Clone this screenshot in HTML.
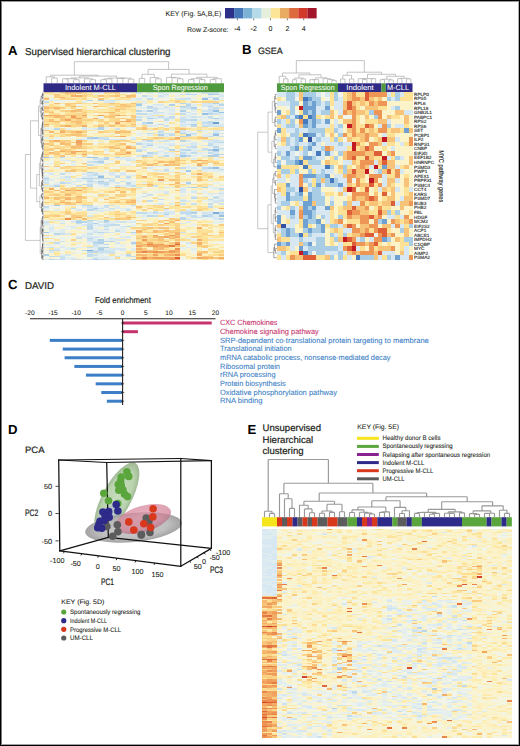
<!DOCTYPE html>
<html><head><meta charset="utf-8"><style>
html,body{margin:0;padding:0;background:#fff}
svg{display:block}
text{font-family:"Liberation Sans",sans-serif}
</style></head><body>
<svg width="520" height="746" viewBox="0 0 520 746" shape-rendering="crispEdges">
<rect x="0" y="0" width="520" height="746" fill="#fff"/>
<g shape-rendering="auto" text-rendering="geometricPrecision">
<text x="165.50" y="15.50" font-size="7.00" fill="#231f20" stroke="#231f20" stroke-width="0.08" textLength="55.70" lengthAdjust="spacingAndGlyphs">KEY (Fig. 5A,B,E)</text>
<rect x="225.00" y="8" width="9.21" height="10.4" fill="#2d3088"/>
<rect x="234.16" y="8" width="9.21" height="10.4" fill="#4577b8"/>
<rect x="243.32" y="8" width="9.21" height="10.4" fill="#7cb2d6"/>
<rect x="252.48" y="8" width="9.21" height="10.4" fill="#b6dbe8"/>
<rect x="261.64" y="8" width="9.21" height="10.4" fill="#e6efdc"/>
<rect x="270.80" y="8" width="9.21" height="10.4" fill="#fde597"/>
<rect x="279.96" y="8" width="9.21" height="10.4" fill="#e9aa62"/>
<rect x="289.12" y="8" width="9.21" height="10.4" fill="#dd6b3e"/>
<rect x="298.28" y="8" width="9.21" height="10.4" fill="#d13a2b"/>
<rect x="307.44" y="8" width="9.21" height="10.4" fill="#a3172c"/>
<line x1="237.40" y1="18.4" x2="237.40" y2="20.3" stroke="#231f20" stroke-width="0.6"/>
<line x1="253.70" y1="18.4" x2="253.70" y2="20.3" stroke="#231f20" stroke-width="0.6"/>
<line x1="270.50" y1="18.4" x2="270.50" y2="20.3" stroke="#231f20" stroke-width="0.6"/>
<line x1="287.40" y1="18.4" x2="287.40" y2="20.3" stroke="#231f20" stroke-width="0.6"/>
<line x1="303.70" y1="18.4" x2="303.70" y2="20.3" stroke="#231f20" stroke-width="0.6"/>
<text x="187.00" y="31.60" font-size="7.00" fill="#231f20" stroke="#231f20" stroke-width="0.08" textLength="41.50" lengthAdjust="spacingAndGlyphs">Row Z-score:</text>
<text x="237.40" y="31.40" font-size="7.00" fill="#231f20" stroke="#231f20" stroke-width="0.08" text-anchor="middle">-4</text>
<text x="253.70" y="31.40" font-size="7.00" fill="#231f20" stroke="#231f20" stroke-width="0.08" text-anchor="middle">-2</text>
<text x="270.50" y="31.40" font-size="7.00" fill="#231f20" stroke="#231f20" stroke-width="0.08" text-anchor="middle">0</text>
<text x="287.40" y="31.40" font-size="7.00" fill="#231f20" stroke="#231f20" stroke-width="0.08" text-anchor="middle">2</text>
<text x="303.70" y="31.40" font-size="7.00" fill="#231f20" stroke="#231f20" stroke-width="0.08" text-anchor="middle">4</text>
<text x="8.00" y="55.00" font-size="13.20" fill="#000" font-weight="bold">A</text>
<text x="25.00" y="54.50" font-size="10.00" fill="#231f20" stroke="#231f20" stroke-width="0.22" textLength="145.50" lengthAdjust="spacingAndGlyphs">Supervised hierarchical clustering</text>
<g shape-rendering="crispEdges" transform="translate(43.500 92.200) scale(5.46970 1.50000)">
<path fill="#6b9dd1" d="M31 20h1v1h-1z"/>
<path fill="#81aed8" d="M31 80h1v1h-1zM8 105h1v1h-1z"/>
<path fill="#8db7dc" d="M31 38h1v1h-1z"/>
<path fill="#98c0e0" d="M29 4h1v1h-1zM31 12h1v1h-1zM32 13h1v1h-1zM29 14h1v1h-1zM26 28h1v1h-1zM31 28h1v1h-1zM31 50h1v1h-1zM10 56h1v1h-1zM32 82h1v1h-1z"/>
<path fill="#a4c9e4" d="M30 1h1v1h-1zM17 8h1v1h-1zM19 20h1v1h-1zM9 30h1v1h-1zM25 42h1v1h-1zM0 43h1v1h-1zM8 43h2v1h-2zM26 52h1v1h-1zM2 75h1v1h-1zM11 85h1v1h-1zM0 93h1v1h-1z"/>
<path fill="#afd0e7" d="M31 1h1v1h-1zM31 4h1v1h-1zM10 5h1v1h-1zM31 7h1v1h-1zM23 8h1v1h-1zM19 9h1v1h-1zM25 9h1v1h-1zM27 10h1v1h-1zM19 12h1v1h-1zM25 12h1v1h-1zM19 17h1v1h-1zM31 17h1v1h-1zM27 21h1v1h-1zM10 23h1v1h-1zM10 24h1v1h-1zM25 27h1v1h-1zM21 28h1v1h-1zM25 29h1v1h-1zM8 30h1v1h-1zM19 35h1v1h-1zM30 38h1v1h-1zM31 41h1v1h-1zM18 42h1v1h-1zM30 42h2v1h-2zM10 46h1v1h-1zM30 50h1v1h-1zM8 53h1v1h-1zM0 57h1v1h-1zM7 57h1v1h-1zM10 59h1v1h-1zM26 60h1v1h-1zM27 63h1v1h-1zM29 63h1v1h-1zM9 77h1v1h-1zM27 80h1v1h-1zM22 81h1v1h-1zM29 82h1v1h-1zM6 86h1v1h-1zM9 87h1v1h-1zM10 98h1v1h-1zM10 100h1v1h-1zM16 100h1v1h-1zM11 103h1v1h-1zM10 104h1v1h-1zM0 108h1v1h-1zM9 111h1v1h-1zM16 111h1v1h-1z"/>
<path fill="#b9d6ea" d="M26 1h1v1h-1zM8 5h1v1h-1zM25 7h1v1h-1zM26 8h1v1h-1zM32 8h1v1h-1zM30 9h1v1h-1zM17 12h1v1h-1zM30 14h1v1h-1zM17 18h1v1h-1zM27 18h1v1h-1zM30 19h1v1h-1zM21 21h1v1h-1zM27 22h1v1h-1zM2 24h1v1h-1zM31 27h1v1h-1zM11 31h1v1h-1zM19 32h1v1h-1zM25 32h1v1h-1zM32 33h1v1h-1zM17 34h1v1h-1zM30 35h1v1h-1zM31 36h1v1h-1zM23 38h1v1h-1zM26 38h1v1h-1zM17 39h1v1h-1zM31 39h1v1h-1zM19 40h1v1h-1zM32 41h1v1h-1zM22 42h1v1h-1zM26 42h1v1h-1zM11 43h1v1h-1zM13 43h1v1h-1zM11 44h1v1h-1zM8 57h2v1h-2zM11 57h1v1h-1zM8 59h1v1h-1zM3 60h1v1h-1zM15 60h1v1h-1zM11 61h1v1h-1zM2 62h1v1h-1zM7 75h2v1h-2zM8 78h1v1h-1zM32 80h1v1h-1zM19 82h1v1h-1zM25 83h1v1h-1zM25 84h1v1h-1zM32 84h1v1h-1zM6 85h1v1h-1zM8 85h1v1h-1zM7 86h1v1h-1zM11 86h1v1h-1zM8 89h1v1h-1zM11 89h1v1h-1zM15 89h1v1h-1zM8 90h1v1h-1zM10 93h1v1h-1zM16 93h1v1h-1zM2 94h1v1h-1zM8 97h1v1h-1zM10 99h3v1h-3zM9 100h1v1h-1zM11 101h1v1h-1zM10 103h1v1h-1zM10 105h1v1h-1zM8 106h2v1h-2zM15 108h1v1h-1zM1 111h1v1h-1z"/>
<path fill="#c3dced" d="M22 1h1v1h-1zM27 1h1v1h-1zM18 2h1v1h-1zM19 4h1v1h-1zM0 6h1v1h-1zM17 7h1v1h-1zM26 9h1v1h-1zM19 10h1v1h-1zM31 10h1v1h-1zM20 11h1v1h-1zM30 11h1v1h-1zM17 14h2v1h-2zM25 14h1v1h-1zM21 16h1v1h-1zM23 16h1v1h-1zM30 16h1v1h-1zM22 17h1v1h-1zM25 17h1v1h-1zM22 18h1v1h-1zM26 18h1v1h-1zM25 19h1v1h-1zM18 20h1v1h-1zM29 20h2v1h-2zM29 22h1v1h-1zM28 25h1v1h-1zM21 26h1v1h-1zM19 27h1v1h-1zM27 27h1v1h-1zM23 28h1v1h-1zM26 29h1v1h-1zM30 29h1v1h-1zM10 30h1v1h-1zM30 34h1v1h-1zM27 36h1v1h-1zM29 37h1v1h-1zM32 37h1v1h-1zM17 38h1v1h-1zM25 38h1v1h-1zM25 40h1v1h-1zM27 40h1v1h-1zM30 40h1v1h-1zM1 43h1v1h-1zM3 43h1v1h-1zM9 46h1v1h-1zM8 48h1v1h-1zM28 49h1v1h-1zM25 50h1v1h-1zM29 50h1v1h-1zM22 51h1v1h-1zM32 51h1v1h-1zM3 54h1v1h-1zM9 54h1v1h-1zM9 55h2v1h-2zM13 56h1v1h-1zM15 56h1v1h-1zM10 57h1v1h-1zM10 60h2v1h-2zM7 61h2v1h-2zM15 61h1v1h-1zM8 62h1v1h-1zM16 62h1v1h-1zM32 64h1v1h-1zM18 69h1v1h-1zM27 70h1v1h-1zM31 70h1v1h-1zM21 71h1v1h-1zM30 71h1v1h-1zM19 72h1v1h-1zM30 74h1v1h-1zM11 75h1v1h-1zM16 75h1v1h-1zM0 76h1v1h-1zM30 76h1v1h-1zM5 77h1v1h-1zM26 79h1v1h-1zM17 80h2v1h-2zM20 80h1v1h-1zM25 80h2v1h-2zM26 81h1v1h-1zM30 81h1v1h-1zM32 81h1v1h-1zM20 82h1v1h-1zM27 82h1v1h-1zM30 82h1v1h-1zM28 83h1v1h-1zM6 87h1v1h-1zM8 88h1v1h-1zM12 88h2v1h-2zM8 91h1v1h-1zM11 91h1v1h-1zM13 92h1v1h-1zM6 97h1v1h-1zM9 99h1v1h-1zM2 100h1v1h-1zM8 103h1v1h-1zM1 105h2v1h-2zM7 105h1v1h-1zM8 108h1v1h-1zM1 109h2v1h-2zM8 109h1v1h-1zM16 109h1v1h-1zM3 111h1v1h-1zM10 111h1v1h-1z"/>
<path fill="#cde2ef" d="M29 0h3v1h-3zM25 1h1v1h-1zM21 2h1v1h-1zM30 3h2v1h-2zM25 4h2v1h-2zM12 5h1v1h-1zM26 7h1v1h-1zM30 7h1v1h-1zM22 9h1v1h-1zM20 10h1v1h-1zM25 10h2v1h-2zM27 11h1v1h-1zM31 11h1v1h-1zM29 12h2v1h-2zM20 13h2v1h-2zM26 13h1v1h-1zM30 13h1v1h-1zM31 14h1v1h-1zM17 16h1v1h-1zM27 16h1v1h-1zM20 17h1v1h-1zM23 17h1v1h-1zM30 17h1v1h-1zM25 18h1v1h-1zM18 21h1v1h-1zM26 21h1v1h-1zM30 21h1v1h-1zM22 22h1v1h-1zM30 22h2v1h-2zM13 24h1v1h-1zM25 25h1v1h-1zM32 25h1v1h-1zM22 27h2v1h-2zM32 29h1v1h-1zM11 30h1v1h-1zM6 31h1v1h-1zM14 31h1v1h-1zM16 31h1v1h-1zM22 32h1v1h-1zM31 32h1v1h-1zM31 33h1v1h-1zM19 34h1v1h-1zM23 35h1v1h-1zM25 35h1v1h-1zM18 36h1v1h-1zM26 36h1v1h-1zM22 37h1v1h-1zM31 37h1v1h-1zM29 38h1v1h-1zM20 40h1v1h-1zM25 41h1v1h-1zM19 42h1v1h-1zM9 44h2v1h-2zM10 45h1v1h-1zM15 45h1v1h-1zM8 46h1v1h-1zM10 47h1v1h-1zM22 52h1v1h-1zM8 55h1v1h-1zM13 55h1v1h-1zM4 56h1v1h-1zM0 58h1v1h-1zM8 58h1v1h-1zM12 58h1v1h-1zM9 59h1v1h-1zM12 59h1v1h-1zM14 59h1v1h-1zM0 60h1v1h-1zM4 60h1v1h-1zM6 62h1v1h-1zM13 62h1v1h-1zM20 62h1v1h-1zM17 63h1v1h-1zM26 63h1v1h-1zM18 67h1v1h-1zM22 67h1v1h-1zM32 67h1v1h-1zM19 68h1v1h-1zM31 69h1v1h-1zM25 72h1v1h-1zM32 72h1v1h-1zM31 73h1v1h-1zM25 74h1v1h-1zM27 74h1v1h-1zM32 74h1v1h-1zM12 75h1v1h-1zM8 76h1v1h-1zM11 76h1v1h-1zM10 77h1v1h-1zM12 77h1v1h-1zM9 78h1v1h-1zM15 78h1v1h-1zM20 79h1v1h-1zM25 79h1v1h-1zM27 79h1v1h-1zM22 80h1v1h-1zM29 80h1v1h-1zM27 83h1v1h-1zM9 85h1v1h-1zM0 86h1v1h-1zM8 86h1v1h-1zM14 86h1v1h-1zM3 87h1v1h-1zM8 87h1v1h-1zM11 88h1v1h-1zM9 93h1v1h-1zM11 93h1v1h-1zM25 93h1v1h-1zM3 94h1v1h-1zM8 94h1v1h-1zM12 97h1v1h-1zM8 98h1v1h-1zM3 99h1v1h-1zM9 101h1v1h-1zM9 102h1v1h-1zM1 103h1v1h-1zM5 104h1v1h-1zM9 105h1v1h-1zM11 105h1v1h-1zM10 106h3v1h-3zM12 107h1v1h-1zM9 108h1v1h-1zM3 109h1v1h-1zM13 109h1v1h-1zM15 109h1v1h-1zM3 110h1v1h-1zM9 110h1v1h-1zM2 111h1v1h-1zM5 111h2v1h-2zM8 111h1v1h-1zM11 111h1v1h-1z"/>
<path fill="#d7e8f2" d="M17 0h1v1h-1zM21 0h1v1h-1zM32 2h1v1h-1zM29 3h1v1h-1zM17 4h1v1h-1zM24 4h1v1h-1zM11 6h2v1h-2zM29 7h1v1h-1zM32 7h1v1h-1zM20 8h2v1h-2zM29 8h2v1h-2zM29 9h1v1h-1zM22 10h1v1h-1zM30 10h1v1h-1zM32 10h1v1h-1zM23 11h1v1h-1zM18 12h1v1h-1zM20 12h1v1h-1zM31 13h1v1h-1zM19 14h2v1h-2zM23 14h1v1h-1zM27 14h1v1h-1zM26 15h1v1h-1zM19 16h1v1h-1zM25 16h1v1h-1zM28 16h1v1h-1zM32 17h1v1h-1zM29 19h1v1h-1zM25 20h1v1h-1zM25 21h1v1h-1zM31 21h2v1h-2zM19 22h1v1h-1zM25 22h1v1h-1zM32 22h1v1h-1zM7 23h1v1h-1zM16 23h1v1h-1zM7 24h1v1h-1zM9 24h1v1h-1zM19 25h1v1h-1zM21 25h1v1h-1zM31 25h1v1h-1zM25 26h1v1h-1zM31 26h1v1h-1zM20 27h2v1h-2zM30 27h1v1h-1zM32 27h1v1h-1zM22 29h1v1h-1zM29 29h1v1h-1zM7 31h2v1h-2zM10 31h1v1h-1zM12 31h2v1h-2zM18 32h1v1h-1zM21 32h1v1h-1zM26 32h1v1h-1zM30 32h1v1h-1zM32 32h1v1h-1zM17 33h1v1h-1zM27 33h1v1h-1zM30 33h1v1h-1zM18 34h1v1h-1zM23 34h1v1h-1zM27 34h1v1h-1zM27 35h1v1h-1zM29 35h1v1h-1zM21 36h1v1h-1zM18 38h1v1h-1zM21 39h1v1h-1zM22 40h1v1h-1zM31 40h1v1h-1zM19 41h2v1h-2zM17 42h1v1h-1zM29 42h1v1h-1zM7 43h1v1h-1zM14 43h1v1h-1zM25 43h1v1h-1zM15 44h1v1h-1zM4 45h1v1h-1zM16 45h1v1h-1zM5 46h1v1h-1zM26 49h1v1h-1zM19 50h1v1h-1zM27 50h1v1h-1zM29 51h1v1h-1zM0 53h1v1h-1zM4 53h1v1h-1zM9 53h1v1h-1zM12 53h1v1h-1zM1 54h1v1h-1zM7 54h2v1h-2zM12 54h1v1h-1zM14 54h1v1h-1zM16 55h1v1h-1zM8 56h1v1h-1zM6 57h1v1h-1zM12 57h1v1h-1zM15 57h1v1h-1zM4 58h1v1h-1zM5 59h2v1h-2zM11 59h1v1h-1zM8 60h1v1h-1zM13 60h1v1h-1zM2 61h1v1h-1zM10 61h1v1h-1zM26 61h1v1h-1zM0 62h2v1h-2zM11 62h1v1h-1zM15 62h1v1h-1zM22 63h1v1h-1zM25 64h1v1h-1zM25 65h1v1h-1zM22 66h1v1h-1zM25 66h1v1h-1zM27 66h1v1h-1zM30 67h2v1h-2zM27 69h1v1h-1zM32 71h1v1h-1zM31 72h1v1h-1zM21 74h1v1h-1zM30 75h1v1h-1zM9 76h1v1h-1zM8 77h1v1h-1zM6 78h1v1h-1zM22 78h1v1h-1zM10 79h1v1h-1zM23 79h1v1h-1zM19 80h1v1h-1zM21 80h1v1h-1zM23 80h1v1h-1zM30 80h1v1h-1zM29 81h1v1h-1zM31 81h1v1h-1zM8 82h1v1h-1zM26 82h1v1h-1zM30 83h2v1h-2zM26 84h1v1h-1zM31 84h1v1h-1zM2 85h1v1h-1zM5 86h1v1h-1zM10 86h1v1h-1zM13 86h1v1h-1zM16 86h1v1h-1zM0 87h1v1h-1zM12 87h1v1h-1zM25 87h1v1h-1zM7 88h1v1h-1zM10 88h1v1h-1zM5 89h1v1h-1zM14 89h1v1h-1zM1 90h1v1h-1zM1 91h1v1h-1zM9 92h1v1h-1zM3 93h1v1h-1zM12 93h1v1h-1zM4 94h1v1h-1zM6 96h1v1h-1zM8 96h2v1h-2zM15 96h1v1h-1zM13 98h2v1h-2zM0 99h1v1h-1zM8 99h1v1h-1zM13 100h1v1h-1zM26 100h1v1h-1zM0 101h1v1h-1zM10 101h1v1h-1zM16 101h1v1h-1zM0 103h1v1h-1zM3 103h1v1h-1zM2 104h1v1h-1zM12 104h3v1h-3zM12 105h1v1h-1zM14 105h1v1h-1zM1 106h1v1h-1zM8 107h1v1h-1zM10 107h1v1h-1zM4 108h1v1h-1z"/>
<path fill="#dfecf0" d="M19 0h1v1h-1zM26 0h1v1h-1zM9 1h1v1h-1zM32 1h1v1h-1zM19 2h1v1h-1zM21 3h1v1h-1zM26 3h1v1h-1zM16 4h1v1h-1zM1 5h2v1h-2zM11 5h1v1h-1zM13 5h1v1h-1zM15 5h1v1h-1zM17 5h1v1h-1zM31 5h1v1h-1zM7 6h1v1h-1zM18 7h1v1h-1zM27 8h1v1h-1zM31 8h1v1h-1zM17 9h1v1h-1zM27 9h1v1h-1zM18 10h1v1h-1zM21 10h1v1h-1zM23 10h1v1h-1zM21 11h1v1h-1zM25 11h2v1h-2zM23 12h1v1h-1zM27 12h1v1h-1zM25 13h1v1h-1zM21 14h1v1h-1zM32 14h1v1h-1zM19 15h1v1h-1zM18 16h1v1h-1zM20 16h1v1h-1zM22 16h1v1h-1zM26 16h1v1h-1zM29 16h1v1h-1zM32 16h1v1h-1zM17 17h1v1h-1zM19 18h1v1h-1zM28 18h1v1h-1zM31 18h2v1h-2zM27 19h1v1h-1zM27 20h1v1h-1zM29 21h1v1h-1zM20 22h1v1h-1zM11 23h1v1h-1zM0 24h1v1h-1zM23 25h1v1h-1zM29 25h1v1h-1zM26 26h1v1h-1zM18 27h1v1h-1zM19 28h1v1h-1zM22 28h1v1h-1zM27 28h1v1h-1zM29 28h1v1h-1zM21 29h1v1h-1zM31 29h1v1h-1zM0 30h1v1h-1zM16 30h1v1h-1zM31 31h1v1h-1zM23 32h1v1h-1zM29 32h1v1h-1zM10 33h1v1h-1zM22 34h1v1h-1zM26 34h1v1h-1zM31 34h1v1h-1zM16 35h1v1h-1zM22 36h1v1h-1zM27 37h1v1h-1zM11 38h1v1h-1zM22 38h1v1h-1zM27 38h2v1h-2zM32 38h1v1h-1zM25 39h1v1h-1zM27 39h1v1h-1zM30 39h1v1h-1zM23 40h1v1h-1zM26 40h1v1h-1zM28 40h1v1h-1zM26 41h1v1h-1zM28 41h1v1h-1zM21 42h1v1h-1zM24 42h1v1h-1zM27 42h1v1h-1zM6 43h1v1h-1zM15 43h1v1h-1zM14 44h1v1h-1zM16 44h1v1h-1zM27 44h1v1h-1zM3 45h1v1h-1zM9 47h1v1h-1zM11 47h1v1h-1zM5 48h1v1h-1zM9 48h1v1h-1zM20 49h2v1h-2zM31 49h1v1h-1zM26 50h1v1h-1zM28 51h1v1h-1zM30 51h2v1h-2zM20 52h2v1h-2zM29 52h1v1h-1zM31 52h2v1h-2zM11 53h1v1h-1zM13 53h2v1h-2zM2 55h1v1h-1zM12 55h1v1h-1zM14 55h2v1h-2zM0 56h1v1h-1zM3 56h1v1h-1zM7 56h1v1h-1zM2 57h3v1h-3zM14 57h1v1h-1zM1 58h1v1h-1zM6 58h2v1h-2zM10 58h1v1h-1zM0 59h1v1h-1zM3 59h1v1h-1zM16 59h1v1h-1zM21 59h1v1h-1zM26 59h1v1h-1zM9 60h1v1h-1zM5 61h1v1h-1zM16 61h1v1h-1zM14 62h1v1h-1zM30 62h1v1h-1zM23 63h1v1h-1zM28 63h1v1h-1zM30 63h2v1h-2zM31 64h1v1h-1zM27 65h1v1h-1zM32 66h1v1h-1zM32 68h1v1h-1zM11 69h1v1h-1zM29 69h1v1h-1zM25 71h1v1h-1zM26 72h1v1h-1zM30 72h1v1h-1zM23 74h1v1h-1zM1 75h1v1h-1zM7 76h1v1h-1zM13 76h1v1h-1zM0 77h1v1h-1zM13 77h3v1h-3zM2 78h1v1h-1zM10 78h3v1h-3zM26 78h1v1h-1zM22 79h1v1h-1zM28 79h1v1h-1zM30 79h1v1h-1zM32 79h1v1h-1zM18 81h1v1h-1zM25 81h1v1h-1zM18 82h1v1h-1zM22 82h1v1h-1zM31 82h1v1h-1zM12 83h1v1h-1zM3 85h1v1h-1zM13 85h1v1h-1zM12 86h1v1h-1zM15 86h1v1h-1zM26 86h1v1h-1zM32 86h1v1h-1zM11 87h1v1h-1zM0 88h1v1h-1zM9 88h1v1h-1zM4 89h1v1h-1zM10 89h1v1h-1zM5 90h1v1h-1zM11 90h1v1h-1zM14 90h1v1h-1zM3 91h1v1h-1zM10 91h1v1h-1zM13 91h1v1h-1zM1 92h1v1h-1zM3 92h1v1h-1zM14 92h1v1h-1zM8 93h1v1h-1zM14 93h1v1h-1zM10 94h1v1h-1zM16 94h1v1h-1zM7 95h1v1h-1zM0 96h1v1h-1zM7 96h1v1h-1zM10 96h1v1h-1zM14 96h1v1h-1zM3 97h1v1h-1zM9 97h1v1h-1zM26 97h1v1h-1zM9 98h1v1h-1zM12 98h1v1h-1zM1 99h1v1h-1zM5 99h2v1h-2zM6 103h1v1h-1zM9 103h1v1h-1zM26 103h1v1h-1zM4 104h1v1h-1zM9 104h1v1h-1zM11 104h1v1h-1zM16 104h1v1h-1zM27 104h1v1h-1zM16 105h1v1h-1zM5 107h1v1h-1zM11 107h1v1h-1zM3 108h1v1h-1zM11 109h1v1h-1zM4 110h2v1h-2zM10 110h2v1h-2zM0 111h1v1h-1zM12 111h3v1h-3z"/>
<path fill="#e8f0ed" d="M10 0h1v1h-1zM22 0h1v1h-1zM28 0h1v1h-1zM32 0h1v1h-1zM28 1h1v1h-1zM22 2h1v1h-1zM24 2h1v1h-1zM27 2h1v1h-1zM30 2h1v1h-1zM17 3h3v1h-3zM22 3h1v1h-1zM25 3h1v1h-1zM32 3h1v1h-1zM1 4h1v1h-1zM20 4h1v1h-1zM27 4h1v1h-1zM30 4h1v1h-1zM32 4h1v1h-1zM4 5h2v1h-2zM16 5h1v1h-1zM18 5h1v1h-1zM22 5h1v1h-1zM26 5h1v1h-1zM3 6h1v1h-1zM18 6h1v1h-1zM24 7h1v1h-1zM0 8h1v1h-1zM12 9h1v1h-1zM17 10h1v1h-1zM8 11h1v1h-1zM22 11h1v1h-1zM22 12h1v1h-1zM32 12h1v1h-1zM17 13h1v1h-1zM22 13h2v1h-2zM29 13h1v1h-1zM22 14h1v1h-1zM26 14h1v1h-1zM29 15h1v1h-1zM32 15h1v1h-1zM10 16h1v1h-1zM10 17h1v1h-1zM21 17h1v1h-1zM26 17h2v1h-2zM29 17h1v1h-1zM23 18h1v1h-1zM29 18h1v1h-1zM18 19h1v1h-1zM22 19h1v1h-1zM26 19h1v1h-1zM31 19h1v1h-1zM22 20h1v1h-1zM26 20h1v1h-1zM32 20h1v1h-1zM17 21h1v1h-1zM20 21h1v1h-1zM23 21h1v1h-1zM26 22h1v1h-1zM0 23h1v1h-1zM15 23h1v1h-1zM1 24h1v1h-1zM4 24h1v1h-1zM8 24h1v1h-1zM11 24h1v1h-1zM30 25h1v1h-1zM29 26h1v1h-1zM12 27h1v1h-1zM17 27h1v1h-1zM26 27h1v1h-1zM17 28h1v1h-1zM30 28h1v1h-1zM2 30h1v1h-1zM7 30h1v1h-1zM1 31h1v1h-1zM9 31h1v1h-1zM20 32h1v1h-1zM18 33h1v1h-1zM20 34h2v1h-2zM25 34h1v1h-1zM28 34h1v1h-1zM32 34h1v1h-1zM18 35h1v1h-1zM20 35h1v1h-1zM31 35h2v1h-2zM19 36h1v1h-1zM30 36h1v1h-1zM20 37h2v1h-2zM25 37h2v1h-2zM24 38h1v1h-1zM26 39h1v1h-1zM21 40h1v1h-1zM29 40h1v1h-1zM18 41h1v1h-1zM22 41h2v1h-2zM23 42h1v1h-1zM4 43h1v1h-1zM12 43h1v1h-1zM3 44h1v1h-1zM13 44h1v1h-1zM31 44h1v1h-1zM8 45h2v1h-2zM12 45h1v1h-1zM1 47h1v1h-1zM3 48h1v1h-1zM14 48h2v1h-2zM22 49h1v1h-1zM29 49h2v1h-2zM2 50h1v1h-1zM22 50h1v1h-1zM32 50h1v1h-1zM0 51h1v1h-1zM23 52h1v1h-1zM25 52h1v1h-1zM30 52h1v1h-1zM1 53h2v1h-2zM10 53h1v1h-1zM25 53h1v1h-1zM4 54h1v1h-1zM10 54h1v1h-1zM0 55h1v1h-1zM27 55h1v1h-1zM9 56h1v1h-1zM1 57h1v1h-1zM5 57h1v1h-1zM9 58h1v1h-1zM15 58h1v1h-1zM30 58h1v1h-1zM2 60h1v1h-1zM5 60h1v1h-1zM12 60h1v1h-1zM16 60h1v1h-1zM18 60h1v1h-1zM31 60h1v1h-1zM1 61h1v1h-1zM4 62h1v1h-1zM10 62h1v1h-1zM32 62h1v1h-1zM15 63h1v1h-1zM25 63h1v1h-1zM21 65h1v1h-1zM20 66h2v1h-2zM29 66h1v1h-1zM10 67h1v1h-1zM19 67h1v1h-1zM29 67h1v1h-1zM25 68h1v1h-1zM30 68h1v1h-1zM9 69h1v1h-1zM21 69h1v1h-1zM25 69h1v1h-1zM32 69h1v1h-1zM17 70h1v1h-1zM32 70h1v1h-1zM17 72h1v1h-1zM29 72h1v1h-1zM20 74h1v1h-1zM3 75h4v1h-4zM10 76h1v1h-1zM31 77h1v1h-1zM0 78h1v1h-1zM14 78h1v1h-1zM8 80h2v1h-2zM19 81h1v1h-1zM21 81h1v1h-1zM23 81h1v1h-1zM17 82h1v1h-1zM28 82h1v1h-1zM18 83h1v1h-1zM22 83h2v1h-2zM29 83h1v1h-1zM18 84h1v1h-1zM27 84h1v1h-1zM29 84h1v1h-1zM1 85h1v1h-1zM5 85h1v1h-1zM10 85h1v1h-1zM15 85h1v1h-1zM3 86h1v1h-1zM31 86h1v1h-1zM30 87h2v1h-2zM1 88h1v1h-1zM6 88h1v1h-1zM16 88h1v1h-1zM27 88h1v1h-1zM1 89h1v1h-1zM12 89h1v1h-1zM16 89h1v1h-1zM19 89h1v1h-1zM26 89h1v1h-1zM9 90h1v1h-1zM13 90h1v1h-1zM0 91h1v1h-1zM4 91h1v1h-1zM6 91h1v1h-1zM9 91h1v1h-1zM12 91h1v1h-1zM14 91h2v1h-2zM21 91h1v1h-1zM2 92h1v1h-1zM8 92h1v1h-1zM10 92h2v1h-2zM1 93h2v1h-2zM27 93h1v1h-1zM7 94h1v1h-1zM9 94h1v1h-1zM2 95h1v1h-1zM8 95h1v1h-1zM13 95h1v1h-1zM25 95h1v1h-1zM15 97h1v1h-1zM30 97h1v1h-1zM11 98h1v1h-1zM27 98h1v1h-1zM16 99h1v1h-1zM25 99h1v1h-1zM8 100h1v1h-1zM2 101h1v1h-1zM6 101h1v1h-1zM13 101h2v1h-2zM26 101h1v1h-1zM1 102h1v1h-1zM3 102h1v1h-1zM10 102h1v1h-1zM14 102h1v1h-1zM27 102h1v1h-1zM4 103h2v1h-2zM7 103h1v1h-1zM13 103h1v1h-1zM25 103h1v1h-1zM8 104h1v1h-1zM25 104h1v1h-1zM0 105h1v1h-1zM3 105h1v1h-1zM27 105h1v1h-1zM10 108h1v1h-1zM14 108h1v1h-1zM9 109h2v1h-2zM12 109h1v1h-1zM12 110h1v1h-1zM4 111h1v1h-1zM7 111h1v1h-1z"/>
<path fill="#f0f4eb" d="M18 0h1v1h-1zM20 0h1v1h-1zM23 0h2v1h-2zM27 0h1v1h-1zM17 1h1v1h-1zM20 1h2v1h-2zM24 1h1v1h-1zM26 2h1v1h-1zM20 3h1v1h-1zM23 3h1v1h-1zM22 4h1v1h-1zM3 5h1v1h-1zM14 5h1v1h-1zM20 5h2v1h-2zM2 6h1v1h-1zM8 6h1v1h-1zM15 6h1v1h-1zM20 6h1v1h-1zM21 7h1v1h-1zM23 7h1v1h-1zM27 7h2v1h-2zM6 8h1v1h-1zM18 8h2v1h-2zM18 9h1v1h-1zM21 9h1v1h-1zM32 9h1v1h-1zM24 10h1v1h-1zM28 10h2v1h-2zM4 11h1v1h-1zM18 11h2v1h-2zM29 11h1v1h-1zM21 12h1v1h-1zM24 12h1v1h-1zM18 13h2v1h-2zM27 13h1v1h-1zM22 15h1v1h-1zM24 16h1v1h-1zM31 16h1v1h-1zM20 18h2v1h-2zM19 19h1v1h-1zM32 19h1v1h-1zM17 20h1v1h-1zM20 20h2v1h-2zM3 23h1v1h-1zM12 23h1v1h-1zM22 23h1v1h-1zM15 24h1v1h-1zM26 25h1v1h-1zM9 26h1v1h-1zM17 26h1v1h-1zM27 26h1v1h-1zM32 26h1v1h-1zM32 28h1v1h-1zM16 29h1v1h-1zM24 29h1v1h-1zM12 30h1v1h-1zM15 30h1v1h-1zM2 31h1v1h-1zM9 33h1v1h-1zM11 33h1v1h-1zM19 33h1v1h-1zM23 33h1v1h-1zM29 33h1v1h-1zM9 34h1v1h-1zM24 34h1v1h-1zM21 35h1v1h-1zM20 36h1v1h-1zM32 36h1v1h-1zM30 37h1v1h-1zM20 38h2v1h-2zM19 39h1v1h-1zM32 39h1v1h-1zM11 40h1v1h-1zM18 40h1v1h-1zM21 41h1v1h-1zM8 42h1v1h-1zM28 42h1v1h-1zM32 42h1v1h-1zM5 43h1v1h-1zM10 43h1v1h-1zM16 43h1v1h-1zM1 45h1v1h-1zM1 46h1v1h-1zM7 46h1v1h-1zM11 46h2v1h-2zM15 46h1v1h-1zM0 47h1v1h-1zM15 47h2v1h-2zM30 47h1v1h-1zM0 48h1v1h-1zM16 48h1v1h-1zM26 48h1v1h-1zM23 49h2v1h-2zM32 49h1v1h-1zM0 50h1v1h-1zM12 50h2v1h-2zM17 50h1v1h-1zM20 50h2v1h-2zM9 51h1v1h-1zM19 51h1v1h-1zM27 51h1v1h-1zM11 52h1v1h-1zM19 52h1v1h-1zM3 53h1v1h-1zM5 53h3v1h-3zM15 53h1v1h-1zM26 53h1v1h-1zM32 53h1v1h-1zM0 54h1v1h-1zM5 54h1v1h-1zM13 54h1v1h-1zM23 54h1v1h-1zM26 54h1v1h-1zM32 54h1v1h-1zM3 55h1v1h-1zM5 55h1v1h-1zM7 55h1v1h-1zM11 55h1v1h-1zM11 58h1v1h-1zM16 58h1v1h-1zM13 59h1v1h-1zM15 59h1v1h-1zM1 60h1v1h-1zM6 60h2v1h-2zM22 60h1v1h-1zM25 60h1v1h-1zM27 60h1v1h-1zM32 60h1v1h-1zM9 61h1v1h-1zM12 61h1v1h-1zM14 61h1v1h-1zM31 61h1v1h-1zM5 62h1v1h-1zM9 62h1v1h-1zM12 62h1v1h-1zM9 63h1v1h-1zM11 63h1v1h-1zM19 63h1v1h-1zM18 64h1v1h-1zM30 64h1v1h-1zM17 65h1v1h-1zM29 65h2v1h-2zM26 66h1v1h-1zM8 67h1v1h-1zM27 67h1v1h-1zM17 68h2v1h-2zM23 68h1v1h-1zM31 68h1v1h-1zM17 69h1v1h-1zM30 69h1v1h-1zM23 70h1v1h-1zM10 71h1v1h-1zM17 71h1v1h-1zM20 71h1v1h-1zM27 71h1v1h-1zM31 71h1v1h-1zM21 72h1v1h-1zM23 72h1v1h-1zM19 73h1v1h-1zM21 73h1v1h-1zM27 73h1v1h-1zM17 74h2v1h-2zM0 75h1v1h-1zM9 75h2v1h-2zM13 75h1v1h-1zM15 75h1v1h-1zM1 76h3v1h-3zM6 76h1v1h-1zM15 76h2v1h-2zM1 77h1v1h-1zM3 77h1v1h-1zM6 77h1v1h-1zM18 77h1v1h-1zM7 78h1v1h-1zM17 79h1v1h-1zM31 79h1v1h-1zM28 80h1v1h-1zM20 81h1v1h-1zM27 81h2v1h-2zM25 82h1v1h-1zM21 83h1v1h-1zM24 83h1v1h-1zM21 84h1v1h-1zM28 84h1v1h-1zM30 84h1v1h-1zM0 85h1v1h-1zM4 85h1v1h-1zM16 85h1v1h-1zM32 85h1v1h-1zM9 86h1v1h-1zM7 87h1v1h-1zM10 87h1v1h-1zM16 87h1v1h-1zM21 87h1v1h-1zM2 88h1v1h-1zM14 88h1v1h-1zM2 89h2v1h-2zM6 89h1v1h-1zM9 89h1v1h-1zM22 89h1v1h-1zM25 89h1v1h-1zM0 90h1v1h-1zM4 90h1v1h-1zM12 90h1v1h-1zM2 91h1v1h-1zM23 91h1v1h-1zM7 92h1v1h-1zM16 92h1v1h-1zM13 93h1v1h-1zM0 94h2v1h-2zM6 94h1v1h-1zM14 94h2v1h-2zM27 95h1v1h-1zM1 96h1v1h-1zM3 96h2v1h-2zM12 96h1v1h-1zM2 97h1v1h-1zM7 97h1v1h-1zM11 97h1v1h-1zM22 97h1v1h-1zM27 97h1v1h-1zM1 98h1v1h-1zM3 98h1v1h-1zM2 99h1v1h-1zM32 99h1v1h-1zM4 100h1v1h-1zM25 100h1v1h-1zM31 100h2v1h-2zM1 101h1v1h-1zM3 101h1v1h-1zM8 101h1v1h-1zM15 101h1v1h-1zM2 102h1v1h-1zM6 102h1v1h-1zM11 102h1v1h-1zM13 102h1v1h-1zM26 102h1v1h-1zM16 103h1v1h-1zM3 104h1v1h-1zM29 104h1v1h-1zM5 105h2v1h-2zM13 105h1v1h-1zM6 106h1v1h-1zM13 106h1v1h-1zM27 106h1v1h-1zM6 107h1v1h-1zM27 107h1v1h-1zM11 108h1v1h-1zM0 109h1v1h-1zM4 109h2v1h-2zM14 109h1v1h-1zM27 109h1v1h-1zM0 110h1v1h-1zM7 110h1v1h-1zM15 111h1v1h-1zM25 111h1v1h-1zM27 111h1v1h-1z"/>
<path fill="#f5f4dc" d="M14 0h2v1h-2zM25 0h1v1h-1zM23 1h1v1h-1zM1 2h1v1h-1zM17 2h1v1h-1zM29 2h1v1h-1zM31 2h1v1h-1zM10 3h1v1h-1zM12 3h1v1h-1zM24 3h1v1h-1zM28 3h1v1h-1zM9 4h1v1h-1zM18 4h1v1h-1zM21 4h1v1h-1zM0 5h1v1h-1zM7 5h1v1h-1zM27 5h2v1h-2zM9 6h1v1h-1zM14 6h1v1h-1zM22 7h1v1h-1zM3 8h1v1h-1zM9 8h1v1h-1zM24 8h1v1h-1zM8 9h1v1h-1zM20 9h1v1h-1zM28 9h1v1h-1zM6 10h1v1h-1zM10 10h1v1h-1zM9 11h1v1h-1zM26 12h1v1h-1zM24 13h1v1h-1zM9 14h1v1h-1zM27 15h2v1h-2zM30 15h1v1h-1zM8 16h1v1h-1zM15 16h1v1h-1zM18 17h1v1h-1zM28 17h1v1h-1zM18 18h1v1h-1zM30 18h1v1h-1zM23 19h1v1h-1zM9 20h1v1h-1zM24 20h1v1h-1zM19 21h1v1h-1zM21 22h1v1h-1zM23 22h1v1h-1zM6 23h1v1h-1zM5 24h1v1h-1zM16 24h1v1h-1zM10 25h1v1h-1zM17 25h1v1h-1zM20 25h1v1h-1zM8 26h1v1h-1zM16 26h1v1h-1zM22 26h1v1h-1zM1 27h1v1h-1zM28 27h1v1h-1zM13 28h1v1h-1zM18 28h1v1h-1zM5 29h1v1h-1zM9 29h1v1h-1zM17 29h1v1h-1zM19 29h1v1h-1zM3 30h3v1h-3zM13 30h1v1h-1zM18 30h1v1h-1zM4 31h1v1h-1zM9 32h1v1h-1zM11 32h1v1h-1zM27 32h1v1h-1zM0 33h1v1h-1zM8 33h1v1h-1zM22 33h1v1h-1zM26 33h1v1h-1zM15 34h1v1h-1zM17 35h1v1h-1zM22 35h1v1h-1zM17 37h2v1h-2zM23 37h1v1h-1zM28 37h1v1h-1zM8 38h1v1h-1zM19 38h1v1h-1zM1 39h1v1h-1zM11 39h1v1h-1zM17 40h1v1h-1zM32 40h1v1h-1zM8 41h1v1h-1zM27 41h1v1h-1zM29 41h2v1h-2zM1 42h1v1h-1zM6 42h1v1h-1zM16 42h1v1h-1zM27 43h1v1h-1zM1 44h1v1h-1zM7 44h2v1h-2zM17 44h1v1h-1zM32 44h1v1h-1zM11 45h1v1h-1zM14 45h1v1h-1zM0 46h1v1h-1zM4 46h1v1h-1zM14 46h1v1h-1zM5 47h1v1h-1zM1 48h1v1h-1zM4 48h1v1h-1zM10 48h1v1h-1zM13 48h1v1h-1zM30 48h1v1h-1zM19 49h1v1h-1zM27 49h1v1h-1zM18 51h1v1h-1zM23 51h1v1h-1zM26 51h1v1h-1zM24 52h1v1h-1zM11 54h1v1h-1zM15 54h2v1h-2zM31 54h1v1h-1zM1 55h1v1h-1zM4 55h1v1h-1zM18 55h1v1h-1zM21 55h1v1h-1zM25 55h1v1h-1zM32 55h1v1h-1zM2 56h1v1h-1zM6 56h1v1h-1zM11 56h2v1h-2zM26 56h1v1h-1zM13 57h1v1h-1zM16 57h1v1h-1zM2 58h1v1h-1zM5 58h1v1h-1zM1 59h2v1h-2zM7 59h1v1h-1zM27 59h1v1h-1zM32 59h1v1h-1zM14 60h1v1h-1zM30 60h1v1h-1zM10 63h1v1h-1zM16 63h1v1h-1zM18 63h1v1h-1zM20 63h1v1h-1zM32 63h1v1h-1zM2 64h1v1h-1zM22 64h1v1h-1zM26 64h1v1h-1zM18 65h1v1h-1zM20 65h1v1h-1zM22 65h2v1h-2zM15 66h1v1h-1zM19 66h1v1h-1zM28 66h1v1h-1zM13 67h1v1h-1zM17 67h1v1h-1zM20 67h1v1h-1zM25 67h2v1h-2zM7 68h3v1h-3zM20 68h1v1h-1zM27 68h3v1h-3zM19 69h2v1h-2zM22 69h1v1h-1zM15 70h1v1h-1zM18 70h1v1h-1zM30 70h1v1h-1zM18 71h2v1h-2zM26 71h1v1h-1zM10 72h1v1h-1zM22 72h1v1h-1zM29 73h2v1h-2zM9 74h1v1h-1zM11 74h1v1h-1zM19 74h1v1h-1zM31 74h1v1h-1zM14 75h1v1h-1zM25 75h1v1h-1zM29 75h1v1h-1zM22 76h1v1h-1zM7 77h1v1h-1zM11 77h1v1h-1zM16 77h1v1h-1zM27 77h1v1h-1zM1 78h1v1h-1zM3 78h1v1h-1zM5 78h1v1h-1zM16 78h1v1h-1zM23 78h1v1h-1zM31 78h1v1h-1zM8 79h1v1h-1zM14 79h1v1h-1zM19 79h1v1h-1zM21 79h1v1h-1zM29 79h1v1h-1zM24 80h1v1h-1zM17 81h1v1h-1zM4 82h1v1h-1zM11 82h1v1h-1zM23 82h1v1h-1zM3 83h1v1h-1zM19 83h1v1h-1zM17 84h1v1h-1zM31 85h1v1h-1zM4 86h1v1h-1zM17 86h1v1h-1zM19 86h1v1h-1zM27 86h1v1h-1zM4 87h1v1h-1zM13 87h3v1h-3zM32 87h1v1h-1zM4 88h2v1h-2zM15 88h1v1h-1zM13 89h1v1h-1zM17 89h1v1h-1zM28 89h1v1h-1zM7 90h1v1h-1zM5 91h1v1h-1zM31 91h1v1h-1zM0 92h1v1h-1zM4 92h1v1h-1zM12 92h1v1h-1zM26 92h1v1h-1zM5 93h1v1h-1zM12 94h1v1h-1zM18 94h1v1h-1zM31 94h1v1h-1zM6 95h1v1h-1zM9 95h3v1h-3zM14 95h1v1h-1zM21 95h1v1h-1zM2 96h1v1h-1zM5 96h1v1h-1zM13 96h1v1h-1zM16 96h1v1h-1zM4 97h1v1h-1zM10 97h1v1h-1zM16 97h1v1h-1zM32 97h1v1h-1zM4 98h1v1h-1zM16 98h1v1h-1zM7 99h1v1h-1zM14 99h1v1h-1zM30 99h1v1h-1zM3 100h1v1h-1zM11 100h1v1h-1zM15 100h1v1h-1zM25 101h1v1h-1zM0 102h1v1h-1zM4 102h1v1h-1zM12 102h1v1h-1zM16 102h1v1h-1zM14 103h1v1h-1zM30 103h2v1h-2zM15 104h1v1h-1zM4 105h1v1h-1zM0 106h1v1h-1zM3 106h1v1h-1zM7 106h1v1h-1zM14 106h1v1h-1zM0 107h1v1h-1zM16 107h1v1h-1zM30 107h1v1h-1zM7 108h1v1h-1zM13 108h1v1h-1zM6 109h2v1h-2zM25 109h1v1h-1zM2 110h1v1h-1zM8 110h1v1h-1zM14 110h1v1h-1zM25 110h1v1h-1zM26 111h1v1h-1z"/>
<path fill="#faf3ce" d="M15 1h1v1h-1zM18 1h2v1h-2zM29 1h1v1h-1zM0 2h1v1h-1zM8 3h1v1h-1zM27 3h1v1h-1zM9 5h1v1h-1zM4 6h2v1h-2zM10 6h1v1h-1zM32 6h1v1h-1zM1 7h1v1h-1zM19 7h2v1h-2zM22 8h1v1h-1zM25 8h1v1h-1zM23 9h1v1h-1zM31 9h1v1h-1zM8 10h1v1h-1zM17 11h1v1h-1zM28 13h1v1h-1zM0 14h1v1h-1zM15 14h1v1h-1zM28 14h1v1h-1zM17 15h1v1h-1zM23 15h2v1h-2zM31 15h1v1h-1zM14 16h1v1h-1zM14 18h1v1h-1zM17 19h1v1h-1zM3 20h1v1h-1zM22 21h1v1h-1zM28 21h1v1h-1zM1 22h1v1h-1zM17 22h1v1h-1zM1 23h1v1h-1zM4 23h1v1h-1zM14 23h1v1h-1zM19 23h1v1h-1zM26 23h2v1h-2zM30 23h1v1h-1zM6 24h1v1h-1zM19 26h1v1h-1zM23 26h1v1h-1zM30 26h1v1h-1zM8 27h1v1h-1zM11 27h1v1h-1zM29 27h1v1h-1zM8 28h1v1h-1zM16 28h1v1h-1zM28 28h1v1h-1zM20 29h1v1h-1zM23 29h1v1h-1zM6 30h1v1h-1zM14 30h1v1h-1zM32 30h1v1h-1zM3 31h1v1h-1zM15 31h1v1h-1zM32 31h1v1h-1zM17 32h1v1h-1zM24 32h1v1h-1zM28 32h1v1h-1zM14 33h1v1h-1zM24 33h2v1h-2zM28 33h1v1h-1zM2 34h1v1h-1zM5 34h1v1h-1zM16 34h1v1h-1zM29 34h1v1h-1zM3 35h1v1h-1zM28 35h1v1h-1zM17 36h1v1h-1zM23 36h1v1h-1zM25 36h1v1h-1zM29 36h1v1h-1zM2 38h1v1h-1zM6 38h1v1h-1zM10 38h1v1h-1zM13 38h1v1h-1zM15 38h1v1h-1zM22 39h1v1h-1zM29 39h1v1h-1zM12 40h1v1h-1zM24 40h1v1h-1zM4 42h1v1h-1zM9 42h1v1h-1zM17 43h1v1h-1zM22 43h1v1h-1zM31 43h1v1h-1zM5 44h1v1h-1zM29 44h1v1h-1zM7 45h1v1h-1zM6 46h1v1h-1zM26 46h1v1h-1zM32 46h1v1h-1zM4 47h1v1h-1zM6 47h1v1h-1zM8 47h1v1h-1zM14 47h1v1h-1zM17 47h1v1h-1zM27 47h1v1h-1zM6 48h1v1h-1zM8 49h1v1h-1zM18 49h1v1h-1zM25 49h1v1h-1zM15 50h1v1h-1zM23 50h1v1h-1zM28 50h1v1h-1zM3 51h1v1h-1zM16 51h1v1h-1zM3 52h1v1h-1zM14 52h1v1h-1zM16 53h1v1h-1zM21 53h2v1h-2zM31 53h1v1h-1zM2 54h1v1h-1zM6 54h1v1h-1zM18 54h1v1h-1zM31 55h1v1h-1zM1 56h1v1h-1zM14 56h1v1h-1zM16 56h1v1h-1zM31 56h1v1h-1zM27 57h1v1h-1zM13 58h2v1h-2zM18 58h1v1h-1zM27 58h1v1h-1zM20 59h1v1h-1zM29 59h1v1h-1zM31 59h1v1h-1zM23 60h1v1h-1zM28 60h1v1h-1zM3 61h2v1h-2zM13 61h1v1h-1zM7 62h1v1h-1zM22 62h1v1h-1zM27 62h1v1h-1zM31 62h1v1h-1zM2 63h1v1h-1zM9 64h2v1h-2zM19 64h2v1h-2zM23 64h2v1h-2zM29 64h1v1h-1zM3 65h1v1h-1zM9 65h1v1h-1zM19 65h1v1h-1zM26 65h1v1h-1zM28 65h1v1h-1zM31 65h1v1h-1zM17 66h1v1h-1zM24 66h1v1h-1zM31 66h1v1h-1zM11 67h2v1h-2zM21 67h1v1h-1zM23 67h1v1h-1zM12 68h1v1h-1zM24 68h1v1h-1zM26 68h1v1h-1zM1 69h1v1h-1zM15 69h2v1h-2zM23 69h1v1h-1zM26 69h1v1h-1zM28 69h1v1h-1zM8 70h1v1h-1zM14 70h1v1h-1zM19 70h1v1h-1zM21 70h2v1h-2zM8 71h1v1h-1zM12 71h1v1h-1zM23 71h1v1h-1zM8 72h1v1h-1zM11 72h1v1h-1zM24 72h1v1h-1zM9 73h1v1h-1zM17 73h1v1h-1zM20 73h1v1h-1zM22 73h1v1h-1zM10 74h1v1h-1zM22 74h1v1h-1zM31 75h2v1h-2zM12 76h1v1h-1zM14 76h1v1h-1zM25 77h2v1h-2zM13 78h1v1h-1zM19 78h1v1h-1zM32 78h1v1h-1zM5 79h1v1h-1zM9 79h1v1h-1zM11 79h1v1h-1zM18 79h1v1h-1zM10 80h1v1h-1zM3 81h1v1h-1zM8 81h1v1h-1zM10 81h1v1h-1zM24 81h1v1h-1zM10 83h1v1h-1zM20 83h1v1h-1zM26 83h1v1h-1zM32 83h1v1h-1zM22 84h1v1h-1zM14 85h1v1h-1zM19 85h1v1h-1zM28 85h1v1h-1zM30 85h1v1h-1zM18 86h1v1h-1zM24 86h2v1h-2zM1 87h1v1h-1zM26 87h2v1h-2zM29 87h1v1h-1zM26 88h1v1h-1zM31 88h1v1h-1zM0 89h1v1h-1zM21 89h1v1h-1zM27 89h1v1h-1zM3 90h1v1h-1zM10 90h1v1h-1zM15 90h1v1h-1zM25 90h1v1h-1zM29 90h1v1h-1zM31 90h1v1h-1zM20 91h1v1h-1zM27 91h1v1h-1zM30 91h1v1h-1zM32 91h1v1h-1zM6 92h1v1h-1zM15 92h1v1h-1zM27 92h1v1h-1zM31 92h1v1h-1zM4 93h1v1h-1zM7 93h1v1h-1zM26 93h1v1h-1zM11 94h1v1h-1zM30 94h1v1h-1zM15 95h1v1h-1zM11 96h1v1h-1zM5 97h1v1h-1zM0 98h1v1h-1zM6 98h2v1h-2zM13 99h1v1h-1zM23 99h1v1h-1zM31 99h1v1h-1zM0 100h1v1h-1zM7 100h1v1h-1zM12 100h1v1h-1zM30 100h1v1h-1zM4 101h1v1h-1zM7 101h1v1h-1zM12 101h1v1h-1zM27 101h1v1h-1zM29 101h1v1h-1zM5 102h1v1h-1zM15 102h1v1h-1zM31 102h2v1h-2zM15 103h1v1h-1zM27 103h1v1h-1zM0 104h1v1h-1zM6 104h2v1h-2zM19 104h1v1h-1zM26 104h1v1h-1zM32 104h1v1h-1zM15 105h1v1h-1zM25 105h2v1h-2zM29 105h1v1h-1zM5 106h1v1h-1zM26 106h1v1h-1zM1 107h1v1h-1zM3 107h1v1h-1zM14 107h1v1h-1zM18 107h1v1h-1zM1 108h1v1h-1zM5 108h2v1h-2zM16 108h1v1h-1zM26 108h1v1h-1zM31 109h1v1h-1zM1 110h1v1h-1zM6 110h1v1h-1zM16 110h1v1h-1zM31 111h1v1h-1z"/>
<path fill="#fcf0be" d="M2 0h1v1h-1zM9 0h1v1h-1zM16 0h1v1h-1zM0 1h1v1h-1zM6 1h1v1h-1zM10 1h1v1h-1zM12 1h1v1h-1zM14 2h1v1h-1zM20 2h1v1h-1zM23 2h1v1h-1zM25 2h1v1h-1zM28 2h1v1h-1zM1 3h1v1h-1zM5 3h1v1h-1zM2 4h1v1h-1zM8 4h1v1h-1zM12 4h1v1h-1zM23 4h1v1h-1zM28 4h1v1h-1zM6 5h1v1h-1zM13 6h1v1h-1zM16 6h1v1h-1zM26 6h1v1h-1zM7 8h2v1h-2zM11 10h1v1h-1zM1 11h1v1h-1zM3 11h1v1h-1zM24 11h1v1h-1zM32 11h1v1h-1zM2 12h1v1h-1zM28 12h1v1h-1zM2 13h2v1h-2zM3 14h1v1h-1zM8 14h1v1h-1zM10 14h2v1h-2zM8 15h1v1h-1zM18 15h1v1h-1zM25 15h1v1h-1zM9 16h1v1h-1zM13 16h1v1h-1zM11 17h1v1h-1zM24 17h1v1h-1zM11 18h1v1h-1zM20 19h1v1h-1zM28 19h1v1h-1zM12 20h1v1h-1zM8 21h2v1h-2zM15 21h1v1h-1zM24 21h1v1h-1zM8 22h1v1h-1zM24 22h1v1h-1zM28 22h1v1h-1zM9 23h1v1h-1zM13 23h1v1h-1zM20 23h1v1h-1zM12 24h1v1h-1zM14 24h1v1h-1zM18 25h1v1h-1zM0 26h1v1h-1zM2 26h1v1h-1zM18 26h1v1h-1zM20 26h1v1h-1zM0 27h1v1h-1zM7 27h1v1h-1zM24 27h1v1h-1zM9 28h3v1h-3zM15 29h1v1h-1zM18 29h1v1h-1zM30 30h2v1h-2zM0 31h1v1h-1zM5 31h1v1h-1zM21 31h1v1h-1zM26 31h1v1h-1zM5 32h1v1h-1zM8 32h1v1h-1zM16 32h1v1h-1zM15 33h1v1h-1zM20 33h1v1h-1zM0 35h1v1h-1zM8 35h1v1h-1zM10 35h1v1h-1zM26 35h1v1h-1zM1 36h1v1h-1zM28 36h1v1h-1zM4 37h1v1h-1zM9 37h1v1h-1zM19 37h1v1h-1zM9 38h1v1h-1zM16 38h1v1h-1zM8 39h1v1h-1zM18 39h1v1h-1zM16 40h1v1h-1zM3 41h1v1h-1zM12 41h1v1h-1zM10 42h1v1h-1zM20 42h1v1h-1zM20 43h1v1h-1zM23 43h1v1h-1zM26 43h1v1h-1zM28 43h1v1h-1zM2 44h1v1h-1zM4 44h1v1h-1zM6 44h1v1h-1zM12 44h1v1h-1zM19 44h1v1h-1zM21 44h1v1h-1zM0 45h1v1h-1zM2 45h1v1h-1zM6 45h1v1h-1zM3 46h1v1h-1zM21 47h2v1h-2zM7 48h1v1h-1zM12 48h1v1h-1zM25 48h1v1h-1zM27 48h1v1h-1zM1 49h1v1h-1zM3 49h1v1h-1zM11 49h3v1h-3zM1 50h1v1h-1zM10 50h1v1h-1zM16 50h1v1h-1zM2 51h1v1h-1zM4 51h1v1h-1zM8 51h1v1h-1zM10 51h2v1h-2zM21 51h1v1h-1zM25 51h1v1h-1zM2 52h1v1h-1zM8 52h3v1h-3zM17 52h1v1h-1zM27 52h1v1h-1zM17 53h2v1h-2zM28 53h1v1h-1zM30 53h1v1h-1zM26 55h1v1h-1zM28 55h1v1h-1zM19 56h1v1h-1zM22 56h1v1h-1zM25 56h1v1h-1zM20 57h1v1h-1zM23 57h1v1h-1zM25 57h2v1h-2zM29 57h1v1h-1zM17 58h1v1h-1zM22 58h1v1h-1zM4 59h1v1h-1zM23 59h1v1h-1zM17 60h1v1h-1zM29 60h1v1h-1zM6 61h1v1h-1zM32 61h1v1h-1zM21 62h1v1h-1zM26 62h1v1h-1zM4 63h1v1h-1zM11 64h2v1h-2zM21 64h1v1h-1zM27 64h1v1h-1zM2 66h1v1h-1zM10 66h1v1h-1zM13 66h1v1h-1zM23 66h1v1h-1zM30 66h1v1h-1zM9 67h1v1h-1zM24 67h1v1h-1zM12 69h1v1h-1zM24 69h1v1h-1zM10 70h1v1h-1zM25 70h2v1h-2zM7 71h1v1h-1zM22 71h1v1h-1zM28 71h1v1h-1zM0 72h1v1h-1zM5 72h1v1h-1zM27 72h1v1h-1zM23 73h1v1h-1zM25 73h2v1h-2zM32 73h1v1h-1zM1 74h1v1h-1zM26 74h1v1h-1zM28 74h2v1h-2zM17 75h1v1h-1zM23 75h1v1h-1zM26 75h1v1h-1zM28 75h1v1h-1zM4 76h1v1h-1zM27 76h1v1h-1zM2 77h1v1h-1zM17 78h1v1h-1zM6 79h1v1h-1zM0 80h1v1h-1zM11 80h1v1h-1zM15 80h1v1h-1zM9 81h1v1h-1zM15 81h1v1h-1zM24 82h1v1h-1zM1 83h1v1h-1zM7 83h1v1h-1zM0 84h1v1h-1zM16 84h1v1h-1zM19 84h2v1h-2zM7 85h1v1h-1zM12 85h1v1h-1zM20 85h1v1h-1zM25 85h1v1h-1zM2 86h1v1h-1zM22 86h1v1h-1zM2 87h1v1h-1zM5 87h1v1h-1zM28 87h1v1h-1zM3 88h1v1h-1zM17 88h1v1h-1zM25 88h1v1h-1zM7 89h1v1h-1zM30 89h1v1h-1zM2 90h1v1h-1zM27 90h1v1h-1zM7 91h1v1h-1zM17 91h1v1h-1zM26 91h1v1h-1zM5 92h1v1h-1zM6 93h1v1h-1zM31 93h1v1h-1zM20 94h1v1h-1zM3 95h3v1h-3zM12 95h1v1h-1zM16 95h1v1h-1zM25 96h2v1h-2zM14 97h1v1h-1zM15 98h1v1h-1zM4 99h1v1h-1zM15 99h1v1h-1zM26 99h1v1h-1zM5 100h2v1h-2zM14 100h1v1h-1zM30 101h1v1h-1zM32 101h1v1h-1zM7 102h1v1h-1zM2 103h1v1h-1zM12 103h1v1h-1zM19 103h1v1h-1zM28 104h1v1h-1zM21 105h1v1h-1zM31 105h1v1h-1zM25 106h1v1h-1zM13 107h1v1h-1zM27 108h1v1h-1zM29 108h1v1h-1zM32 109h1v1h-1zM15 110h1v1h-1zM28 111h1v1h-1zM30 111h1v1h-1z"/>
<path fill="#fdeaad" d="M8 0h1v1h-1zM3 1h1v1h-1zM11 1h1v1h-1zM13 3h1v1h-1zM11 4h1v1h-1zM19 5h1v1h-1zM29 5h1v1h-1zM1 6h1v1h-1zM17 6h1v1h-1zM19 6h1v1h-1zM23 6h1v1h-1zM0 7h1v1h-1zM14 7h1v1h-1zM2 8h1v1h-1zM28 8h1v1h-1zM3 9h1v1h-1zM7 9h1v1h-1zM4 10h1v1h-1zM7 10h1v1h-1zM9 10h1v1h-1zM16 10h1v1h-1zM5 11h1v1h-1zM10 12h2v1h-2zM14 12h2v1h-2zM6 13h1v1h-1zM13 13h1v1h-1zM15 13h2v1h-2zM14 14h1v1h-1zM16 14h1v1h-1zM0 17h2v1h-2zM8 17h1v1h-1zM2 18h1v1h-1zM9 19h1v1h-1zM24 19h1v1h-1zM8 20h1v1h-1zM10 20h1v1h-1zM14 20h1v1h-1zM28 20h1v1h-1zM2 23h1v1h-1zM5 23h1v1h-1zM8 23h1v1h-1zM31 23h1v1h-1zM23 24h1v1h-1zM27 24h1v1h-1zM29 24h1v1h-1zM2 25h1v1h-1zM9 25h1v1h-1zM13 25h1v1h-1zM16 25h1v1h-1zM27 25h1v1h-1zM4 27h1v1h-1zM9 27h2v1h-2zM16 27h1v1h-1zM0 28h1v1h-1zM2 28h1v1h-1zM12 28h1v1h-1zM24 28h2v1h-2zM0 29h1v1h-1zM2 29h1v1h-1zM10 29h1v1h-1zM27 29h1v1h-1zM1 30h1v1h-1zM17 30h1v1h-1zM17 31h1v1h-1zM27 31h1v1h-1zM10 32h1v1h-1zM2 33h1v1h-1zM7 33h1v1h-1zM21 33h1v1h-1zM11 34h1v1h-1zM7 35h1v1h-1zM9 35h1v1h-1zM11 35h2v1h-2zM9 36h1v1h-1zM14 36h1v1h-1zM10 37h2v1h-2zM7 38h1v1h-1zM13 39h1v1h-1zM16 39h1v1h-1zM20 39h1v1h-1zM28 39h1v1h-1zM17 41h1v1h-1zM11 42h2v1h-2zM14 42h1v1h-1zM2 43h1v1h-1zM29 43h1v1h-1zM0 44h1v1h-1zM18 44h1v1h-1zM20 44h1v1h-1zM22 44h2v1h-2zM25 44h2v1h-2zM13 45h1v1h-1zM19 45h1v1h-1zM22 45h1v1h-1zM26 45h1v1h-1zM31 45h2v1h-2zM16 46h1v1h-1zM19 46h2v1h-2zM25 46h1v1h-1zM28 46h1v1h-1zM19 47h1v1h-1zM11 48h1v1h-1zM21 48h1v1h-1zM29 48h1v1h-1zM14 49h3v1h-3zM6 50h2v1h-2zM14 50h1v1h-1zM1 51h1v1h-1zM15 51h1v1h-1zM24 51h1v1h-1zM0 52h1v1h-1zM18 52h1v1h-1zM23 53h1v1h-1zM27 53h1v1h-1zM29 53h1v1h-1zM17 54h1v1h-1zM6 55h1v1h-1zM22 55h2v1h-2zM23 56h1v1h-1zM21 57h1v1h-1zM30 57h3v1h-3zM3 58h1v1h-1zM19 58h2v1h-2zM25 58h1v1h-1zM31 58h1v1h-1zM17 59h1v1h-1zM22 59h1v1h-1zM25 59h1v1h-1zM30 59h1v1h-1zM20 60h2v1h-2zM21 61h1v1h-1zM17 62h2v1h-2zM23 62h1v1h-1zM25 62h1v1h-1zM0 64h1v1h-1zM17 64h1v1h-1zM28 64h1v1h-1zM1 65h1v1h-1zM8 65h1v1h-1zM11 65h2v1h-2zM32 65h1v1h-1zM18 66h1v1h-1zM0 67h1v1h-1zM3 67h1v1h-1zM7 67h1v1h-1zM15 67h2v1h-2zM21 68h2v1h-2zM2 69h1v1h-1zM4 69h2v1h-2zM8 69h1v1h-1zM9 70h1v1h-1zM11 70h1v1h-1zM13 70h1v1h-1zM16 70h1v1h-1zM0 71h2v1h-2zM3 71h1v1h-1zM13 71h1v1h-1zM24 71h1v1h-1zM29 71h1v1h-1zM2 72h1v1h-1zM4 72h1v1h-1zM14 72h1v1h-1zM20 72h1v1h-1zM10 73h1v1h-1zM18 73h1v1h-1zM28 73h1v1h-1zM0 74h1v1h-1zM6 74h1v1h-1zM12 74h2v1h-2zM18 75h1v1h-1zM27 75h1v1h-1zM18 76h2v1h-2zM31 76h2v1h-2zM4 77h1v1h-1zM20 77h2v1h-2zM30 77h1v1h-1zM24 78h1v1h-1zM30 78h1v1h-1zM2 79h1v1h-1zM12 79h1v1h-1zM15 79h1v1h-1zM1 80h2v1h-2zM5 80h1v1h-1zM0 81h1v1h-1zM6 81h1v1h-1zM16 81h1v1h-1zM12 82h1v1h-1zM14 82h1v1h-1zM16 82h1v1h-1zM2 83h1v1h-1zM4 83h1v1h-1zM9 83h1v1h-1zM17 83h1v1h-1zM2 84h1v1h-1zM6 84h1v1h-1zM8 84h2v1h-2zM26 85h1v1h-1zM29 85h1v1h-1zM20 86h1v1h-1zM29 86h2v1h-2zM18 87h1v1h-1zM20 89h1v1h-1zM23 89h1v1h-1zM32 89h1v1h-1zM6 90h1v1h-1zM26 90h1v1h-1zM32 90h1v1h-1zM16 91h1v1h-1zM19 92h1v1h-1zM22 93h1v1h-1zM13 94h1v1h-1zM19 94h1v1h-1zM21 94h1v1h-1zM25 94h2v1h-2zM1 95h1v1h-1zM26 95h1v1h-1zM30 96h1v1h-1zM13 97h1v1h-1zM31 97h1v1h-1zM31 98h1v1h-1zM27 99h2v1h-2zM22 100h1v1h-1zM8 102h1v1h-1zM25 102h1v1h-1zM18 103h1v1h-1zM23 103h1v1h-1zM28 103h1v1h-1zM23 104h1v1h-1zM28 105h1v1h-1zM2 106h1v1h-1zM4 106h1v1h-1zM16 106h1v1h-1zM30 106h1v1h-1zM4 107h1v1h-1zM9 107h1v1h-1zM26 107h1v1h-1zM31 107h1v1h-1zM2 108h1v1h-1zM28 109h1v1h-1zM26 110h1v1h-1z"/>
<path fill="#fde49d" d="M0 0h2v1h-2zM1 1h1v1h-1zM4 2h1v1h-1zM8 2h2v1h-2zM0 3h1v1h-1zM4 3h1v1h-1zM7 3h1v1h-1zM6 4h1v1h-1zM13 4h3v1h-3zM25 5h1v1h-1zM30 5h1v1h-1zM32 5h1v1h-1zM6 6h1v1h-1zM22 6h1v1h-1zM25 6h1v1h-1zM3 7h1v1h-1zM8 7h1v1h-1zM10 7h1v1h-1zM15 7h1v1h-1zM10 8h2v1h-2zM15 10h1v1h-1zM7 11h1v1h-1zM10 11h3v1h-3zM15 11h1v1h-1zM8 12h2v1h-2zM12 12h1v1h-1zM16 12h1v1h-1zM4 13h1v1h-1zM8 13h1v1h-1zM20 15h2v1h-2zM4 16h1v1h-1zM2 17h1v1h-1zM7 17h1v1h-1zM15 17h1v1h-1zM9 18h1v1h-1zM24 18h1v1h-1zM7 19h2v1h-2zM21 19h1v1h-1zM0 20h2v1h-2zM4 20h1v1h-1zM23 20h1v1h-1zM2 21h3v1h-3zM11 21h2v1h-2zM11 22h1v1h-1zM13 22h1v1h-1zM23 23h1v1h-1zM25 23h1v1h-1zM29 23h1v1h-1zM19 24h1v1h-1zM21 24h1v1h-1zM28 24h1v1h-1zM30 24h1v1h-1zM32 24h1v1h-1zM1 25h1v1h-1zM6 25h1v1h-1zM8 25h1v1h-1zM11 25h1v1h-1zM15 25h1v1h-1zM22 25h1v1h-1zM24 25h1v1h-1zM12 26h1v1h-1zM28 26h1v1h-1zM15 27h1v1h-1zM14 28h2v1h-2zM20 28h1v1h-1zM4 29h1v1h-1zM8 29h1v1h-1zM11 29h1v1h-1zM19 30h1v1h-1zM22 30h1v1h-1zM25 30h1v1h-1zM20 31h1v1h-1zM22 31h1v1h-1zM28 31h2v1h-2zM0 32h1v1h-1zM13 33h1v1h-1zM10 34h1v1h-1zM12 34h1v1h-1zM5 35h1v1h-1zM24 35h1v1h-1zM8 36h1v1h-1zM24 36h1v1h-1zM0 37h1v1h-1zM24 37h1v1h-1zM5 38h1v1h-1zM12 38h1v1h-1zM0 39h1v1h-1zM23 39h1v1h-1zM3 40h1v1h-1zM6 40h1v1h-1zM10 40h1v1h-1zM1 41h1v1h-1zM6 41h1v1h-1zM15 41h2v1h-2zM5 42h1v1h-1zM13 42h1v1h-1zM15 42h1v1h-1zM30 43h1v1h-1zM28 44h1v1h-1zM30 44h1v1h-1zM5 45h1v1h-1zM18 45h1v1h-1zM21 45h1v1h-1zM2 46h1v1h-1zM2 47h1v1h-1zM12 47h1v1h-1zM26 47h1v1h-1zM2 48h1v1h-1zM31 48h1v1h-1zM9 49h2v1h-2zM5 50h1v1h-1zM7 51h1v1h-1zM12 51h3v1h-3zM17 51h1v1h-1zM20 51h1v1h-1zM1 52h1v1h-1zM6 52h1v1h-1zM12 52h1v1h-1zM19 53h2v1h-2zM19 54h1v1h-1zM24 54h1v1h-1zM30 54h1v1h-1zM19 55h2v1h-2zM30 55h1v1h-1zM5 56h1v1h-1zM20 56h1v1h-1zM27 56h1v1h-1zM29 56h1v1h-1zM26 58h1v1h-1zM32 58h1v1h-1zM18 59h2v1h-2zM28 59h1v1h-1zM0 61h1v1h-1zM20 61h1v1h-1zM22 61h1v1h-1zM24 61h1v1h-1zM28 61h1v1h-1zM30 61h1v1h-1zM29 62h1v1h-1zM0 63h2v1h-2zM3 63h1v1h-1zM8 63h1v1h-1zM12 63h1v1h-1zM21 63h1v1h-1zM6 64h1v1h-1zM8 64h1v1h-1zM13 64h2v1h-2zM0 65h1v1h-1zM7 65h1v1h-1zM10 65h1v1h-1zM14 65h2v1h-2zM6 66h1v1h-1zM8 66h2v1h-2zM1 67h1v1h-1zM0 68h1v1h-1zM3 68h1v1h-1zM5 68h1v1h-1zM11 68h1v1h-1zM15 68h2v1h-2zM24 70h1v1h-1zM28 70h2v1h-2zM9 71h1v1h-1zM1 72h1v1h-1zM7 72h1v1h-1zM9 72h1v1h-1zM12 72h1v1h-1zM28 72h1v1h-1zM2 73h1v1h-1zM7 73h1v1h-1zM3 74h1v1h-1zM8 74h1v1h-1zM14 74h1v1h-1zM24 74h1v1h-1zM21 75h1v1h-1zM5 76h1v1h-1zM23 76h3v1h-3zM29 76h1v1h-1zM23 77h2v1h-2zM4 78h1v1h-1zM21 78h1v1h-1zM27 78h1v1h-1zM29 78h1v1h-1zM1 79h1v1h-1zM3 79h1v1h-1zM7 79h1v1h-1zM24 79h1v1h-1zM3 80h1v1h-1zM7 80h1v1h-1zM12 80h1v1h-1zM14 80h1v1h-1zM16 80h1v1h-1zM11 81h2v1h-2zM9 82h2v1h-2zM13 83h1v1h-1zM1 84h1v1h-1zM10 84h2v1h-2zM27 85h1v1h-1zM1 86h1v1h-1zM28 86h1v1h-1zM19 87h1v1h-1zM20 88h1v1h-1zM23 88h1v1h-1zM28 88h1v1h-1zM30 88h1v1h-1zM18 89h1v1h-1zM29 89h1v1h-1zM23 90h1v1h-1zM30 90h1v1h-1zM19 91h1v1h-1zM25 91h1v1h-1zM29 91h1v1h-1zM25 92h1v1h-1zM29 92h1v1h-1zM32 92h1v1h-1zM30 93h1v1h-1zM17 94h1v1h-1zM27 94h2v1h-2zM31 95h1v1h-1zM29 96h1v1h-1zM31 96h2v1h-2zM1 97h1v1h-1zM18 97h1v1h-1zM20 97h1v1h-1zM25 97h1v1h-1zM28 97h1v1h-1zM2 98h1v1h-1zM17 98h1v1h-1zM22 98h2v1h-2zM26 98h1v1h-1zM30 98h1v1h-1zM32 98h1v1h-1zM20 99h1v1h-1zM24 99h1v1h-1zM29 99h1v1h-1zM1 100h1v1h-1zM31 101h1v1h-1zM30 102h1v1h-1zM24 103h1v1h-1zM32 103h1v1h-1zM1 104h1v1h-1zM30 104h2v1h-2zM22 105h1v1h-1zM30 105h1v1h-1zM15 106h1v1h-1zM2 107h1v1h-1zM7 107h1v1h-1zM17 107h1v1h-1zM19 107h1v1h-1zM25 107h1v1h-1zM32 107h1v1h-1zM12 108h1v1h-1zM30 108h1v1h-1zM21 109h1v1h-1zM26 109h1v1h-1z"/>
<path fill="#fcdd91" d="M3 0h1v1h-1zM7 0h1v1h-1zM11 0h2v1h-2zM7 1h1v1h-1zM14 1h1v1h-1zM3 2h1v1h-1zM11 2h1v1h-1zM6 3h1v1h-1zM9 3h1v1h-1zM11 3h1v1h-1zM23 5h1v1h-1zM28 6h1v1h-1zM7 7h1v1h-1zM11 7h1v1h-1zM1 8h1v1h-1zM5 8h1v1h-1zM12 8h2v1h-2zM16 8h1v1h-1zM1 9h2v1h-2zM4 9h1v1h-1zM11 9h1v1h-1zM24 9h1v1h-1zM12 10h2v1h-2zM0 11h1v1h-1zM16 11h1v1h-1zM28 11h1v1h-1zM1 12h1v1h-1zM7 12h1v1h-1zM9 13h1v1h-1zM14 13h1v1h-1zM1 14h2v1h-2zM4 14h2v1h-2zM13 14h1v1h-1zM24 14h1v1h-1zM9 15h1v1h-1zM11 15h1v1h-1zM15 15h1v1h-1zM0 16h1v1h-1zM12 17h1v1h-1zM0 18h1v1h-1zM5 18h1v1h-1zM12 18h1v1h-1zM3 19h2v1h-2zM11 19h1v1h-1zM7 20h1v1h-1zM15 20h2v1h-2zM1 21h1v1h-1zM5 21h1v1h-1zM7 21h1v1h-1zM10 21h1v1h-1zM14 21h1v1h-1zM2 22h1v1h-1zM9 22h1v1h-1zM15 22h1v1h-1zM18 22h1v1h-1zM17 23h1v1h-1zM21 23h1v1h-1zM28 23h1v1h-1zM32 23h1v1h-1zM3 24h1v1h-1zM26 24h1v1h-1zM31 24h1v1h-1zM5 25h1v1h-1zM7 25h1v1h-1zM12 25h1v1h-1zM3 27h1v1h-1zM14 27h1v1h-1zM1 28h1v1h-1zM3 28h1v1h-1zM12 29h1v1h-1zM28 29h1v1h-1zM23 30h1v1h-1zM26 30h2v1h-2zM25 31h1v1h-1zM30 31h1v1h-1zM12 32h1v1h-1zM4 33h1v1h-1zM13 34h1v1h-1zM2 35h1v1h-1zM14 35h2v1h-2zM0 36h1v1h-1zM2 36h3v1h-3zM10 36h1v1h-1zM13 36h1v1h-1zM3 37h1v1h-1zM8 37h1v1h-1zM14 37h1v1h-1zM12 39h1v1h-1zM0 40h1v1h-1zM8 40h2v1h-2zM5 41h1v1h-1zM10 41h1v1h-1zM24 41h1v1h-1zM0 42h1v1h-1zM2 42h1v1h-1zM19 43h1v1h-1zM20 45h1v1h-1zM23 45h1v1h-1zM30 45h1v1h-1zM17 46h2v1h-2zM32 47h1v1h-1zM17 48h1v1h-1zM32 48h1v1h-1zM4 50h1v1h-1zM9 50h1v1h-1zM11 50h1v1h-1zM28 52h1v1h-1zM22 54h1v1h-1zM25 54h1v1h-1zM27 54h1v1h-1zM29 54h1v1h-1zM29 55h1v1h-1zM17 56h1v1h-1zM17 57h3v1h-3zM22 57h1v1h-1zM24 57h1v1h-1zM29 58h1v1h-1zM24 59h1v1h-1zM19 60h1v1h-1zM17 61h1v1h-1zM27 61h1v1h-1zM29 61h1v1h-1zM3 62h1v1h-1zM15 64h1v1h-1zM4 66h1v1h-1zM11 66h1v1h-1zM16 66h1v1h-1zM2 67h1v1h-1zM6 67h1v1h-1zM14 67h1v1h-1zM6 68h1v1h-1zM0 69h1v1h-1zM10 69h1v1h-1zM1 70h1v1h-1zM20 70h1v1h-1zM18 72h1v1h-1zM1 73h1v1h-1zM5 73h1v1h-1zM8 73h1v1h-1zM11 73h1v1h-1zM14 73h1v1h-1zM7 74h1v1h-1zM15 74h1v1h-1zM19 75h1v1h-1zM22 75h1v1h-1zM20 76h1v1h-1zM26 76h1v1h-1zM28 76h1v1h-1zM17 77h1v1h-1zM28 77h1v1h-1zM20 78h1v1h-1zM25 78h1v1h-1zM16 79h1v1h-1zM6 80h1v1h-1zM13 80h1v1h-1zM1 81h2v1h-2zM3 82h1v1h-1zM7 82h1v1h-1zM13 82h1v1h-1zM21 82h1v1h-1zM8 83h1v1h-1zM14 83h1v1h-1zM3 84h1v1h-1zM12 84h1v1h-1zM23 85h1v1h-1zM23 87h1v1h-1zM22 88h1v1h-1zM31 89h1v1h-1zM22 91h1v1h-1zM28 91h1v1h-1zM18 92h1v1h-1zM28 92h1v1h-1zM30 92h1v1h-1zM15 93h1v1h-1zM28 93h2v1h-2zM5 94h1v1h-1zM23 94h1v1h-1zM32 94h1v1h-1zM0 95h1v1h-1zM17 95h1v1h-1zM19 95h1v1h-1zM22 95h1v1h-1zM28 95h2v1h-2zM32 95h1v1h-1zM19 96h1v1h-1zM0 97h1v1h-1zM19 97h1v1h-1zM24 97h1v1h-1zM29 97h1v1h-1zM25 98h1v1h-1zM29 98h1v1h-1zM17 99h1v1h-1zM18 100h1v1h-1zM29 100h1v1h-1zM5 101h1v1h-1zM22 104h1v1h-1zM15 107h1v1h-1zM29 107h1v1h-1zM21 108h1v1h-1zM25 108h1v1h-1zM31 108h1v1h-1zM17 109h1v1h-1zM23 109h2v1h-2zM13 110h1v1h-1zM29 111h1v1h-1zM32 111h1v1h-1z"/>
<path fill="#fad489" d="M13 0h1v1h-1zM4 1h1v1h-1zM8 1h1v1h-1zM13 1h1v1h-1zM16 1h1v1h-1zM14 3h1v1h-1zM16 3h1v1h-1zM3 4h3v1h-3zM7 4h1v1h-1zM24 5h1v1h-1zM21 6h1v1h-1zM24 6h1v1h-1zM27 6h1v1h-1zM29 6h3v1h-3zM13 7h1v1h-1zM15 8h1v1h-1zM6 9h1v1h-1zM10 9h1v1h-1zM16 9h1v1h-1zM5 10h1v1h-1zM14 10h1v1h-1zM2 11h1v1h-1zM3 12h1v1h-1zM0 13h1v1h-1zM5 13h1v1h-1zM10 13h1v1h-1zM6 14h2v1h-2zM12 14h1v1h-1zM6 15h1v1h-1zM1 16h1v1h-1zM6 16h1v1h-1zM13 17h1v1h-1zM16 17h1v1h-1zM7 18h1v1h-1zM10 18h1v1h-1zM13 18h1v1h-1zM0 19h1v1h-1zM10 19h1v1h-1zM12 19h1v1h-1zM16 19h1v1h-1zM2 20h1v1h-1zM5 20h1v1h-1zM0 22h1v1h-1zM5 22h2v1h-2zM16 22h1v1h-1zM24 23h1v1h-1zM17 24h1v1h-1zM22 24h1v1h-1zM4 25h1v1h-1zM4 26h1v1h-1zM11 26h1v1h-1zM5 27h1v1h-1zM7 28h1v1h-1zM3 29h1v1h-1zM6 29h2v1h-2zM19 31h1v1h-1zM7 32h1v1h-1zM14 32h2v1h-2zM1 33h1v1h-1zM12 33h1v1h-1zM1 34h1v1h-1zM7 36h1v1h-1zM11 36h1v1h-1zM16 36h1v1h-1zM7 37h1v1h-1zM9 39h2v1h-2zM14 39h1v1h-1zM4 40h1v1h-1zM7 40h1v1h-1zM13 40h2v1h-2zM7 42h1v1h-1zM18 43h1v1h-1zM21 43h1v1h-1zM32 43h1v1h-1zM24 46h1v1h-1zM27 46h1v1h-1zM29 46h3v1h-3zM3 47h1v1h-1zM13 47h1v1h-1zM24 47h2v1h-2zM18 48h1v1h-1zM20 48h1v1h-1zM5 49h2v1h-2zM17 49h1v1h-1zM3 50h1v1h-1zM8 50h1v1h-1zM18 50h1v1h-1zM24 50h1v1h-1zM6 51h1v1h-1zM7 52h1v1h-1zM13 52h1v1h-1zM20 54h2v1h-2zM17 55h1v1h-1zM24 56h1v1h-1zM32 56h1v1h-1zM18 61h1v1h-1zM25 61h1v1h-1zM28 62h1v1h-1zM5 63h2v1h-2zM14 63h1v1h-1zM3 64h2v1h-2zM7 64h1v1h-1zM16 65h1v1h-1zM1 66h1v1h-1zM5 66h1v1h-1zM7 66h1v1h-1zM28 67h1v1h-1zM1 68h1v1h-1zM10 68h1v1h-1zM13 68h2v1h-2zM3 69h1v1h-1zM7 69h1v1h-1zM13 69h1v1h-1zM5 70h1v1h-1zM5 71h1v1h-1zM14 71h3v1h-3zM13 72h1v1h-1zM16 74h1v1h-1zM20 75h1v1h-1zM21 76h1v1h-1zM29 77h1v1h-1zM18 78h1v1h-1zM0 79h1v1h-1zM4 79h1v1h-1zM13 79h1v1h-1zM4 81h2v1h-2zM7 81h1v1h-1zM14 81h1v1h-1zM0 82h2v1h-2zM15 82h1v1h-1zM5 84h1v1h-1zM24 84h1v1h-1zM17 85h2v1h-2zM21 85h1v1h-1zM21 86h1v1h-1zM17 87h1v1h-1zM20 87h1v1h-1zM24 87h1v1h-1zM18 88h2v1h-2zM24 88h1v1h-1zM29 88h1v1h-1zM24 89h1v1h-1zM16 90h3v1h-3zM20 90h1v1h-1zM24 90h1v1h-1zM18 93h2v1h-2zM29 94h1v1h-1zM17 96h1v1h-1zM27 96h2v1h-2zM5 98h1v1h-1zM19 98h1v1h-1zM19 99h1v1h-1zM21 99h1v1h-1zM20 100h2v1h-2zM27 100h1v1h-1zM22 101h2v1h-2zM17 103h1v1h-1zM32 105h1v1h-1zM31 106h2v1h-2zM19 108h1v1h-1zM19 109h2v1h-2zM22 109h1v1h-1zM27 110h1v1h-1z"/>
<path fill="#f9cc80" d="M5 0h1v1h-1zM5 1h1v1h-1zM2 2h1v1h-1zM7 2h1v1h-1zM12 2h1v1h-1zM2 3h1v1h-1zM15 3h1v1h-1zM4 7h3v1h-3zM4 8h1v1h-1zM0 9h1v1h-1zM13 9h2v1h-2zM1 10h1v1h-1zM3 10h1v1h-1zM14 11h1v1h-1zM0 12h1v1h-1zM4 12h1v1h-1zM13 12h1v1h-1zM7 13h1v1h-1zM12 15h1v1h-1zM16 15h1v1h-1zM7 16h1v1h-1zM11 16h1v1h-1zM16 16h1v1h-1zM3 17h2v1h-2zM14 17h1v1h-1zM6 18h1v1h-1zM8 18h1v1h-1zM16 18h1v1h-1zM13 19h1v1h-1zM11 20h1v1h-1zM6 21h1v1h-1zM13 21h1v1h-1zM14 22h1v1h-1zM20 24h1v1h-1zM24 24h1v1h-1zM14 25h1v1h-1zM7 26h1v1h-1zM10 26h1v1h-1zM2 27h1v1h-1zM6 27h1v1h-1zM13 27h1v1h-1zM4 28h1v1h-1zM1 29h1v1h-1zM20 30h2v1h-2zM28 30h1v1h-1zM24 31h1v1h-1zM3 32h2v1h-2zM13 32h1v1h-1zM5 33h1v1h-1zM16 33h1v1h-1zM7 34h2v1h-2zM4 35h1v1h-1zM13 35h1v1h-1zM1 37h1v1h-1zM12 37h1v1h-1zM0 38h2v1h-2zM3 38h2v1h-2zM14 38h1v1h-1zM2 39h1v1h-1zM15 39h1v1h-1zM24 39h1v1h-1zM2 40h1v1h-1zM0 41h1v1h-1zM9 41h1v1h-1zM11 41h1v1h-1zM24 43h1v1h-1zM24 44h1v1h-1zM17 45h1v1h-1zM25 45h1v1h-1zM13 46h1v1h-1zM22 46h1v1h-1zM23 47h1v1h-1zM2 49h1v1h-1zM4 49h1v1h-1zM7 49h1v1h-1zM5 51h1v1h-1zM4 52h1v1h-1zM24 53h1v1h-1zM24 55h1v1h-1zM21 56h1v1h-1zM28 56h1v1h-1zM30 56h1v1h-1zM28 57h1v1h-1zM24 58h1v1h-1zM19 62h1v1h-1zM24 62h1v1h-1zM24 63h1v1h-1zM5 64h1v1h-1zM16 64h1v1h-1zM0 66h1v1h-1zM3 66h1v1h-1zM12 66h1v1h-1zM4 67h2v1h-2zM2 68h1v1h-1zM14 69h1v1h-1zM3 70h1v1h-1zM7 70h1v1h-1zM12 70h1v1h-1zM6 71h1v1h-1zM3 72h1v1h-1zM6 72h1v1h-1zM15 72h1v1h-1zM0 73h1v1h-1zM12 73h1v1h-1zM24 73h1v1h-1zM2 74h1v1h-1zM5 74h1v1h-1zM19 77h1v1h-1zM28 78h1v1h-1zM4 80h1v1h-1zM13 81h1v1h-1zM2 82h1v1h-1zM5 82h2v1h-2zM5 83h1v1h-1zM14 84h2v1h-2zM23 84h1v1h-1zM21 88h1v1h-1zM32 88h1v1h-1zM21 92h1v1h-1zM23 92h2v1h-2zM21 93h1v1h-1zM22 94h1v1h-1zM18 95h1v1h-1zM30 95h1v1h-1zM20 98h1v1h-1zM18 99h1v1h-1zM23 100h1v1h-1zM17 101h1v1h-1zM28 102h2v1h-2zM29 103h1v1h-1zM18 104h1v1h-1zM17 105h1v1h-1zM20 105h1v1h-1zM28 106h1v1h-1zM20 107h5v1h-5zM32 108h1v1h-1zM18 109h1v1h-1zM29 109h2v1h-2zM17 111h1v1h-1zM19 111h3v1h-3z"/>
<path fill="#f7c378" d="M4 0h1v1h-1zM6 0h1v1h-1zM2 1h1v1h-1zM10 2h1v1h-1zM13 2h1v1h-1zM16 2h1v1h-1zM10 4h1v1h-1zM9 7h1v1h-1zM12 7h1v1h-1zM16 7h1v1h-1zM14 8h1v1h-1zM6 12h1v1h-1zM1 13h1v1h-1zM11 13h1v1h-1zM4 15h1v1h-1zM14 15h1v1h-1zM3 16h1v1h-1zM12 16h1v1h-1zM5 17h1v1h-1zM1 18h1v1h-1zM3 18h1v1h-1zM6 20h1v1h-1zM16 21h1v1h-1zM3 22h1v1h-1zM10 22h1v1h-1zM12 22h1v1h-1zM18 23h1v1h-1zM18 24h1v1h-1zM25 24h1v1h-1zM0 25h1v1h-1zM3 25h1v1h-1zM5 26h1v1h-1zM14 26h2v1h-2zM5 28h2v1h-2zM13 29h1v1h-1zM29 30h1v1h-1zM23 31h1v1h-1zM1 32h1v1h-1zM3 33h1v1h-1zM0 34h1v1h-1zM4 34h1v1h-1zM14 34h1v1h-1zM1 35h1v1h-1zM6 36h1v1h-1zM12 36h1v1h-1zM2 37h1v1h-1zM5 37h2v1h-2zM4 39h1v1h-1zM2 41h1v1h-1zM4 41h1v1h-1zM13 41h1v1h-1zM3 42h1v1h-1zM24 45h1v1h-1zM27 45h1v1h-1zM7 47h1v1h-1zM18 47h1v1h-1zM29 47h1v1h-1zM31 47h1v1h-1zM23 48h2v1h-2zM0 49h1v1h-1zM5 52h1v1h-1zM15 52h2v1h-2zM23 58h1v1h-1zM28 58h1v1h-1zM23 61h1v1h-1zM7 63h1v1h-1zM5 65h1v1h-1zM13 65h1v1h-1zM24 65h1v1h-1zM14 66h1v1h-1zM2 70h1v1h-1zM6 70h1v1h-1zM2 71h1v1h-1zM11 71h1v1h-1zM4 74h1v1h-1zM17 76h1v1h-1zM22 77h1v1h-1zM0 83h1v1h-1zM11 83h1v1h-1zM16 83h1v1h-1zM13 84h1v1h-1zM23 86h1v1h-1zM19 90h1v1h-1zM21 90h2v1h-2zM18 91h1v1h-1zM24 91h1v1h-1zM23 93h1v1h-1zM32 93h1v1h-1zM24 95h1v1h-1zM23 96h1v1h-1zM17 97h1v1h-1zM21 97h1v1h-1zM21 98h1v1h-1zM24 98h1v1h-1zM18 102h1v1h-1zM24 102h1v1h-1zM22 103h1v1h-1zM20 104h1v1h-1zM18 105h2v1h-2zM29 106h1v1h-1zM31 110h1v1h-1zM22 111h1v1h-1z"/>
<path fill="#f5b970" d="M15 2h1v1h-1zM3 3h1v1h-1zM0 4h1v1h-1zM2 7h1v1h-1zM5 9h1v1h-1zM9 9h1v1h-1zM15 9h1v1h-1zM0 10h1v1h-1zM2 10h1v1h-1zM6 11h1v1h-1zM13 11h1v1h-1zM5 12h1v1h-1zM12 13h1v1h-1zM3 15h1v1h-1zM2 16h1v1h-1zM15 18h1v1h-1zM1 19h2v1h-2zM5 19h2v1h-2zM1 26h1v1h-1zM13 26h1v1h-1zM24 26h1v1h-1zM18 31h1v1h-1zM3 34h1v1h-1zM6 35h1v1h-1zM5 36h1v1h-1zM16 37h1v1h-1zM7 39h1v1h-1zM1 40h1v1h-1zM14 41h1v1h-1zM29 45h1v1h-1zM21 46h1v1h-1zM23 46h1v1h-1zM20 47h1v1h-1zM28 47h1v1h-1zM19 48h1v1h-1zM22 48h1v1h-1zM24 60h1v1h-1zM19 61h1v1h-1zM13 63h1v1h-1zM2 65h1v1h-1zM4 68h1v1h-1zM6 69h1v1h-1zM0 70h1v1h-1zM4 70h1v1h-1zM16 72h1v1h-1zM4 73h1v1h-1zM13 73h1v1h-1zM16 73h1v1h-1zM24 75h1v1h-1zM32 77h1v1h-1zM15 83h1v1h-1zM7 84h1v1h-1zM22 85h1v1h-1zM20 92h1v1h-1zM22 92h1v1h-1zM17 93h1v1h-1zM20 93h1v1h-1zM24 93h1v1h-1zM20 96h2v1h-2zM23 97h1v1h-1zM22 99h1v1h-1zM17 100h1v1h-1zM28 101h1v1h-1zM20 103h2v1h-2zM21 104h1v1h-1zM17 108h2v1h-2zM22 108h1v1h-1zM30 110h1v1h-1zM18 111h1v1h-1z"/>
<path fill="#f3af68" d="M5 2h2v1h-2zM1 15h2v1h-2zM5 15h1v1h-1zM9 17h1v1h-1zM14 19h1v1h-1zM0 21h1v1h-1zM4 22h1v1h-1zM7 22h1v1h-1zM3 26h1v1h-1zM6 26h1v1h-1zM14 29h1v1h-1zM24 30h1v1h-1zM2 32h1v1h-1zM6 34h1v1h-1zM15 36h1v1h-1zM13 37h1v1h-1zM3 39h1v1h-1zM5 39h1v1h-1zM5 40h1v1h-1zM7 41h1v1h-1zM28 48h1v1h-1zM28 54h1v1h-1zM18 56h1v1h-1zM1 64h1v1h-1zM4 71h1v1h-1zM3 73h1v1h-1zM6 73h1v1h-1zM15 73h1v1h-1zM6 83h1v1h-1zM24 85h1v1h-1zM28 90h1v1h-1zM17 92h1v1h-1zM24 94h1v1h-1zM18 96h1v1h-1zM24 96h1v1h-1zM28 98h1v1h-1zM19 100h1v1h-1zM28 100h1v1h-1zM18 101h1v1h-1zM20 101h1v1h-1zM21 102h1v1h-1zM17 104h1v1h-1zM24 105h1v1h-1zM22 106h1v1h-1zM24 106h1v1h-1zM28 107h1v1h-1zM23 108h1v1h-1zM28 108h1v1h-1zM17 110h1v1h-1zM19 110h1v1h-1zM29 110h1v1h-1zM32 110h1v1h-1zM24 111h1v1h-1z"/>
<path fill="#f1a561" d="M0 15h1v1h-1zM7 15h1v1h-1zM10 15h1v1h-1zM13 15h1v1h-1zM6 17h1v1h-1zM4 18h1v1h-1zM15 19h1v1h-1zM13 20h1v1h-1zM6 32h1v1h-1zM15 37h1v1h-1zM6 39h1v1h-1zM15 40h1v1h-1zM28 45h1v1h-1zM4 65h1v1h-1zM22 87h1v1h-1zM20 95h1v1h-1zM22 96h1v1h-1zM17 102h1v1h-1zM19 102h1v1h-1zM22 102h1v1h-1zM23 105h1v1h-1zM17 106h1v1h-1zM19 106h1v1h-1zM20 108h1v1h-1zM22 110h2v1h-2zM28 110h1v1h-1z"/>
<path fill="#ef9b59" d="M5 16h1v1h-1zM6 33h1v1h-1zM21 58h1v1h-1zM6 65h1v1h-1zM23 95h1v1h-1zM18 98h1v1h-1zM24 100h1v1h-1zM21 101h1v1h-1zM20 102h1v1h-1zM21 106h1v1h-1zM23 106h1v1h-1zM20 110h2v1h-2zM23 111h1v1h-1z"/>
<path fill="#ec9152" d="M4 84h1v1h-1zM24 104h1v1h-1zM20 106h1v1h-1zM24 108h1v1h-1z"/>
<path fill="#e9864c" d="M19 101h1v1h-1zM18 106h1v1h-1zM18 110h1v1h-1z"/>
<path fill="#e67b46" d="M23 102h1v1h-1z"/>
<path fill="#e0653b" d="M24 101h1v1h-1z"/>
<path fill="#dc5a36" d="M24 110h1v1h-1z"/>
</g>
<path fill="none" stroke="#b4b4b4" stroke-width="0.80" d="M51.7 83.3V78.0M57.2 83.3V78.0M51.7 78.0H57.2M46.2 83.3V76.8M54.4 78.0V76.8M46.2 76.8H54.4M62.6 83.3V78.8M68.1 83.3V78.8M62.6 78.8H68.1M73.6 83.3V79.7M79.1 83.3V79.7M73.6 79.7H79.1M65.4 78.8V78.7M76.3 79.7V78.7M65.4 78.7H76.3M90.0 83.3V79.7M95.5 83.3V79.7M90.0 79.7H95.5M84.5 83.3V78.8M92.7 79.7V78.8M84.5 78.8H92.7M70.8 78.7V77.9M88.6 78.8V77.9M70.8 77.9H88.6M100.9 83.3V79.7M106.4 83.3V79.7M100.9 79.7H106.4M103.7 79.7V78.9M111.9 83.3V78.9M103.7 78.9H111.9M117.3 83.3V78.4M122.8 83.3V78.4M117.3 78.4H122.8M128.3 83.3V79.2M133.8 83.3V79.2M128.3 79.2H133.8M120.1 78.4V78.2M131.0 79.2V78.2M120.1 78.2H131.0M107.8 78.9V78.1M125.5 78.2V78.1M107.8 78.1H125.5M79.7 77.9V76.1M116.7 78.1V76.1M79.7 76.1H116.7M50.3 76.8V75.2M98.2 76.1V75.2M50.3 75.2H98.2M139.2 83.3V78.4M144.7 83.3V78.4M139.2 78.4H144.7M155.6 83.3V78.8M161.1 83.3V78.8M155.6 78.8H161.1M150.2 83.3V77.6M158.4 78.8V77.6M150.2 77.6H158.4M142.0 78.4V74.3M154.3 77.6V74.3M142.0 74.3H154.3M177.5 83.3V78.8M183.0 83.3V78.8M177.5 78.8H183.0M172.0 83.3V77.9M180.2 78.8V77.9M172.0 77.9H180.2M166.6 83.3V77.4M176.1 77.9V77.4M166.6 77.4H176.1M188.4 83.3V79.6M193.9 83.3V79.6M188.4 79.6H193.9M199.4 83.3V79.6M204.9 83.3V79.6M199.4 79.6H204.9M191.2 79.6V78.7M202.1 79.6V78.7M191.2 78.7H202.1M210.3 83.3V79.6M215.8 83.3V79.6M210.3 79.6H215.8M213.1 79.6V78.7M221.3 83.3V78.7M213.1 78.7H221.3M196.7 78.7V77.3M217.2 78.7V77.3M196.7 77.3H217.2M171.4 77.4V74.1M206.9 77.3V74.1M171.4 74.1H206.9M148.1 74.3V69.4M189.1 74.1V69.4M148.1 69.4H189.1M74.3 75.2V61.7M168.6 69.4V61.7M74.3 61.7H168.6"/>
<path fill="none" stroke="#b0b0b0" stroke-width="0.70" d="M41.1 99.9H40.1M41.2 112.2H40.1M40.1 99.9V112.2M40.1 106.0H38.5M41.1 135.6H38.5M38.5 106.0V135.6M41.6 157.4H40.5M41.9 169.1H40.5M40.5 157.4V169.1M40.5 163.2H39.4M41.5 186.0H39.4M39.4 163.2V186.0M41.5 195.9H39.9M41.5 207.5H39.9M39.9 195.9V207.5M39.4 174.6H36.7M39.9 201.7H36.7M36.7 174.6V201.7M38.5 120.8H30.5M36.7 188.2H30.5M30.5 120.8V188.2M41.2 227.2H40.2M41.6 253.7H40.2M40.2 227.2V253.7M30.5 154.5H25.4M40.2 240.4H25.4M25.4 154.5V240.4"/><path fill="none" stroke="#555" stroke-width="0.60" d="M43.6 94.5H42.8M43.6 96.0H42.8M42.8 94.5V96.0M43.6 93.0H42.6M42.8 95.2H42.6M42.6 93.0V95.2M43.6 97.5H42.6M43.6 99.0H42.6M42.6 97.5V99.0M42.6 94.1H42.3M42.6 98.2H42.3M42.3 94.1V98.2M43.6 100.5H42.7M43.6 102.0H42.7M42.7 100.5V102.0M42.7 101.2H42.5M43.6 103.5H42.5M42.5 101.2V103.5M42.5 102.3H42.4M43.6 105.0H42.4M42.4 102.3V105.0M42.3 96.1H41.1M42.4 103.6H41.1M41.1 96.1V103.6M43.6 109.5H42.8M43.6 111.0H42.8M42.8 109.5V111.0M43.6 108.0H42.6M42.8 110.2H42.6M42.6 108.0V110.2M43.6 106.5H42.2M42.6 109.1H42.2M42.2 106.5V109.1M43.6 112.5H42.8M43.6 114.0H42.8M42.8 112.5V114.0M42.8 113.2H42.6M43.6 115.5H42.6M42.6 113.2V115.5M43.6 117.0H42.6M43.6 118.5H42.6M42.6 117.0V118.5M42.6 117.7H42.3M43.6 120.0H42.3M42.3 117.7V120.0M42.6 114.3H42.0M42.3 118.8H42.0M42.0 114.3V118.8M42.2 107.8H41.2M42.0 116.6H41.2M41.2 107.8V116.6M43.6 123.0H42.8M43.6 124.5H42.8M42.8 123.0V124.5M43.6 121.5H42.6M42.8 123.7H42.6M42.6 121.5V123.7M43.6 126.0H42.6M43.6 127.5H42.6M42.6 126.0V127.5M42.6 122.6H42.5M42.6 126.7H42.5M42.5 122.6V126.7M43.6 128.9H42.6M43.6 130.4H42.6M42.6 128.9V130.4M43.6 131.9H42.9M43.6 133.4H42.9M42.9 131.9V133.4M42.9 132.7H42.7M43.6 134.9H42.7M42.7 132.7V134.9M42.6 129.7H42.5M42.7 133.8H42.5M42.5 129.7V133.8M42.5 124.6H42.0M42.5 131.8H42.0M42.0 124.6V131.8M43.6 136.4H42.5M43.6 137.9H42.5M42.5 136.4V137.9M43.6 139.4H42.6M43.6 140.9H42.6M42.6 139.4V140.9M42.5 137.2H42.4M42.6 140.2H42.4M42.4 137.2V140.2M43.6 142.4H43.1M43.6 143.9H43.1M43.1 142.4V143.9M43.1 143.2H43.0M43.6 145.4H43.0M43.0 143.2V145.4M43.0 144.3H42.8M43.6 146.9H42.8M42.8 144.3V146.9M43.6 148.4H42.8M43.6 149.9H42.8M42.8 148.4V149.9M42.8 145.6H42.6M42.8 149.2H42.6M42.6 145.6V149.2M42.4 138.7H41.8M42.6 147.4H41.8M41.8 138.7V147.4M42.0 128.2H41.1M41.8 143.1H41.1M41.1 128.2V143.1M43.6 152.9H42.9M43.6 154.4H42.9M42.9 152.9V154.4M43.6 151.4H42.7M42.9 153.7H42.7M42.7 151.4V153.7M43.6 155.9H42.7M43.6 157.4H42.7M42.7 155.9V157.4M42.7 152.6H42.5M42.7 156.7H42.5M42.5 152.6V156.7M43.6 160.4H42.5M43.6 161.9H42.5M42.5 160.4V161.9M43.6 158.9H42.3M42.5 161.2H42.3M42.3 158.9V161.2M42.5 154.6H41.6M42.3 160.1H41.6M41.6 154.6V160.1M43.6 163.4H42.4M43.6 164.9H42.4M42.4 163.4V164.9M42.4 164.2H42.4M43.6 166.4H42.4M42.4 164.2V166.4M43.6 167.9H42.7M43.6 169.4H42.7M42.7 167.9V169.4M42.7 168.7H42.5M43.6 170.9H42.5M42.5 168.7V170.9M43.6 172.4H42.6M43.6 173.9H42.6M42.6 172.4V173.9M42.6 173.2H42.5M43.6 175.4H42.5M42.5 173.2V175.4M43.6 176.9H42.5M43.6 178.4H42.5M42.5 176.9V178.4M42.5 174.3H42.3M42.5 177.7H42.3M42.3 174.3V177.7M42.5 169.8H42.3M42.3 176.0H42.3M42.3 169.8V176.0M42.4 165.3H41.9M42.3 172.9H41.9M41.9 165.3V172.9M43.6 179.9H42.5M43.6 181.4H42.5M42.5 179.9V181.4M43.6 184.4H42.6M43.6 185.9H42.6M42.6 184.4V185.9M43.6 182.9H42.4M42.6 185.2H42.4M42.4 182.9V185.2M42.5 180.7H42.1M42.4 184.1H42.1M42.1 180.7V184.1M43.6 187.4H42.6M43.6 188.9H42.6M42.6 187.4V188.9M43.6 190.4H42.6M43.6 191.9H42.6M42.6 190.4V191.9M42.6 188.2H42.5M42.6 191.2H42.5M42.5 188.2V191.2M42.1 182.4H41.5M42.5 189.7H41.5M41.5 182.4V189.7M43.6 193.4H42.3M43.6 194.9H42.3M42.3 193.4V194.9M43.6 197.9H42.4M43.6 199.4H42.4M42.4 197.9V199.4M43.6 196.4H42.4M42.4 198.7H42.4M42.4 196.4V198.7M42.3 194.2H41.5M42.4 197.6H41.5M41.5 194.2V197.6M43.6 200.9H42.5M43.6 202.4H42.5M42.5 200.9V202.4M43.6 205.4H42.6M43.6 206.9H42.6M42.6 205.4V206.9M43.6 203.9H42.6M42.6 206.2H42.6M42.6 203.9V206.2M42.5 201.7H42.4M42.6 205.1H42.4M42.4 201.7V205.1M43.6 209.9H42.6M43.6 211.4H42.6M42.6 209.9V211.4M43.6 208.4H42.4M42.6 210.7H42.4M42.4 208.4V210.7M43.6 212.9H42.6M43.6 214.4H42.6M42.6 212.9V214.4M42.4 209.6H42.4M42.6 213.7H42.4M42.4 209.6V213.7M42.4 203.4H41.5M42.4 211.6H41.5M41.5 203.4V211.6M43.6 215.9H42.8M43.6 217.4H42.8M42.8 215.9V217.4M42.8 216.7H42.5M43.6 218.9H42.5M42.5 216.7V218.9M43.6 221.9H42.7M43.6 223.4H42.7M42.7 221.9V223.4M43.6 220.4H42.5M42.7 222.7H42.5M42.5 220.4V222.7M43.6 224.9H42.7M43.6 226.4H42.7M42.7 224.9V226.4M42.5 221.6H42.5M42.7 225.7H42.5M42.5 221.6V225.7M42.5 217.8H42.2M42.5 223.6H42.2M42.2 217.8V223.6M43.6 229.4H42.9M43.6 230.9H42.9M42.9 229.4V230.9M42.9 230.2H42.8M43.6 232.4H42.8M42.8 230.2V232.4M43.6 227.9H42.6M42.8 231.3H42.6M42.6 227.9V231.3M43.6 233.9H42.9M43.6 235.4H42.9M42.9 233.9V235.4M42.9 234.7H42.7M43.6 236.9H42.7M42.7 234.7V236.9M43.6 239.9H42.9M43.6 241.4H42.9M42.9 239.9V241.4M43.6 238.4H42.7M42.9 240.7H42.7M42.7 238.4V240.7M42.7 235.8H42.5M42.7 239.6H42.5M42.5 235.8V239.6M42.6 229.6H42.3M42.5 237.7H42.3M42.3 229.6V237.7M42.2 220.7H41.2M42.3 233.7H41.2M41.2 220.7V233.7M43.6 244.4H42.6M43.6 245.9H42.6M42.6 244.4V245.9M43.6 242.9H42.6M42.6 245.2H42.6M42.6 242.9V245.2M43.6 247.4H42.6M43.6 248.9H42.6M42.6 247.4V248.9M42.6 244.1H42.5M42.6 248.2H42.5M42.5 244.1V248.2M43.6 250.4H42.7M43.6 251.9H42.7M42.7 250.4V251.9M42.7 251.2H42.4M43.6 253.4H42.4M42.4 251.2V253.4M42.5 246.1H42.1M42.4 252.3H42.1M42.1 246.1V252.3M43.6 254.9H42.8M43.6 256.4H42.8M42.8 254.9V256.4M42.8 255.7H42.6M43.6 257.9H42.6M42.6 255.7V257.9M42.6 256.8H42.3M43.6 259.4H42.3M42.3 256.8V259.4M42.1 249.2H41.6M42.3 258.1H41.6M41.6 249.2V258.1"/>
<rect x="43.5" y="83.3" width="93.6" height="8.9" fill="#2e2a85"/>
<rect x="137.1" y="83.3" width="86.9" height="8.9" fill="#4f9a3c"/>
<text x="90.50" y="89.60" font-size="7.50" fill="#fff" stroke="#fff" stroke-width="0.05" text-anchor="middle" textLength="51.00" lengthAdjust="spacingAndGlyphs">Indolent M-CLL</text>
<text x="180.30" y="89.60" font-size="7.50" fill="#fff" stroke="#fff" stroke-width="0.05" text-anchor="middle" textLength="55.00" lengthAdjust="spacingAndGlyphs">Spon Regression</text>
<text x="241.90" y="53.80" font-size="13.20" fill="#000" font-weight="bold">B</text>
<text x="257.90" y="54.20" font-size="9.20" fill="#231f20" stroke="#231f20" stroke-width="0.20" textLength="24.90" lengthAdjust="spacingAndGlyphs">GSEA</text>
<g shape-rendering="crispEdges" transform="translate(277.000 92.000) scale(4.38710 4.54054)">
<path fill="#d7e8f2" d="M0 0h2v1h-2zM4 0h1v1h-1zM9 0h1v1h-1zM11 0h1v1h-1zM25 0h1v1h-1zM28 0h1v1h-1zM14 1h1v1h-1zM26 1h1v1h-1zM0 2h3v1h-3zM10 2h1v1h-1zM13 2h2v1h-2zM9 3h2v1h-2zM13 3h2v1h-2zM26 3h1v1h-1zM9 4h1v1h-1zM14 4h1v1h-1zM29 4h2v1h-2zM3 5h1v1h-1zM1 6h1v1h-1zM10 6h1v1h-1zM13 6h1v1h-1zM25 6h1v1h-1zM1 7h1v1h-1zM4 7h1v1h-1zM9 7h3v1h-3zM13 7h1v1h-1zM23 7h1v1h-1zM27 7h2v1h-2zM2 8h2v1h-2zM5 8h2v1h-2zM14 8h1v1h-1zM9 9h1v1h-1zM24 9h1v1h-1zM0 10h1v1h-1zM3 10h1v1h-1zM8 10h1v1h-1zM10 10h2v1h-2zM27 10h1v1h-1zM3 11h1v1h-1zM5 11h2v1h-2zM9 11h1v1h-1zM11 11h3v1h-3zM15 11h2v1h-2zM24 11h1v1h-1zM28 11h1v1h-1zM0 12h3v1h-3zM8 12h2v1h-2zM13 12h3v1h-3zM26 12h1v1h-1zM1 13h1v1h-1zM3 13h1v1h-1zM5 13h1v1h-1zM8 13h1v1h-1zM10 13h1v1h-1zM12 13h1v1h-1zM3 14h1v1h-1zM9 14h2v1h-2zM25 14h1v1h-1zM28 14h1v1h-1zM15 15h2v1h-2zM22 15h1v1h-1zM8 16h3v1h-3zM21 16h1v1h-1zM27 16h1v1h-1zM9 17h1v1h-1zM11 17h2v1h-2zM22 17h1v1h-1zM28 17h1v1h-1zM1 18h1v1h-1zM3 18h2v1h-2zM13 18h2v1h-2zM24 18h1v1h-1zM0 19h2v1h-2zM3 19h2v1h-2zM7 19h1v1h-1zM14 19h2v1h-2zM24 19h1v1h-1zM27 19h1v1h-1zM3 20h2v1h-2zM10 20h1v1h-1zM15 20h1v1h-1zM24 20h1v1h-1zM4 21h1v1h-1zM7 21h1v1h-1zM14 21h1v1h-1zM23 21h1v1h-1zM27 21h1v1h-1zM30 21h1v1h-1zM0 22h1v1h-1zM3 22h1v1h-1zM10 22h1v1h-1zM15 22h1v1h-1zM0 23h2v1h-2zM12 23h1v1h-1zM28 23h1v1h-1zM0 24h1v1h-1zM5 24h1v1h-1zM17 24h2v1h-2zM27 24h1v1h-1zM4 25h1v1h-1zM9 25h2v1h-2zM0 26h3v1h-3zM4 26h1v1h-1zM9 26h3v1h-3zM2 27h1v1h-1zM4 27h1v1h-1zM11 27h1v1h-1zM25 27h2v1h-2zM28 27h1v1h-1zM3 28h2v1h-2zM11 28h1v1h-1zM2 29h2v1h-2zM14 29h1v1h-1zM26 29h1v1h-1zM28 29h1v1h-1zM0 30h1v1h-1zM15 30h2v1h-2zM8 31h3v1h-3zM13 31h1v1h-1zM3 32h2v1h-2zM6 32h3v1h-3zM18 32h1v1h-1zM21 32h1v1h-1zM3 33h2v1h-2zM14 33h1v1h-1zM3 34h1v1h-1zM6 34h1v1h-1zM14 34h1v1h-1zM18 34h1v1h-1zM29 34h1v1h-1zM0 35h1v1h-1zM11 35h3v1h-3zM15 35h1v1h-1zM24 35h3v1h-3zM29 35h1v1h-1zM1 36h1v1h-1zM16 36h1v1h-1zM23 36h1v1h-1zM26 36h1v1h-1zM28 36h2v1h-2z"/>
<path fill="#aacde6" d="M2 0h2v1h-2zM6 0h3v1h-3zM13 0h1v1h-1zM27 0h1v1h-1zM2 1h2v1h-2zM8 1h2v1h-2zM13 1h1v1h-1zM25 1h1v1h-1zM27 1h1v1h-1zM3 2h2v1h-2zM7 2h1v1h-1zM9 2h1v1h-1zM11 2h1v1h-1zM3 3h1v1h-1zM27 3h1v1h-1zM3 4h1v1h-1zM7 4h1v1h-1zM10 4h2v1h-2zM21 4h1v1h-1zM2 5h1v1h-1zM22 5h1v1h-1zM0 6h1v1h-1zM3 6h1v1h-1zM7 6h1v1h-1zM9 6h1v1h-1zM2 7h2v1h-2zM7 7h1v1h-1zM14 7h1v1h-1zM25 7h1v1h-1zM4 8h1v1h-1zM7 8h4v1h-4zM13 8h1v1h-1zM3 9h2v1h-2zM10 9h1v1h-1zM14 9h1v1h-1zM2 10h1v1h-1zM4 10h1v1h-1zM9 10h1v1h-1zM13 10h1v1h-1zM2 11h1v1h-1zM4 11h1v1h-1zM7 11h1v1h-1zM14 11h1v1h-1zM3 12h1v1h-1zM6 12h1v1h-1zM10 12h1v1h-1zM0 13h1v1h-1zM6 13h1v1h-1zM14 13h1v1h-1zM1 14h2v1h-2zM4 14h1v1h-1zM8 14h1v1h-1zM13 14h1v1h-1zM27 14h1v1h-1zM0 15h1v1h-1zM2 15h2v1h-2zM7 15h3v1h-3zM12 16h1v1h-1zM15 16h1v1h-1zM1 17h2v1h-2zM4 17h1v1h-1zM7 17h1v1h-1zM10 17h1v1h-1zM15 17h1v1h-1zM23 17h1v1h-1zM9 18h2v1h-2zM6 19h1v1h-1zM9 19h1v1h-1zM11 19h1v1h-1zM13 19h1v1h-1zM7 20h1v1h-1zM11 20h3v1h-3zM2 21h2v1h-2zM8 21h2v1h-2zM4 22h1v1h-1zM8 22h2v1h-2zM3 23h3v1h-3zM8 23h3v1h-3zM1 24h2v1h-2zM9 24h2v1h-2zM12 24h1v1h-1zM15 24h1v1h-1zM0 25h1v1h-1zM3 25h1v1h-1zM7 25h1v1h-1zM8 26h1v1h-1zM25 26h1v1h-1zM27 26h1v1h-1zM3 27h1v1h-1zM6 27h1v1h-1zM8 27h1v1h-1zM10 27h1v1h-1zM14 27h1v1h-1zM7 28h2v1h-2zM23 28h1v1h-1zM9 29h1v1h-1zM12 29h2v1h-2zM30 29h1v1h-1zM1 30h1v1h-1zM3 30h1v1h-1zM6 30h1v1h-1zM8 30h2v1h-2zM28 30h1v1h-1zM1 31h1v1h-1zM3 31h2v1h-2zM7 31h1v1h-1zM12 31h1v1h-1zM15 31h1v1h-1zM5 32h1v1h-1zM9 32h2v1h-2zM13 32h1v1h-1zM19 32h1v1h-1zM25 32h1v1h-1zM29 32h2v1h-2zM1 33h1v1h-1zM6 33h1v1h-1zM9 33h2v1h-2zM30 33h1v1h-1zM7 34h7v1h-7zM1 35h1v1h-1zM7 35h1v1h-1zM9 35h2v1h-2zM14 35h1v1h-1zM12 36h1v1h-1zM14 36h1v1h-1zM19 36h3v1h-3zM25 36h1v1h-1z"/>
<path fill="#f7c378" d="M5 0h1v1h-1zM16 0h1v1h-1zM5 1h1v1h-1zM16 1h1v1h-1zM19 1h1v1h-1zM21 1h1v1h-1zM23 1h1v1h-1zM15 2h1v1h-1zM17 2h1v1h-1zM19 2h1v1h-1zM22 2h1v1h-1zM15 3h1v1h-1zM20 3h3v1h-3zM12 4h1v1h-1zM16 4h1v1h-1zM18 4h2v1h-2zM27 4h2v1h-2zM1 5h1v1h-1zM12 5h1v1h-1zM14 5h1v1h-1zM20 5h1v1h-1zM25 5h1v1h-1zM29 5h1v1h-1zM15 6h2v1h-2zM23 6h2v1h-2zM29 6h1v1h-1zM5 7h1v1h-1zM16 8h1v1h-1zM21 8h1v1h-1zM26 8h2v1h-2zM30 8h1v1h-1zM12 9h1v1h-1zM18 9h2v1h-2zM21 9h2v1h-2zM1 10h1v1h-1zM16 10h1v1h-1zM19 10h1v1h-1zM23 10h1v1h-1zM25 10h2v1h-2zM23 11h1v1h-1zM12 12h1v1h-1zM19 12h1v1h-1zM15 13h1v1h-1zM20 13h2v1h-2zM25 13h1v1h-1zM15 14h1v1h-1zM21 14h1v1h-1zM30 14h1v1h-1zM11 15h1v1h-1zM17 15h1v1h-1zM23 15h1v1h-1zM25 15h2v1h-2zM30 15h1v1h-1zM14 16h1v1h-1zM18 16h1v1h-1zM20 16h1v1h-1zM25 16h2v1h-2zM29 16h1v1h-1zM16 17h1v1h-1zM18 17h2v1h-2zM24 17h1v1h-1zM0 18h1v1h-1zM15 18h1v1h-1zM18 18h2v1h-2zM10 19h1v1h-1zM25 19h2v1h-2zM29 19h1v1h-1zM16 20h1v1h-1zM19 20h2v1h-2zM25 20h1v1h-1zM29 20h1v1h-1zM0 21h1v1h-1zM6 21h1v1h-1zM15 21h1v1h-1zM24 21h1v1h-1zM26 21h1v1h-1zM14 22h1v1h-1zM22 22h1v1h-1zM26 22h1v1h-1zM30 22h1v1h-1zM18 23h2v1h-2zM25 23h2v1h-2zM29 23h2v1h-2zM8 24h1v1h-1zM16 24h1v1h-1zM21 24h2v1h-2zM24 24h2v1h-2zM28 24h2v1h-2zM5 25h1v1h-1zM12 25h1v1h-1zM15 25h2v1h-2zM18 25h2v1h-2zM28 25h1v1h-1zM19 26h2v1h-2zM24 26h1v1h-1zM17 27h2v1h-2zM22 27h1v1h-1zM13 28h1v1h-1zM27 28h1v1h-1zM29 28h1v1h-1zM0 29h1v1h-1zM15 29h1v1h-1zM19 29h2v1h-2zM24 29h2v1h-2zM13 30h1v1h-1zM19 30h1v1h-1zM29 30h1v1h-1zM17 31h2v1h-2zM25 31h1v1h-1zM29 31h1v1h-1zM0 32h1v1h-1zM14 32h1v1h-1zM27 32h1v1h-1zM5 33h1v1h-1zM20 33h1v1h-1zM0 34h2v1h-2zM23 34h3v1h-3zM16 35h1v1h-1zM18 35h1v1h-1zM22 35h1v1h-1zM28 35h1v1h-1zM4 36h2v1h-2zM11 36h1v1h-1zM22 36h1v1h-1z"/>
<path fill="#f0f4eb" d="M10 0h1v1h-1zM14 0h1v1h-1zM4 1h1v1h-1zM11 1h1v1h-1zM2 3h1v1h-1zM4 4h1v1h-1zM15 5h2v1h-2zM15 10h1v1h-1zM4 13h1v1h-1zM7 13h1v1h-1zM1 15h1v1h-1zM17 19h1v1h-1zM13 21h1v1h-1zM22 31h1v1h-1zM8 33h1v1h-1zM8 35h1v1h-1z"/>
<path fill="#fde296" d="M12 0h1v1h-1zM15 0h1v1h-1zM18 0h2v1h-2zM26 0h1v1h-1zM29 0h2v1h-2zM0 1h1v1h-1zM12 1h1v1h-1zM15 1h1v1h-1zM22 1h1v1h-1zM28 1h3v1h-3zM12 2h1v1h-1zM18 2h1v1h-1zM20 2h1v1h-1zM18 3h1v1h-1zM23 3h2v1h-2zM2 4h1v1h-1zM5 4h1v1h-1zM20 4h1v1h-1zM0 5h1v1h-1zM6 5h1v1h-1zM9 5h1v1h-1zM11 5h1v1h-1zM18 5h1v1h-1zM26 5h2v1h-2zM2 6h1v1h-1zM18 6h1v1h-1zM20 6h3v1h-3zM0 7h1v1h-1zM12 7h1v1h-1zM18 7h2v1h-2zM29 7h1v1h-1zM1 8h1v1h-1zM11 8h2v1h-2zM18 8h1v1h-1zM20 8h1v1h-1zM22 8h1v1h-1zM25 8h1v1h-1zM28 8h1v1h-1zM1 9h1v1h-1zM5 9h1v1h-1zM16 9h1v1h-1zM25 9h2v1h-2zM12 10h1v1h-1zM14 10h1v1h-1zM17 10h2v1h-2zM22 10h1v1h-1zM1 11h1v1h-1zM19 11h1v1h-1zM25 11h2v1h-2zM29 11h1v1h-1zM5 12h1v1h-1zM16 12h1v1h-1zM18 12h1v1h-1zM24 12h1v1h-1zM5 14h1v1h-1zM12 14h1v1h-1zM18 14h2v1h-2zM22 14h2v1h-2zM26 14h1v1h-1zM6 15h1v1h-1zM12 15h2v1h-2zM18 15h1v1h-1zM1 16h4v1h-4zM7 16h1v1h-1zM16 16h1v1h-1zM23 16h1v1h-1zM28 16h1v1h-1zM0 17h1v1h-1zM3 17h1v1h-1zM8 17h1v1h-1zM14 17h1v1h-1zM26 17h1v1h-1zM2 18h1v1h-1zM25 18h2v1h-2zM29 18h1v1h-1zM8 19h1v1h-1zM19 19h1v1h-1zM0 20h2v1h-2zM8 20h1v1h-1zM17 20h1v1h-1zM22 20h1v1h-1zM26 20h1v1h-1zM1 21h1v1h-1zM19 21h1v1h-1zM22 21h1v1h-1zM25 21h1v1h-1zM29 21h1v1h-1zM1 22h1v1h-1zM11 22h2v1h-2zM29 22h1v1h-1zM6 23h1v1h-1zM16 23h1v1h-1zM24 23h1v1h-1zM4 24h1v1h-1zM20 24h1v1h-1zM23 24h1v1h-1zM2 25h1v1h-1zM14 25h1v1h-1zM22 25h1v1h-1zM24 25h2v1h-2zM12 26h1v1h-1zM14 26h2v1h-2zM21 26h2v1h-2zM26 26h1v1h-1zM30 26h1v1h-1zM12 27h1v1h-1zM15 27h1v1h-1zM27 27h1v1h-1zM2 28h1v1h-1zM5 28h1v1h-1zM12 28h1v1h-1zM16 28h3v1h-3zM28 28h1v1h-1zM5 29h1v1h-1zM7 29h1v1h-1zM11 29h1v1h-1zM29 29h1v1h-1zM12 30h1v1h-1zM14 30h1v1h-1zM21 30h1v1h-1zM25 30h1v1h-1zM0 31h1v1h-1zM6 31h1v1h-1zM14 31h1v1h-1zM16 31h1v1h-1zM1 32h2v1h-2zM12 32h1v1h-1zM28 32h1v1h-1zM12 33h1v1h-1zM15 33h2v1h-2zM23 33h1v1h-1zM25 33h1v1h-1zM28 33h2v1h-2zM2 34h1v1h-1zM19 34h1v1h-1zM22 34h1v1h-1zM28 34h1v1h-1zM3 35h2v1h-2zM0 36h1v1h-1zM2 36h1v1h-1zM9 36h2v1h-2zM15 36h1v1h-1zM24 36h1v1h-1z"/>
<path fill="#ee9655" d="M17 0h1v1h-1zM21 0h4v1h-4zM17 1h2v1h-2zM21 2h1v1h-1zM23 2h2v1h-2zM17 3h1v1h-1zM15 4h1v1h-1zM17 4h1v1h-1zM22 4h2v1h-2zM17 5h1v1h-1zM23 5h1v1h-1zM5 6h1v1h-1zM17 6h1v1h-1zM17 7h1v1h-1zM21 7h1v1h-1zM24 7h1v1h-1zM17 8h1v1h-1zM19 8h1v1h-1zM23 8h2v1h-2zM15 9h1v1h-1zM17 9h1v1h-1zM20 9h1v1h-1zM20 10h1v1h-1zM30 10h1v1h-1zM18 11h1v1h-1zM21 11h2v1h-2zM30 11h1v1h-1zM11 12h1v1h-1zM21 12h1v1h-1zM16 13h4v1h-4zM26 13h1v1h-1zM16 14h1v1h-1zM19 15h3v1h-3zM19 16h1v1h-1zM27 17h1v1h-1zM5 18h1v1h-1zM16 18h2v1h-2zM21 18h3v1h-3zM27 18h1v1h-1zM5 19h1v1h-1zM16 19h1v1h-1zM18 19h1v1h-1zM22 19h1v1h-1zM5 20h1v1h-1zM18 20h1v1h-1zM23 20h1v1h-1zM17 22h4v1h-4zM17 23h1v1h-1zM20 23h1v1h-1zM22 23h1v1h-1zM19 24h1v1h-1zM30 24h1v1h-1zM20 25h1v1h-1zM23 25h1v1h-1zM5 26h1v1h-1zM17 26h2v1h-2zM5 27h1v1h-1zM16 27h1v1h-1zM19 27h2v1h-2zM23 27h1v1h-1zM29 27h1v1h-1zM14 28h1v1h-1zM19 28h2v1h-2zM22 28h1v1h-1zM26 28h1v1h-1zM30 28h1v1h-1zM17 29h1v1h-1zM21 29h2v1h-2zM27 29h1v1h-1zM17 30h2v1h-2zM20 30h1v1h-1zM22 30h1v1h-1zM19 31h1v1h-1zM23 31h1v1h-1zM26 31h1v1h-1zM17 32h1v1h-1zM22 32h2v1h-2zM18 33h2v1h-2zM21 33h1v1h-1zM15 34h1v1h-1zM21 34h1v1h-1zM26 34h1v1h-1zM17 35h1v1h-1zM19 35h3v1h-3zM3 36h1v1h-1zM30 36h1v1h-1z"/>
<path fill="#de5f37" d="M20 0h1v1h-1zM20 1h1v1h-1zM16 2h1v1h-1zM16 3h1v1h-1zM20 7h1v1h-1zM20 12h1v1h-1zM22 13h2v1h-2zM17 14h1v1h-1zM20 14h1v1h-1zM24 15h1v1h-1zM17 17h1v1h-1zM25 17h1v1h-1zM21 20h1v1h-1zM17 21h1v1h-1zM20 21h1v1h-1zM24 22h1v1h-1zM21 23h1v1h-1zM26 24h1v1h-1zM17 25h1v1h-1zM16 26h1v1h-1zM23 26h1v1h-1zM21 27h1v1h-1zM16 29h1v1h-1zM23 30h2v1h-2zM20 31h2v1h-2zM24 31h1v1h-1zM16 32h1v1h-1zM17 33h1v1h-1zM22 33h1v1h-1zM16 34h1v1h-1zM23 35h1v1h-1zM6 36h3v1h-3z"/>
<path fill="#fcf3c8" d="M1 1h1v1h-1zM10 1h1v1h-1zM24 1h1v1h-1zM5 2h1v1h-1zM25 2h6v1h-6zM0 3h2v1h-2zM4 3h1v1h-1zM12 3h1v1h-1zM19 3h1v1h-1zM25 3h1v1h-1zM28 3h3v1h-3zM1 4h1v1h-1zM13 4h1v1h-1zM24 4h3v1h-3zM10 5h1v1h-1zM13 5h1v1h-1zM19 5h1v1h-1zM21 5h1v1h-1zM24 5h1v1h-1zM28 5h1v1h-1zM30 5h1v1h-1zM4 6h1v1h-1zM12 6h1v1h-1zM14 6h1v1h-1zM19 6h1v1h-1zM26 6h3v1h-3zM30 6h1v1h-1zM15 7h1v1h-1zM22 7h1v1h-1zM26 7h1v1h-1zM30 7h1v1h-1zM15 8h1v1h-1zM0 9h1v1h-1zM2 9h1v1h-1zM11 9h1v1h-1zM13 9h1v1h-1zM23 9h1v1h-1zM27 9h4v1h-4zM6 10h1v1h-1zM21 10h1v1h-1zM28 10h2v1h-2zM0 11h1v1h-1zM10 11h1v1h-1zM20 11h1v1h-1zM27 11h1v1h-1zM22 12h2v1h-2zM25 12h1v1h-1zM27 12h4v1h-4zM13 13h1v1h-1zM24 13h1v1h-1zM27 13h4v1h-4zM0 14h1v1h-1zM11 14h1v1h-1zM14 14h1v1h-1zM29 14h1v1h-1zM10 15h1v1h-1zM14 15h1v1h-1zM27 15h3v1h-3zM5 16h1v1h-1zM13 16h1v1h-1zM17 16h1v1h-1zM30 16h1v1h-1zM5 17h2v1h-2zM13 17h1v1h-1zM21 17h1v1h-1zM29 17h2v1h-2zM12 18h1v1h-1zM20 18h1v1h-1zM28 18h1v1h-1zM30 18h1v1h-1zM2 19h1v1h-1zM20 19h1v1h-1zM23 19h1v1h-1zM28 19h1v1h-1zM30 19h1v1h-1zM6 20h1v1h-1zM27 20h2v1h-2zM30 20h1v1h-1zM10 21h3v1h-3zM18 21h1v1h-1zM21 21h1v1h-1zM28 21h1v1h-1zM6 22h1v1h-1zM13 22h1v1h-1zM16 22h1v1h-1zM21 22h1v1h-1zM23 22h1v1h-1zM25 22h1v1h-1zM27 22h2v1h-2zM11 23h1v1h-1zM13 23h3v1h-3zM23 23h1v1h-1zM27 23h1v1h-1zM3 24h1v1h-1zM11 24h1v1h-1zM13 24h2v1h-2zM1 25h1v1h-1zM13 25h1v1h-1zM21 25h1v1h-1zM26 25h2v1h-2zM29 25h2v1h-2zM13 26h1v1h-1zM28 26h2v1h-2zM1 27h1v1h-1zM9 27h1v1h-1zM13 27h1v1h-1zM24 27h1v1h-1zM30 27h1v1h-1zM1 28h1v1h-1zM10 28h1v1h-1zM15 28h1v1h-1zM21 28h1v1h-1zM25 28h1v1h-1zM4 29h1v1h-1zM8 29h1v1h-1zM18 29h1v1h-1zM23 29h1v1h-1zM4 30h2v1h-2zM11 30h1v1h-1zM26 30h2v1h-2zM30 30h1v1h-1zM11 31h1v1h-1zM27 31h2v1h-2zM30 31h1v1h-1zM11 32h1v1h-1zM20 32h1v1h-1zM26 32h1v1h-1zM11 33h1v1h-1zM13 33h1v1h-1zM24 33h1v1h-1zM26 33h2v1h-2zM4 34h1v1h-1zM20 34h1v1h-1zM27 34h1v1h-1zM30 34h1v1h-1zM2 35h1v1h-1zM27 35h1v1h-1zM30 35h1v1h-1zM13 36h1v1h-1zM17 36h1v1h-1z"/>
<path fill="#4678be" d="M6 1h1v1h-1zM5 5h1v1h-1zM7 5h1v1h-1zM6 6h1v1h-1zM6 9h1v1h-1zM9 13h1v1h-1zM5 15h1v1h-1zM6 16h1v1h-1zM11 16h1v1h-1zM12 19h1v1h-1zM5 31h1v1h-1zM6 35h1v1h-1zM18 36h1v1h-1z"/>
<path fill="#6ea0d2" d="M7 1h1v1h-1zM6 2h1v1h-1zM8 2h1v1h-1zM6 3h3v1h-3zM11 3h1v1h-1zM0 4h1v1h-1zM6 4h1v1h-1zM8 4h1v1h-1zM4 5h1v1h-1zM8 5h1v1h-1zM8 6h1v1h-1zM11 6h1v1h-1zM6 7h1v1h-1zM8 7h1v1h-1zM0 8h1v1h-1zM29 8h1v1h-1zM7 9h2v1h-2zM5 10h1v1h-1zM8 11h1v1h-1zM4 12h1v1h-1zM7 12h1v1h-1zM2 13h1v1h-1zM11 13h1v1h-1zM6 14h2v1h-2zM4 15h1v1h-1zM0 16h1v1h-1zM24 16h1v1h-1zM6 18h3v1h-3zM11 18h1v1h-1zM2 20h1v1h-1zM9 20h1v1h-1zM14 20h1v1h-1zM2 22h1v1h-1zM5 22h1v1h-1zM7 22h1v1h-1zM2 23h1v1h-1zM7 23h1v1h-1zM6 24h2v1h-2zM6 25h1v1h-1zM8 25h1v1h-1zM11 25h1v1h-1zM3 26h1v1h-1zM6 26h2v1h-2zM0 27h1v1h-1zM7 27h1v1h-1zM0 28h1v1h-1zM6 28h1v1h-1zM9 28h1v1h-1zM24 28h1v1h-1zM6 29h1v1h-1zM10 29h1v1h-1zM2 30h1v1h-1zM7 30h1v1h-1zM10 30h1v1h-1zM2 31h1v1h-1zM24 32h1v1h-1zM0 33h1v1h-1zM2 33h1v1h-1zM7 33h1v1h-1zM5 34h1v1h-1zM27 36h1v1h-1z"/>
<path fill="#c31923" d="M5 3h1v1h-1zM16 7h1v1h-1zM24 10h1v1h-1zM17 11h1v1h-1zM17 12h1v1h-1zM24 14h1v1h-1zM22 16h1v1h-1zM20 17h1v1h-1zM21 19h1v1h-1zM16 21h1v1h-1zM15 32h1v1h-1zM17 34h1v1h-1zM5 35h1v1h-1z"/>
<path fill="#3150a0" d="M7 10h1v1h-1zM5 21h1v1h-1zM1 29h1v1h-1z"/>
</g>
<path fill="none" stroke="#b4b4b4" stroke-width="0.80" d="M283.6 83.3V78.8M288.0 83.3V78.8M283.6 78.8H288.0M279.2 83.3V76.3M285.8 78.8V76.3M279.2 76.3H285.8M292.4 83.3V79.7M296.7 83.3V79.7M292.4 79.7H296.7M301.1 83.3V78.9M305.5 83.3V78.9M301.1 78.9H305.5M294.5 79.7V78.1M303.3 78.9V78.1M294.5 78.1H303.3M309.9 83.3V79.7M314.3 83.3V79.7M309.9 79.7H314.3M312.1 79.7V79.6M318.7 83.3V79.6M312.1 79.6H318.7M331.8 83.3V80.4M336.2 83.3V80.4M331.8 80.4H336.2M327.5 83.3V79.6M334.0 80.4V79.6M327.5 79.6H334.0M323.1 83.3V78.7M330.7 79.6V78.7M323.1 78.7H330.7M315.4 79.6V77.8M326.9 78.7V77.8M315.4 77.8H326.9M298.9 78.1V74.8M321.1 77.8V74.8M298.9 74.8H321.1M282.5 76.3V73.0M310.0 74.8V73.0M282.5 73.0H310.0M340.6 83.3V79.0M345.0 83.3V79.0M340.6 79.0H345.0M349.4 83.3V79.0M353.8 83.3V79.0M349.4 79.0H353.8M342.8 79.0V75.3M351.6 79.0V75.3M342.8 75.3H351.6M362.5 83.3V79.6M366.9 83.3V79.6M362.5 79.6H366.9M358.2 83.3V78.7M364.7 79.6V78.7M358.2 78.7H364.7M371.3 83.3V78.7M375.7 83.3V78.7M371.3 78.7H375.7M361.5 78.7V78.6M373.5 78.7V78.6M361.5 78.6H373.5M380.1 83.3V79.7M384.5 83.3V79.7M380.1 79.7H384.5M388.9 83.3V80.0M393.3 83.3V80.0M388.9 80.0H393.3M382.3 79.7V79.2M391.1 80.0V79.2M382.3 79.2H391.1M397.6 83.3V78.7M402.0 83.3V78.7M397.6 78.7H402.0M406.4 83.3V78.9M410.8 83.3V78.9M406.4 78.9H410.8M399.8 78.7V78.3M408.6 78.9V78.3M399.8 78.3H408.6M386.7 79.2V76.3M404.2 78.3V76.3M386.7 76.3H404.2M367.5 78.6V74.3M395.5 76.3V74.3M367.5 74.3H395.5M347.2 75.3V72.2M381.5 74.3V72.2M347.2 72.2H381.5M296.3 73.0V60.6M364.3 72.2V60.6M296.3 60.6H364.3"/>
<path fill="none" stroke="#b0b0b0" stroke-width="0.70" d="M274.7 101.6H272.3M274.9 122.6H272.3M272.3 101.6V122.6M274.2 141.4H271.8M273.9 162.9H271.8M271.8 141.4V162.9M272.3 112.1H268.0M271.8 152.2H268.0M268.0 112.1V152.2M273.9 178.3H272.6M274.5 193.6H272.6M272.6 178.3V193.6M275.2 214.6H273.3M275.1 232.8H273.3M273.3 214.6V232.8M272.6 185.9H271.2M273.3 223.7H271.2M271.2 185.9V223.7M271.2 204.8H267.9M273.8 252.6H267.9M267.9 204.8V252.6M268.0 132.2H257.7M267.9 228.7H257.7M257.7 132.2V228.7"/><path fill="none" stroke="#666" stroke-width="0.60" d="M276.8 94.3H275.3M276.8 98.8H275.3M275.3 94.3V98.8M276.8 107.9H275.3M276.8 112.4H275.3M275.3 107.9V112.4M276.8 103.4H275.2M275.3 110.2H275.2M275.2 103.4V110.2M275.3 96.5H274.7M275.2 106.8H274.7M274.7 96.5V106.8M276.8 117.0H275.3M276.8 121.5H275.3M275.3 117.0V121.5M275.3 119.2H274.9M276.8 126.1H274.9M274.9 119.2V126.1M276.8 130.6H275.5M276.8 135.1H275.5M275.5 130.6V135.1M275.5 132.9H275.0M276.8 139.7H275.0M275.0 132.9V139.7M276.8 144.2H275.3M276.8 148.8H275.3M275.3 144.2V148.8M275.0 136.3H274.2M275.3 146.5H274.2M274.2 136.3V146.5M276.8 153.3H275.3M276.8 157.8H275.3M275.3 153.3V157.8M275.3 155.6H275.3M276.8 162.4H275.3M275.3 155.6V162.4M275.3 159.0H273.9M276.8 166.9H273.9M273.9 159.0V166.9M276.8 171.5H275.3M276.8 176.0H275.3M275.3 171.5V176.0M276.8 180.5H275.4M276.8 185.1H275.4M275.4 180.5V185.1M275.3 173.7H273.9M275.4 182.8H273.9M273.9 173.7V182.8M276.8 198.7H275.4M276.8 203.2H275.4M275.4 198.7V203.2M276.8 194.2H275.2M275.4 201.0H275.2M275.2 194.2V201.0M276.8 189.6H274.5M275.2 197.6H274.5M274.5 189.6V197.6M276.8 207.8H275.4M276.8 212.3H275.4M275.4 207.8V212.3M276.8 216.9H275.4M276.8 221.4H275.4M275.4 216.9V221.4M275.4 210.1H275.2M275.4 219.1H275.2M275.2 210.1V219.1M276.8 225.9H275.3M276.8 230.5H275.3M275.3 225.9V230.5M276.8 235.0H275.3M276.8 239.6H275.3M275.3 235.0V239.6M275.3 228.2H275.1M275.3 237.3H275.1M275.1 228.2V237.3M276.8 248.6H275.4M276.8 253.2H275.4M275.4 248.6V253.2M276.8 244.1H274.6M275.4 250.9H274.6M274.6 244.1V250.9M274.6 247.5H273.8M276.8 257.7H273.8M273.8 247.5V257.7"/>
<rect x="277" y="83.3" width="61" height="8.7" fill="#4f9a3c"/>
<rect x="338" y="83.3" width="43.5" height="8.7" fill="#2e2a85"/>
<rect x="381.5" y="83.3" width="4.3" height="8.7" fill="#4f9a3c"/>
<rect x="385.8" y="83.3" width="26.7" height="8.7" fill="#2e2a85"/>
<text x="307.70" y="89.60" font-size="7.50" fill="#fff" stroke="#fff" stroke-width="0.05" text-anchor="middle" textLength="53.80" lengthAdjust="spacingAndGlyphs">Spon Regression</text>
<text x="360.00" y="89.60" font-size="7.50" fill="#fff" stroke="#fff" stroke-width="0.05" text-anchor="middle" textLength="27.50" lengthAdjust="spacingAndGlyphs">Indolent</text>
<text x="398.00" y="89.60" font-size="7.50" fill="#fff" stroke="#fff" stroke-width="0.05" text-anchor="middle" textLength="22.00" lengthAdjust="spacingAndGlyphs">M-CLL</text>
<text x="414" y="95.92" font-size="4.7" fill="#231f20" stroke="#231f20" stroke-width="0.12">RPLP0</text>
<text x="414" y="100.46" font-size="4.7" fill="#231f20" stroke="#231f20" stroke-width="0.12">RPS5</text>
<text x="414" y="105.00" font-size="4.7" fill="#231f20" stroke="#231f20" stroke-width="0.12">RPL6</text>
<text x="414" y="109.54" font-size="4.7" fill="#231f20" stroke="#231f20" stroke-width="0.12">RPL18</text>
<text x="414" y="114.08" font-size="4.7" fill="#231f20" stroke="#231f20" stroke-width="0.12">GNB2L1</text>
<text x="414" y="118.62" font-size="4.7" fill="#231f20" stroke="#231f20" stroke-width="0.12">PABPC1</text>
<text x="414" y="123.16" font-size="4.7" fill="#231f20" stroke="#231f20" stroke-width="0.12">RPS2</text>
<text x="414" y="127.70" font-size="4.7" fill="#231f20" stroke="#231f20" stroke-width="0.12">RPS6</text>
<text x="414" y="132.24" font-size="4.7" fill="#231f20" stroke="#231f20" stroke-width="0.12">SET</text>
<text x="414" y="136.79" font-size="4.7" fill="#231f20" stroke="#231f20" stroke-width="0.12">PCBP1</text>
<text x="414" y="141.33" font-size="4.7" fill="#231f20" stroke="#231f20" stroke-width="0.12">ILF2</text>
<text x="414" y="145.87" font-size="4.7" fill="#231f20" stroke="#231f20" stroke-width="0.12">RNPS1</text>
<text x="414" y="150.41" font-size="4.7" fill="#231f20" stroke="#231f20" stroke-width="0.12">CNBP</text>
<text x="414" y="154.95" font-size="4.7" fill="#231f20" stroke="#231f20" stroke-width="0.12">EIF3D</text>
<text x="414" y="159.49" font-size="4.7" fill="#231f20" stroke="#231f20" stroke-width="0.12">EEF1B2</text>
<text x="414" y="164.03" font-size="4.7" fill="#231f20" stroke="#231f20" stroke-width="0.12">HNRNPC</text>
<text x="414" y="168.57" font-size="4.7" fill="#231f20" stroke="#231f20" stroke-width="0.12">PSMD3</text>
<text x="414" y="173.11" font-size="4.7" fill="#231f20" stroke="#231f20" stroke-width="0.12">PWP1</text>
<text x="414" y="177.65" font-size="4.7" fill="#231f20" stroke="#231f20" stroke-width="0.12">APEX1</text>
<text x="414" y="182.19" font-size="4.7" fill="#231f20" stroke="#231f20" stroke-width="0.12">PRPF31</text>
<text x="414" y="186.73" font-size="4.7" fill="#231f20" stroke="#231f20" stroke-width="0.12">PSMC4</text>
<text x="414" y="191.27" font-size="4.7" fill="#231f20" stroke="#231f20" stroke-width="0.12">CCT4</text>
<text x="414" y="195.81" font-size="4.7" fill="#231f20" stroke="#231f20" stroke-width="0.12">KARS</text>
<text x="414" y="200.35" font-size="4.7" fill="#231f20" stroke="#231f20" stroke-width="0.12">PSMD7</text>
<text x="414" y="204.89" font-size="4.7" fill="#231f20" stroke="#231f20" stroke-width="0.12">BUB3</text>
<text x="414" y="209.43" font-size="4.7" fill="#231f20" stroke="#231f20" stroke-width="0.12">PHB2</text>
<text x="414" y="213.97" font-size="4.7" fill="#231f20" stroke="#231f20" stroke-width="0.12">FBL</text>
<text x="414" y="218.51" font-size="4.7" fill="#231f20" stroke="#231f20" stroke-width="0.12">HDGF</text>
<text x="414" y="223.06" font-size="4.7" fill="#231f20" stroke="#231f20" stroke-width="0.12">MCM2</text>
<text x="414" y="227.60" font-size="4.7" fill="#231f20" stroke="#231f20" stroke-width="0.12">EIF2S2</text>
<text x="414" y="232.14" font-size="4.7" fill="#231f20" stroke="#231f20" stroke-width="0.12">ACP1</text>
<text x="414" y="236.68" font-size="4.7" fill="#231f20" stroke="#231f20" stroke-width="0.12">ABCE1</text>
<text x="414" y="241.22" font-size="4.7" fill="#231f20" stroke="#231f20" stroke-width="0.12">IMPDH2</text>
<text x="414" y="245.76" font-size="4.7" fill="#231f20" stroke="#231f20" stroke-width="0.12">C1QBP</text>
<text x="414" y="250.30" font-size="4.7" fill="#231f20" stroke="#231f20" stroke-width="0.12">MYC</text>
<text x="414" y="254.84" font-size="4.7" fill="#231f20" stroke="#231f20" stroke-width="0.12">AIMP2</text>
<text x="414" y="259.38" font-size="4.7" fill="#231f20" stroke="#231f20" stroke-width="0.12">PSMA2</text>
<text transform="translate(439.4,150.3) rotate(90)" font-size="6.9" fill="#231f20" stroke="#231f20" stroke-width="0.15" textLength="52" lengthAdjust="spacingAndGlyphs">MYC pathway genes</text>
<text x="8.00" y="289.00" font-size="13.20" fill="#000" font-weight="bold">C</text>
<text x="25.00" y="289.20" font-size="9.80" fill="#231f20" stroke="#231f20" stroke-width="0.22" textLength="29.00" lengthAdjust="spacingAndGlyphs">DAVID</text>
<text x="95.00" y="303.00" font-size="8.60" fill="#231f20" stroke="#231f20" stroke-width="0.19" textLength="55.80" lengthAdjust="spacingAndGlyphs">Fold enrichment</text>
<line x1="30" y1="318.8" x2="215.5" y2="318.8" stroke="#231f20" stroke-width="1.1"/>
<text x="29.80" y="314.60" font-size="6.60" fill="#231f20" stroke="#231f20" stroke-width="0.08" text-anchor="middle">-20</text>
<text x="53.00" y="314.60" font-size="6.60" fill="#231f20" stroke="#231f20" stroke-width="0.08" text-anchor="middle">-15</text>
<text x="76.20" y="314.60" font-size="6.60" fill="#231f20" stroke="#231f20" stroke-width="0.08" text-anchor="middle">-10</text>
<text x="99.40" y="314.60" font-size="6.60" fill="#231f20" stroke="#231f20" stroke-width="0.08" text-anchor="middle">-5</text>
<text x="122.60" y="314.60" font-size="6.60" fill="#231f20" stroke="#231f20" stroke-width="0.08" text-anchor="middle">0</text>
<text x="145.80" y="314.60" font-size="6.60" fill="#231f20" stroke="#231f20" stroke-width="0.08" text-anchor="middle">5</text>
<text x="169.00" y="314.60" font-size="6.60" fill="#231f20" stroke="#231f20" stroke-width="0.08" text-anchor="middle">10</text>
<text x="192.20" y="314.60" font-size="6.60" fill="#231f20" stroke="#231f20" stroke-width="0.08" text-anchor="middle">15</text>
<text x="215.40" y="314.60" font-size="6.60" fill="#231f20" stroke="#231f20" stroke-width="0.08" text-anchor="middle">20</text>
<rect x="122.60" y="321.50" width="89.09" height="3" fill="#c7336d"/>
<line x1="121.00" y1="323.00" x2="124.20" y2="323.00" stroke="#231f20" stroke-width="0.7"/>
<text x="220.00" y="325.20" font-size="7.60" fill="#c7336d" stroke="#c7336d" stroke-width="0.09" textLength="57.50" lengthAdjust="spacingAndGlyphs">CXC Chemokines</text>
<rect x="122.60" y="330.19" width="15.31" height="3" fill="#c7336d"/>
<line x1="121.00" y1="331.69" x2="124.20" y2="331.69" stroke="#231f20" stroke-width="0.7"/>
<text x="220.00" y="333.89" font-size="7.60" fill="#c7336d" stroke="#c7336d" stroke-width="0.09" textLength="98.75" lengthAdjust="spacingAndGlyphs">Chemokine signaling pathway</text>
<rect x="49.75" y="338.88" width="72.85" height="3" fill="#3c7fc6"/>
<line x1="121.00" y1="340.38" x2="124.20" y2="340.38" stroke="#231f20" stroke-width="0.7"/>
<text x="220.00" y="342.58" font-size="7.60" fill="#3c7fc6" stroke="#3c7fc6" stroke-width="0.09" textLength="208.75" lengthAdjust="spacingAndGlyphs">SRP-dependent co-translational protein targeting to membrane</text>
<rect x="62.74" y="347.57" width="59.86" height="3" fill="#3c7fc6"/>
<line x1="121.00" y1="349.07" x2="124.20" y2="349.07" stroke="#231f20" stroke-width="0.7"/>
<text x="220.00" y="351.27" font-size="7.60" fill="#3c7fc6" stroke="#3c7fc6" stroke-width="0.09" textLength="71.75" lengthAdjust="spacingAndGlyphs">Translational initiation</text>
<rect x="64.60" y="356.26" width="58.00" height="3" fill="#3c7fc6"/>
<line x1="121.00" y1="357.76" x2="124.20" y2="357.76" stroke="#231f20" stroke-width="0.7"/>
<text x="220.00" y="359.96" font-size="7.60" fill="#3c7fc6" stroke="#3c7fc6" stroke-width="0.09" textLength="170.50" lengthAdjust="spacingAndGlyphs">mRNA catabolic process, nonsense-mediated decay</text>
<rect x="74.34" y="364.95" width="48.26" height="3" fill="#3c7fc6"/>
<line x1="121.00" y1="366.45" x2="124.20" y2="366.45" stroke="#231f20" stroke-width="0.7"/>
<text x="220.00" y="368.65" font-size="7.60" fill="#3c7fc6" stroke="#3c7fc6" stroke-width="0.09" textLength="60.00" lengthAdjust="spacingAndGlyphs">Ribosomal protein</text>
<rect x="85.94" y="373.64" width="36.66" height="3" fill="#3c7fc6"/>
<line x1="121.00" y1="375.14" x2="124.20" y2="375.14" stroke="#231f20" stroke-width="0.7"/>
<text x="220.00" y="377.34" font-size="7.60" fill="#3c7fc6" stroke="#3c7fc6" stroke-width="0.09" textLength="55.50" lengthAdjust="spacingAndGlyphs">rRNA processing</text>
<rect x="95.69" y="382.33" width="26.91" height="3" fill="#3c7fc6"/>
<line x1="121.00" y1="383.83" x2="124.20" y2="383.83" stroke="#231f20" stroke-width="0.7"/>
<text x="220.00" y="386.03" font-size="7.60" fill="#3c7fc6" stroke="#3c7fc6" stroke-width="0.09" textLength="65.75" lengthAdjust="spacingAndGlyphs">Protein biosynthesis</text>
<rect x="101.26" y="391.02" width="21.34" height="3" fill="#3c7fc6"/>
<line x1="121.00" y1="392.52" x2="124.20" y2="392.52" stroke="#231f20" stroke-width="0.7"/>
<text x="220.00" y="394.72" font-size="7.60" fill="#3c7fc6" stroke="#3c7fc6" stroke-width="0.09" textLength="117.00" lengthAdjust="spacingAndGlyphs">Oxidative phosphorylation pathway</text>
<rect x="106.82" y="399.71" width="15.78" height="3" fill="#3c7fc6"/>
<line x1="121.00" y1="401.21" x2="124.20" y2="401.21" stroke="#231f20" stroke-width="0.7"/>
<text x="220.00" y="403.41" font-size="7.60" fill="#3c7fc6" stroke="#3c7fc6" stroke-width="0.09" textLength="42.50" lengthAdjust="spacingAndGlyphs">RNA binding</text>
<line x1="122.60" y1="318.8" x2="122.60" y2="405" stroke="#231f20" stroke-width="1.1"/>
<text x="8.00" y="434.00" font-size="13.20" fill="#000" font-weight="bold">D</text>
<text x="25.00" y="452.50" font-size="9.20" fill="#231f20" stroke="#231f20" stroke-width="0.20" textLength="19.50" lengthAdjust="spacingAndGlyphs">PCA</text>
<defs><radialGradient id="gg" cx="0.5" cy="0.5" r="0.5"><stop offset="0" stop-color="#c6dcbb"/><stop offset="0.75" stop-color="#bad3af"/><stop offset="1" stop-color="#9fb995"/></radialGradient><radialGradient id="gk" cx="0.5" cy="0.5" r="0.5"><stop offset="0" stop-color="#c8c8c8"/><stop offset="0.7" stop-color="#bababa"/><stop offset="1" stop-color="#9a9a9a"/></radialGradient><radialGradient id="gp" cx="0.5" cy="0.35" r="0.6"><stop offset="0" stop-color="#df90a6"/><stop offset="0.8" stop-color="#d07f95"/><stop offset="1" stop-color="#b8728a"/></radialGradient></defs>
<ellipse cx="116.8" cy="498" rx="14.5" ry="39.5" transform="rotate(28 116.8 498)" fill="url(#gg)"/>
<ellipse cx="107" cy="519" rx="9" ry="16" transform="rotate(35 107 519)" fill="#b3bfcc" opacity="0.8"/>
<ellipse cx="133.5" cy="527.5" rx="48.5" ry="14.5" transform="rotate(-5.7 133.5 527.5)" fill="url(#gk)" opacity="0.92"/>
<ellipse cx="143" cy="519" rx="29" ry="13" transform="rotate(-17 143 519)" fill="url(#gp)" opacity="0.72"/>
<line x1="58.7" y1="460.0" x2="180.8" y2="458.5" stroke="#111" stroke-width="1.25" stroke-linecap="round"/>
<line x1="58.7" y1="460.0" x2="106.7" y2="462.5" stroke="#111" stroke-width="1.25" stroke-linecap="round"/>
<line x1="106.7" y1="462.5" x2="211.4" y2="460.6" stroke="#111" stroke-width="1.25" stroke-linecap="round"/>
<line x1="180.8" y1="458.5" x2="211.4" y2="460.6" stroke="#111" stroke-width="1.25" stroke-linecap="round"/>
<line x1="58.7" y1="460.0" x2="59.8" y2="550.8" stroke="#111" stroke-width="1.25" stroke-linecap="round"/>
<line x1="180.8" y1="458.5" x2="180.8" y2="566.3" stroke="#111" stroke-width="1.25" stroke-linecap="round"/>
<line x1="211.4" y1="460.6" x2="211.4" y2="548.4" stroke="#111" stroke-width="1.25" stroke-linecap="round"/>
<line x1="106.7" y1="462.5" x2="108.3" y2="537.3" stroke="#111" stroke-width="1.25" stroke-linecap="round"/>
<line x1="59.8" y1="550.8" x2="180.8" y2="566.3" stroke="#111" stroke-width="1.25" stroke-linecap="round"/>
<line x1="59.8" y1="550.8" x2="108.3" y2="537.3" stroke="#111" stroke-width="1.25" stroke-linecap="round"/>
<line x1="108.3" y1="537.3" x2="211.4" y2="548.4" stroke="#111" stroke-width="1.25" stroke-linecap="round"/>
<line x1="180.8" y1="566.3" x2="211.4" y2="548.4" stroke="#111" stroke-width="1.25" stroke-linecap="round"/>
<line x1="64.4" y1="551.4" x2="63.4" y2="553.3" stroke="#111" stroke-width="0.9"/>
<line x1="81.9" y1="553.6" x2="80.9" y2="555.5" stroke="#111" stroke-width="0.9"/>
<line x1="98.7" y1="555.8" x2="97.7" y2="557.7" stroke="#111" stroke-width="0.9"/>
<line x1="117.2" y1="558.2" x2="116.2" y2="560.1" stroke="#111" stroke-width="0.9"/>
<line x1="136.0" y1="560.6" x2="135.0" y2="562.5" stroke="#111" stroke-width="0.9"/>
<line x1="155.0" y1="563.0" x2="154.0" y2="564.9" stroke="#111" stroke-width="0.9"/>
<line x1="189.4" y1="561.3" x2="191.0" y2="562.5" stroke="#111" stroke-width="0.9"/>
<line x1="196.9" y1="556.9" x2="198.5" y2="558.1" stroke="#111" stroke-width="0.9"/>
<line x1="203.8" y1="552.8" x2="205.4" y2="554.0" stroke="#111" stroke-width="0.9"/>
<line x1="209.6" y1="549.5" x2="211.2" y2="550.7" stroke="#111" stroke-width="0.9"/>
<circle cx="126.9" cy="471.8" r="3.8" fill="#5aa63c"/>
<circle cx="128.7" cy="476.4" r="3.8" fill="#5aa63c"/>
<circle cx="121.2" cy="477.0" r="3.8" fill="#5aa63c"/>
<circle cx="120.6" cy="481.0" r="3.8" fill="#5aa63c"/>
<circle cx="118.3" cy="484.5" r="3.8" fill="#5aa63c"/>
<circle cx="121.2" cy="485.0" r="3.8" fill="#5aa63c"/>
<circle cx="118.8" cy="490.3" r="3.8" fill="#5aa63c"/>
<circle cx="122.9" cy="489.7" r="3.8" fill="#5aa63c"/>
<circle cx="124.6" cy="494.3" r="3.8" fill="#5aa63c"/>
<circle cx="127.5" cy="496.6" r="3.8" fill="#5aa63c"/>
<circle cx="103.8" cy="493.2" r="3.8" fill="#5aa63c"/>
<circle cx="108.5" cy="500.7" r="3.8" fill="#5aa63c"/>
<circle cx="117.7" cy="503.5" r="3.8" fill="#5aa63c"/>
<circle cx="106.9" cy="526.5" r="3.8" fill="#5c5c5c"/>
<circle cx="117.3" cy="524.8" r="3.8" fill="#5c5c5c"/>
<circle cx="117.9" cy="531.7" r="3.8" fill="#5c5c5c"/>
<circle cx="112.7" cy="536.3" r="3.8" fill="#5c5c5c"/>
<circle cx="141.5" cy="534.6" r="3.8" fill="#5c5c5c"/>
<circle cx="146.2" cy="518.1" r="3.8" fill="#5c5c5c"/>
<circle cx="148.8" cy="521.9" r="3.8" fill="#5c5c5c"/>
<circle cx="150.0" cy="532.5" r="3.8" fill="#5c5c5c"/>
<circle cx="141.2" cy="535.0" r="3.8" fill="#5c5c5c"/>
<circle cx="153.1" cy="508.8" r="3.8" fill="#d8381c"/>
<circle cx="152.8" cy="516.9" r="3.8" fill="#d8381c"/>
<circle cx="128.8" cy="521.9" r="3.8" fill="#d8381c"/>
<circle cx="133.8" cy="530.0" r="3.8" fill="#d8381c"/>
<circle cx="143.8" cy="523.8" r="3.8" fill="#d8381c"/>
<circle cx="150.6" cy="527.5" r="3.8" fill="#d8381c"/>
<circle cx="116.2" cy="504.6" r="3.8" fill="#2e2a8a"/>
<circle cx="117.9" cy="511.0" r="3.8" fill="#2e2a8a"/>
<circle cx="102.9" cy="512.1" r="3.8" fill="#2e2a8a"/>
<circle cx="108.7" cy="511.5" r="3.8" fill="#2e2a8a"/>
<circle cx="105.2" cy="516.2" r="3.8" fill="#2e2a8a"/>
<circle cx="109.2" cy="517.3" r="3.8" fill="#2e2a8a"/>
<circle cx="100.0" cy="521.3" r="3.8" fill="#2e2a8a"/>
<circle cx="104.0" cy="520.8" r="3.8" fill="#2e2a8a"/>
<circle cx="97.7" cy="527.7" r="3.8" fill="#2e2a8a"/>
<circle cx="101.7" cy="528.3" r="3.8" fill="#2e2a8a"/>
<circle cx="98.8" cy="524.8" r="3.8" fill="#2e2a8a"/>
<line x1="55.5" y1="486.3" x2="58.7" y2="486.3" stroke="#1a1a1a" stroke-width="0.8"/>
<text x="52.20" y="488.90" font-size="7.40" fill="#231f20" stroke="#231f20" stroke-width="0.09" text-anchor="end">50</text>
<line x1="55.5" y1="513.5" x2="58.7" y2="513.5" stroke="#1a1a1a" stroke-width="0.8"/>
<text x="52.20" y="516.10" font-size="7.40" fill="#231f20" stroke="#231f20" stroke-width="0.09" text-anchor="end">0</text>
<line x1="55.5" y1="540.9" x2="58.7" y2="540.9" stroke="#1a1a1a" stroke-width="0.8"/>
<text x="52.20" y="543.50" font-size="7.40" fill="#231f20" stroke="#231f20" stroke-width="0.09" text-anchor="end">-50</text>
<text x="25.00" y="516.40" font-size="9.40" fill="#231f20" stroke="#231f20" stroke-width="0.21" textLength="13.30" lengthAdjust="spacingAndGlyphs">PC2</text>
<text x="57.30" y="563.30" font-size="7.20" fill="#231f20" stroke="#231f20" stroke-width="0.09" text-anchor="middle">-100</text>
<text x="75.60" y="566.00" font-size="7.20" fill="#231f20" stroke="#231f20" stroke-width="0.09" text-anchor="middle">-50</text>
<text x="97.70" y="568.50" font-size="7.20" fill="#231f20" stroke="#231f20" stroke-width="0.09" text-anchor="middle">0</text>
<text x="116.50" y="571.00" font-size="7.20" fill="#231f20" stroke="#231f20" stroke-width="0.09" text-anchor="middle">50</text>
<text x="137.40" y="573.50" font-size="7.20" fill="#231f20" stroke="#231f20" stroke-width="0.09" text-anchor="middle">100</text>
<text x="157.50" y="576.50" font-size="7.20" fill="#231f20" stroke="#231f20" stroke-width="0.09" text-anchor="middle">150</text>
<text x="101.00" y="584.80" font-size="9.40" fill="#231f20" stroke="#231f20" stroke-width="0.21" textLength="13.00" lengthAdjust="spacingAndGlyphs">PC1</text>
<text x="223.00" y="555.00" font-size="7.20" fill="#231f20" stroke="#231f20" stroke-width="0.09" text-anchor="middle">-100</text>
<text x="214.60" y="560.00" font-size="7.20" fill="#231f20" stroke="#231f20" stroke-width="0.09" text-anchor="middle">-50</text>
<text x="204.00" y="564.00" font-size="7.20" fill="#231f20" stroke="#231f20" stroke-width="0.09" text-anchor="middle">0</text>
<text x="197.70" y="568.50" font-size="7.20" fill="#231f20" stroke="#231f20" stroke-width="0.09" text-anchor="middle">50</text>
<text x="210.00" y="572.70" font-size="9.40" fill="#231f20" stroke="#231f20" stroke-width="0.21" textLength="13.00" lengthAdjust="spacingAndGlyphs">PC3</text>
<text x="61.25" y="603.80" font-size="6.60" fill="#231f20" stroke="#231f20" stroke-width="0.08" textLength="43.20" lengthAdjust="spacingAndGlyphs">KEY (Fig. 5D)</text>
<circle cx="63.75" cy="612.00" r="2.6" fill="#5aa63c"/>
<text x="70.00" y="614.20" font-size="6.40" fill="#231f20" stroke="#231f20" stroke-width="0.08" textLength="70.50" lengthAdjust="spacingAndGlyphs">Spontaneously regressing</text>
<circle cx="63.75" cy="620.67" r="2.6" fill="#2e2a8a"/>
<text x="70.00" y="622.87" font-size="6.40" fill="#231f20" stroke="#231f20" stroke-width="0.08" textLength="37.00" lengthAdjust="spacingAndGlyphs">Indolent M-CLL</text>
<circle cx="63.75" cy="629.34" r="2.6" fill="#d8381c"/>
<text x="70.00" y="631.54" font-size="6.40" fill="#231f20" stroke="#231f20" stroke-width="0.08" textLength="51.20" lengthAdjust="spacingAndGlyphs">Progressive M-CLL</text>
<circle cx="63.75" cy="638.01" r="2.6" fill="#5c5c5c"/>
<text x="70.00" y="640.21" font-size="6.40" fill="#231f20" stroke="#231f20" stroke-width="0.08" textLength="23.00" lengthAdjust="spacingAndGlyphs">UM-CLL</text>
<text x="247.50" y="433.80" font-size="13.20" fill="#000" font-weight="bold">E</text>
<text x="262.50" y="431.00" font-size="9.60" fill="#231f20" stroke="#231f20" stroke-width="0.21" textLength="58.50" lengthAdjust="spacingAndGlyphs">Unsupervised</text>
<text x="262.50" y="442.70" font-size="9.60" fill="#231f20" stroke="#231f20" stroke-width="0.21">Hierarchical</text>
<text x="262.50" y="454.40" font-size="9.60" fill="#231f20" stroke="#231f20" stroke-width="0.21">clustering</text>
<text x="357.30" y="429.10" font-size="6.60" fill="#231f20" stroke="#231f20" stroke-width="0.08" textLength="41.70" lengthAdjust="spacingAndGlyphs">KEY (Fig. 5E)</text>
<rect x="357" y="436.80" width="21.8" height="3" fill="#f5e51c"/>
<text x="382.50" y="440.30" font-size="6.40" fill="#231f20" stroke="#231f20" stroke-width="0.08" textLength="58.00" lengthAdjust="spacingAndGlyphs">Healthy donor B cells</text>
<rect x="357" y="444.90" width="21.8" height="3" fill="#5aa63c"/>
<text x="382.50" y="448.40" font-size="6.40" fill="#231f20" stroke="#231f20" stroke-width="0.08" textLength="70.20" lengthAdjust="spacingAndGlyphs">Spontaneously regressing</text>
<rect x="357" y="453.00" width="21.8" height="3" fill="#8a238e"/>
<text x="382.50" y="456.50" font-size="6.40" fill="#231f20" stroke="#231f20" stroke-width="0.08" textLength="107.70" lengthAdjust="spacingAndGlyphs">Relapsing after spontaneous regression</text>
<rect x="357" y="461.10" width="21.8" height="3" fill="#2e2a8a"/>
<text x="382.50" y="464.60" font-size="6.40" fill="#231f20" stroke="#231f20" stroke-width="0.08" textLength="42.00" lengthAdjust="spacingAndGlyphs">Indolent M-CLL</text>
<rect x="357" y="469.20" width="21.8" height="3" fill="#d8381c"/>
<text x="382.50" y="472.70" font-size="6.40" fill="#231f20" stroke="#231f20" stroke-width="0.08" textLength="50.80" lengthAdjust="spacingAndGlyphs">Progressive M-CLL</text>
<rect x="357" y="477.30" width="21.8" height="3" fill="#5c5c5c"/>
<text x="382.50" y="480.80" font-size="6.40" fill="#231f20" stroke="#231f20" stroke-width="0.08" textLength="22.00" lengthAdjust="spacingAndGlyphs">UM-CLL</text>
<rect x="262.00" y="517.2" width="15.05" height="9.2" fill="#f5e51c"/>
<rect x="277.00" y="517.2" width="5.05" height="9.2" fill="#d8381c"/>
<rect x="282.00" y="517.2" width="5.05" height="9.2" fill="#5c5c5c"/>
<rect x="287.00" y="517.2" width="5.55" height="9.2" fill="#d8381c"/>
<rect x="292.50" y="517.2" width="5.05" height="9.2" fill="#2e2a8a"/>
<rect x="297.50" y="517.2" width="5.05" height="9.2" fill="#5c5c5c"/>
<rect x="302.50" y="517.2" width="5.05" height="9.2" fill="#d8381c"/>
<rect x="307.50" y="517.2" width="4.55" height="9.2" fill="#5c5c5c"/>
<rect x="312.00" y="517.2" width="5.55" height="9.2" fill="#d8381c"/>
<rect x="317.50" y="517.2" width="10.05" height="9.2" fill="#5c5c5c"/>
<rect x="327.50" y="517.2" width="10.05" height="9.2" fill="#d8381c"/>
<rect x="337.50" y="517.2" width="10.05" height="9.2" fill="#5c5c5c"/>
<rect x="347.50" y="517.2" width="9.55" height="9.2" fill="#5aa63c"/>
<rect x="357.00" y="517.2" width="5.05" height="9.2" fill="#2e2a8a"/>
<rect x="362.00" y="517.2" width="5.05" height="9.2" fill="#d8381c"/>
<rect x="367.00" y="517.2" width="5.05" height="9.2" fill="#8a238e"/>
<rect x="372.00" y="517.2" width="5.35" height="9.2" fill="#d8381c"/>
<rect x="377.30" y="517.2" width="15.05" height="9.2" fill="#2e2a8a"/>
<rect x="392.30" y="517.2" width="5.05" height="9.2" fill="#5aa63c"/>
<rect x="397.30" y="517.2" width="9.25" height="9.2" fill="#5c5c5c"/>
<rect x="406.50" y="517.2" width="5.35" height="9.2" fill="#2e2a8a"/>
<rect x="411.80" y="517.2" width="10.05" height="9.2" fill="#5aa63c"/>
<rect x="421.80" y="517.2" width="40.25" height="9.2" fill="#2e2a8a"/>
<rect x="462.00" y="517.2" width="24.65" height="9.2" fill="#5aa63c"/>
<rect x="486.60" y="517.2" width="4.95" height="9.2" fill="#2e2a8a"/>
<rect x="491.50" y="517.2" width="10.05" height="9.2" fill="#5aa63c"/>
<rect x="501.50" y="517.2" width="5.15" height="9.2" fill="#2e2a8a"/>
<rect x="506.60" y="517.2" width="5.25" height="9.2" fill="#5aa63c"/>
<path fill="none" stroke="#999" stroke-width="1.15" d="M269.5 517.2V513.4M274.5 517.2V513.4M269.5 513.4H274.5M264.5 517.2V511.2M272.0 513.4V511.2M264.5 511.2H272.0M289.5 517.2V508.3M294.5 517.2V508.3M289.5 508.3H294.5M284.5 517.2V498.7M292.0 508.3V498.7M284.5 498.7H292.0M279.5 517.2V493.7M288.2 498.7V493.7M279.5 493.7H288.2M309.5 517.2V512.7M314.5 517.2V512.7M309.5 512.7H314.5M304.5 517.2V508.9M312.0 512.7V508.9M304.5 508.9H312.0M299.5 517.2V505.2M308.2 508.9V505.2M299.5 505.2H308.2M319.5 517.2V513.2M324.5 517.2V513.2M319.5 513.2H324.5M329.5 517.2V512.3M334.5 517.2V512.3M329.5 512.3H334.5M322.0 513.2V511.0M332.0 512.3V511.0M322.0 511.0H332.0M339.5 517.2V511.7M344.5 517.2V511.7M339.5 511.7H344.5M327.0 511.0V504.2M342.0 511.7V504.2M327.0 504.2H342.0M303.9 505.2V501.2M334.5 504.2V501.2M303.9 501.2H334.5M349.5 517.2V512.5M354.5 517.2V512.5M349.5 512.5H354.5M369.5 517.2V514.0M374.5 517.2V514.0M369.5 514.0H374.5M364.5 517.2V513.1M372.0 514.0V513.1M364.5 513.1H372.0M359.5 517.2V512.2M368.2 513.1V512.2M359.5 512.2H368.2M352.0 512.5V509.8M363.9 512.2V509.8M352.0 509.8H363.9M379.5 517.2V512.3M384.5 517.2V512.3M379.5 512.3H384.5M382.0 512.3V511.8M389.5 517.2V511.8M382.0 511.8H389.5M357.9 509.8V507.0M385.8 511.8V507.0M357.9 507.0H385.8M399.5 517.2V513.5M404.5 517.2V513.5M399.5 513.5H404.5M402.0 513.5V510.7M409.5 517.2V510.7M402.0 510.7H409.5M394.5 517.2V507.3M405.8 510.7V507.3M394.5 507.3H405.8M371.8 507.0V500.7M400.1 507.3V500.7M371.8 500.7H400.1M414.5 517.2V513.4M419.5 517.2V513.4M414.5 513.4H419.5M417.0 513.4V512.5M424.5 517.2V512.5M417.0 512.5H424.5M429.5 517.2V514.2M434.5 517.2V514.2M429.5 514.2H434.5M432.0 514.2V513.4M439.5 517.2V513.4M432.0 513.4H439.5M420.8 512.5V512.3M435.8 513.4V512.3M420.8 512.3H435.8M449.5 517.2V513.4M454.5 517.2V513.4M449.5 513.4H454.5M444.5 517.2V513.2M452.0 513.4V513.2M444.5 513.2H452.0M459.5 517.2V512.8M464.5 517.2V512.8M459.5 512.8H464.5M448.2 513.2V511.9M462.0 512.8V511.9M448.2 511.9H462.0M428.2 512.3V509.3M455.1 511.9V509.3M428.2 509.3H455.1M474.5 517.2V514.3M479.5 517.2V514.3M474.5 514.3H479.5M469.5 517.2V513.6M477.0 514.3V513.6M469.5 513.6H477.0M484.5 517.2V513.3M489.5 517.2V513.3M484.5 513.3H489.5M487.0 513.3V513.2M494.5 517.2V513.2M487.0 513.2H494.5M473.2 513.6V510.8M490.8 513.2V510.8M473.2 510.8H490.8M504.5 517.2V513.4M509.5 517.2V513.4M504.5 513.4H509.5M499.5 517.2V510.2M507.0 513.4V510.2M499.5 510.2H507.0M482.0 510.8V505.8M503.2 510.2V505.8M482.0 505.8H503.2M441.7 509.3V501.7M492.6 505.8V501.7M441.7 501.7H492.6M386.0 500.7V496.7M467.2 501.7V496.7M386.0 496.7H467.2M319.2 501.2V493.0M426.6 496.7V493.0M319.2 493.0H426.6M283.9 493.7V483.2M372.9 493.0V483.2M283.9 483.2H372.9M268.2 511.2V459.5M328.4 483.2V459.5M268.2 459.5H328.4"/>
<g shape-rendering="crispEdges" transform="translate(262.000 528.700) scale(5.00000 1.49214)">
<path fill="#a4c9e4" d="M15 94h1v1h-1z"/>
<path fill="#afd0e7" d="M34 107h1v1h-1zM14 120h1v1h-1z"/>
<path fill="#b9d6ea" d="M30 61h1v1h-1zM31 66h1v1h-1zM32 68h1v1h-1zM15 93h1v1h-1zM18 109h1v1h-1z"/>
<path fill="#c3dced" d="M34 45h1v1h-1zM40 61h1v1h-1zM39 67h1v1h-1zM41 76h1v1h-1zM40 105h1v1h-1zM33 111h1v1h-1zM27 122h1v1h-1zM17 125h1v1h-1z"/>
<path fill="#cde2ef" d="M38 51h1v1h-1zM38 52h1v1h-1zM25 53h2v1h-2zM27 57h1v1h-1zM35 57h1v1h-1zM38 58h1v1h-1zM25 60h1v1h-1zM27 64h1v1h-1zM41 65h1v1h-1zM30 68h1v1h-1zM37 71h1v1h-1zM41 73h1v1h-1zM32 76h1v1h-1zM23 78h1v1h-1zM14 80h1v1h-1zM31 80h1v1h-1zM39 80h1v1h-1zM3 83h1v1h-1zM22 83h1v1h-1zM4 84h1v1h-1zM20 85h1v1h-1zM34 85h1v1h-1zM36 86h2v1h-2zM20 87h1v1h-1zM37 87h1v1h-1zM7 91h1v1h-1zM7 94h1v1h-1zM29 96h1v1h-1zM27 98h1v1h-1zM28 99h1v1h-1zM23 101h1v1h-1zM25 102h1v1h-1zM34 102h1v1h-1zM3 107h1v1h-1zM18 110h1v1h-1zM16 111h1v1h-1zM34 116h1v1h-1zM38 116h1v1h-1zM4 117h1v1h-1zM15 118h1v1h-1zM31 120h1v1h-1zM5 123h1v1h-1zM28 124h1v1h-1zM41 124h1v1h-1zM31 125h1v1h-1zM13 126h1v1h-1zM6 127h1v1h-1zM3 136h1v1h-1zM4 137h1v1h-1zM11 139h1v1h-1z"/>
<path fill="#d7e8f2" d="M0 0h1v1h-1zM2 0h1v1h-1zM0 1h1v1h-1zM36 2h1v1h-1zM0 3h2v1h-2zM12 3h1v1h-1zM2 5h1v1h-1zM2 6h1v1h-1zM0 7h3v1h-3zM1 8h2v1h-2zM0 9h3v1h-3zM1 10h2v1h-2zM2 11h1v1h-1zM42 11h1v1h-1zM0 12h3v1h-3zM0 13h3v1h-3zM0 14h3v1h-3zM7 14h1v1h-1zM0 15h2v1h-2zM1 16h2v1h-2zM0 17h1v1h-1zM2 17h1v1h-1zM0 18h3v1h-3zM21 18h1v1h-1zM0 19h1v1h-1zM2 19h1v1h-1zM1 20h2v1h-2zM0 21h1v1h-1zM1 22h1v1h-1zM0 23h3v1h-3zM1 24h2v1h-2zM0 25h1v1h-1zM2 25h1v1h-1zM2 26h1v1h-1zM1 27h2v1h-2zM1 28h2v1h-2zM0 29h3v1h-3zM1 30h1v1h-1zM0 31h2v1h-2zM2 32h1v1h-1zM1 33h1v1h-1zM0 34h3v1h-3zM2 36h1v1h-1zM0 37h1v1h-1zM48 37h1v1h-1zM0 38h2v1h-2zM0 39h2v1h-2zM1 40h2v1h-2zM0 41h3v1h-3zM1 42h1v1h-1zM2 43h1v1h-1zM2 44h1v1h-1zM25 48h1v1h-1zM32 48h1v1h-1zM22 49h1v1h-1zM37 49h1v1h-1zM41 49h1v1h-1zM16 50h1v1h-1zM34 50h1v1h-1zM25 51h1v1h-1zM35 51h1v1h-1zM25 52h1v1h-1zM33 53h1v1h-1zM25 54h1v1h-1zM27 54h1v1h-1zM4 57h1v1h-1zM18 57h1v1h-1zM25 58h1v1h-1zM29 58h1v1h-1zM35 58h1v1h-1zM40 59h1v1h-1zM38 60h1v1h-1zM35 63h1v1h-1zM35 64h1v1h-1zM43 65h1v1h-1zM46 65h1v1h-1zM14 66h1v1h-1zM29 67h2v1h-2zM40 67h1v1h-1zM27 68h1v1h-1zM31 68h1v1h-1zM40 70h1v1h-1zM29 71h1v1h-1zM31 71h1v1h-1zM38 71h1v1h-1zM41 71h1v1h-1zM6 72h1v1h-1zM37 72h1v1h-1zM26 74h1v1h-1zM29 74h1v1h-1zM39 74h1v1h-1zM19 75h1v1h-1zM21 75h1v1h-1zM26 75h1v1h-1zM35 76h1v1h-1zM39 77h1v1h-1zM6 78h1v1h-1zM19 78h1v1h-1zM27 78h1v1h-1zM31 78h1v1h-1zM3 79h1v1h-1zM26 79h1v1h-1zM32 79h1v1h-1zM34 79h2v1h-2zM7 80h1v1h-1zM32 80h1v1h-1zM14 81h1v1h-1zM22 81h1v1h-1zM31 81h1v1h-1zM4 82h1v1h-1zM31 82h2v1h-2zM25 83h1v1h-1zM23 84h1v1h-1zM31 84h1v1h-1zM26 86h1v1h-1zM29 86h1v1h-1zM35 86h1v1h-1zM38 86h2v1h-2zM14 88h1v1h-1zM18 88h1v1h-1zM29 88h1v1h-1zM38 88h1v1h-1zM5 89h1v1h-1zM18 89h1v1h-1zM35 89h1v1h-1zM38 89h1v1h-1zM40 89h1v1h-1zM30 90h2v1h-2zM36 90h1v1h-1zM35 91h1v1h-1zM14 92h1v1h-1zM22 92h1v1h-1zM35 92h1v1h-1zM39 92h1v1h-1zM40 93h1v1h-1zM3 95h1v1h-1zM19 95h1v1h-1zM21 95h1v1h-1zM39 95h1v1h-1zM13 96h2v1h-2zM31 96h1v1h-1zM37 97h2v1h-2zM36 99h1v1h-1zM34 100h1v1h-1zM41 100h1v1h-1zM16 101h1v1h-1zM35 101h1v1h-1zM38 101h1v1h-1zM49 101h1v1h-1zM3 102h1v1h-1zM22 102h1v1h-1zM32 102h1v1h-1zM16 104h1v1h-1zM24 104h1v1h-1zM5 105h1v1h-1zM17 106h1v1h-1zM27 106h1v1h-1zM29 106h1v1h-1zM6 107h1v1h-1zM29 107h1v1h-1zM36 107h1v1h-1zM20 109h1v1h-1zM8 110h1v1h-1zM39 110h2v1h-2zM4 111h1v1h-1zM8 111h1v1h-1zM35 112h1v1h-1zM39 112h1v1h-1zM3 113h1v1h-1zM17 113h1v1h-1zM28 113h1v1h-1zM30 113h1v1h-1zM38 113h1v1h-1zM20 114h1v1h-1zM37 114h1v1h-1zM11 115h1v1h-1zM25 116h1v1h-1zM33 116h1v1h-1zM31 117h1v1h-1zM16 118h1v1h-1zM19 118h1v1h-1zM27 118h2v1h-2zM9 119h1v1h-1zM30 119h1v1h-1zM33 119h1v1h-1zM7 120h1v1h-1zM17 120h1v1h-1zM19 121h1v1h-1zM24 121h1v1h-1zM33 121h2v1h-2zM38 121h2v1h-2zM40 122h1v1h-1zM8 123h1v1h-1zM22 123h1v1h-1zM30 123h1v1h-1zM12 124h1v1h-1zM10 125h1v1h-1zM25 126h1v1h-1zM17 127h1v1h-1zM3 132h1v1h-1zM10 132h1v1h-1zM12 132h1v1h-1zM6 133h1v1h-1zM9 133h1v1h-1zM4 135h1v1h-1zM7 135h2v1h-2zM13 135h1v1h-1zM3 138h1v1h-1zM48 138h1v1h-1z"/>
<path fill="#dfecf0" d="M1 0h1v1h-1zM26 0h1v1h-1zM1 1h2v1h-2zM0 2h3v1h-3zM48 2h1v1h-1zM2 3h1v1h-1zM0 4h3v1h-3zM48 4h1v1h-1zM0 5h2v1h-2zM0 6h2v1h-2zM0 8h1v1h-1zM48 8h1v1h-1zM0 10h1v1h-1zM0 11h2v1h-2zM33 12h1v1h-1zM7 13h1v1h-1zM2 15h1v1h-1zM0 16h1v1h-1zM1 17h1v1h-1zM22 18h1v1h-1zM40 18h1v1h-1zM1 19h1v1h-1zM21 19h1v1h-1zM0 20h1v1h-1zM1 21h2v1h-2zM0 22h1v1h-1zM2 22h1v1h-1zM0 24h1v1h-1zM46 24h1v1h-1zM1 25h1v1h-1zM0 26h2v1h-2zM28 26h1v1h-1zM0 27h1v1h-1zM0 28h1v1h-1zM0 30h1v1h-1zM2 30h1v1h-1zM2 31h1v1h-1zM0 32h2v1h-2zM0 33h1v1h-1zM2 33h1v1h-1zM0 35h3v1h-3zM0 36h2v1h-2zM4 36h1v1h-1zM33 36h1v1h-1zM1 37h2v1h-2zM2 38h1v1h-1zM7 38h1v1h-1zM2 39h1v1h-1zM0 40h1v1h-1zM0 42h1v1h-1zM2 42h1v1h-1zM4 42h1v1h-1zM0 43h2v1h-2zM0 44h2v1h-2zM25 47h1v1h-1zM35 48h1v1h-1zM37 48h1v1h-1zM40 48h1v1h-1zM34 49h1v1h-1zM38 49h1v1h-1zM40 50h2v1h-2zM6 51h1v1h-1zM33 51h1v1h-1zM26 52h1v1h-1zM32 52h1v1h-1zM35 52h1v1h-1zM37 52h1v1h-1zM29 53h1v1h-1zM32 53h1v1h-1zM34 53h1v1h-1zM30 54h1v1h-1zM33 54h2v1h-2zM27 55h1v1h-1zM41 55h1v1h-1zM28 56h1v1h-1zM32 58h1v1h-1zM29 59h1v1h-1zM32 59h1v1h-1zM34 59h1v1h-1zM19 60h1v1h-1zM32 60h1v1h-1zM37 60h1v1h-1zM39 60h1v1h-1zM25 61h1v1h-1zM28 61h2v1h-2zM32 61h1v1h-1zM29 62h1v1h-1zM36 62h1v1h-1zM33 64h2v1h-2zM37 64h1v1h-1zM4 65h1v1h-1zM30 65h1v1h-1zM34 65h1v1h-1zM47 65h1v1h-1zM25 66h1v1h-1zM37 66h1v1h-1zM6 67h1v1h-1zM38 67h1v1h-1zM5 68h1v1h-1zM6 69h2v1h-2zM28 69h1v1h-1zM41 69h1v1h-1zM5 70h1v1h-1zM30 70h1v1h-1zM34 70h1v1h-1zM3 71h1v1h-1zM35 71h1v1h-1zM5 72h1v1h-1zM30 72h1v1h-1zM36 72h1v1h-1zM39 72h1v1h-1zM7 73h1v1h-1zM25 73h1v1h-1zM32 74h1v1h-1zM34 74h2v1h-2zM37 74h1v1h-1zM30 75h2v1h-2zM37 75h1v1h-1zM6 76h1v1h-1zM20 76h1v1h-1zM34 76h1v1h-1zM32 77h1v1h-1zM38 77h1v1h-1zM41 77h1v1h-1zM22 78h1v1h-1zM24 78h1v1h-1zM28 78h2v1h-2zM37 78h1v1h-1zM39 78h1v1h-1zM19 79h1v1h-1zM25 79h1v1h-1zM30 79h1v1h-1zM36 79h1v1h-1zM5 80h1v1h-1zM21 80h1v1h-1zM26 80h1v1h-1zM29 80h1v1h-1zM40 80h1v1h-1zM5 81h1v1h-1zM19 81h3v1h-3zM24 81h1v1h-1zM26 81h2v1h-2zM34 81h1v1h-1zM14 82h1v1h-1zM26 82h2v1h-2zM6 83h2v1h-2zM28 83h1v1h-1zM30 83h1v1h-1zM37 83h1v1h-1zM5 84h1v1h-1zM6 85h1v1h-1zM30 85h1v1h-1zM14 86h1v1h-1zM19 86h1v1h-1zM23 86h1v1h-1zM31 86h2v1h-2zM3 87h1v1h-1zM23 87h1v1h-1zM28 87h1v1h-1zM35 87h1v1h-1zM27 88h1v1h-1zM33 88h1v1h-1zM3 89h1v1h-1zM6 89h1v1h-1zM28 89h1v1h-1zM30 89h1v1h-1zM36 89h1v1h-1zM5 90h1v1h-1zM7 90h1v1h-1zM25 90h1v1h-1zM35 90h1v1h-1zM37 90h1v1h-1zM40 90h2v1h-2zM3 91h2v1h-2zM15 91h2v1h-2zM18 91h4v1h-4zM27 91h1v1h-1zM30 91h1v1h-1zM34 91h1v1h-1zM39 91h1v1h-1zM19 92h1v1h-1zM25 92h1v1h-1zM30 92h1v1h-1zM32 92h1v1h-1zM40 92h1v1h-1zM4 93h1v1h-1zM19 93h1v1h-1zM39 93h1v1h-1zM25 94h1v1h-1zM29 94h1v1h-1zM6 95h1v1h-1zM14 95h1v1h-1zM18 95h1v1h-1zM28 95h1v1h-1zM38 95h1v1h-1zM4 96h1v1h-1zM6 96h1v1h-1zM17 96h1v1h-1zM27 96h1v1h-1zM34 96h1v1h-1zM38 96h1v1h-1zM21 97h1v1h-1zM23 97h1v1h-1zM29 97h4v1h-4zM6 98h1v1h-1zM28 98h1v1h-1zM36 98h1v1h-1zM38 98h1v1h-1zM22 99h1v1h-1zM33 99h1v1h-1zM40 99h2v1h-2zM23 100h1v1h-1zM28 100h1v1h-1zM3 101h1v1h-1zM18 101h1v1h-1zM21 101h1v1h-1zM39 101h2v1h-2zM7 102h1v1h-1zM18 102h1v1h-1zM3 103h2v1h-2zM19 103h1v1h-1zM24 103h1v1h-1zM34 103h1v1h-1zM36 103h2v1h-2zM3 104h1v1h-1zM20 104h1v1h-1zM36 104h1v1h-1zM39 104h1v1h-1zM24 105h1v1h-1zM27 105h1v1h-1zM33 105h1v1h-1zM38 105h1v1h-1zM14 106h1v1h-1zM19 106h1v1h-1zM33 106h1v1h-1zM5 107h1v1h-1zM22 107h1v1h-1zM37 107h1v1h-1zM10 108h1v1h-1zM17 108h1v1h-1zM20 108h2v1h-2zM24 108h1v1h-1zM26 108h1v1h-1zM32 108h1v1h-1zM36 108h2v1h-2zM5 109h1v1h-1zM17 109h1v1h-1zM21 109h1v1h-1zM25 109h1v1h-1zM32 109h1v1h-1zM36 109h1v1h-1zM39 109h1v1h-1zM6 110h2v1h-2zM22 110h1v1h-1zM24 110h1v1h-1zM29 110h1v1h-1zM36 110h1v1h-1zM3 111h1v1h-1zM9 111h1v1h-1zM14 111h1v1h-1zM18 111h1v1h-1zM21 111h2v1h-2zM24 111h1v1h-1zM27 111h1v1h-1zM29 111h1v1h-1zM10 112h1v1h-1zM27 112h1v1h-1zM13 113h1v1h-1zM19 113h1v1h-1zM26 113h1v1h-1zM35 113h1v1h-1zM6 114h1v1h-1zM14 114h1v1h-1zM23 114h1v1h-1zM26 114h1v1h-1zM29 114h1v1h-1zM8 115h1v1h-1zM14 115h1v1h-1zM21 115h1v1h-1zM24 115h1v1h-1zM27 115h1v1h-1zM31 115h1v1h-1zM38 115h2v1h-2zM5 116h1v1h-1zM12 116h1v1h-1zM16 116h1v1h-1zM21 116h1v1h-1zM29 116h1v1h-1zM37 116h1v1h-1zM40 116h1v1h-1zM7 117h1v1h-1zM19 117h1v1h-1zM30 117h1v1h-1zM35 117h1v1h-1zM8 118h1v1h-1zM24 118h2v1h-2zM29 118h1v1h-1zM33 118h1v1h-1zM37 118h1v1h-1zM39 118h1v1h-1zM41 118h1v1h-1zM8 119h1v1h-1zM13 119h1v1h-1zM26 119h1v1h-1zM37 119h1v1h-1zM9 120h2v1h-2zM14 121h1v1h-1zM17 121h2v1h-2zM20 121h1v1h-1zM22 121h1v1h-1zM28 121h1v1h-1zM35 121h1v1h-1zM5 122h1v1h-1zM12 122h1v1h-1zM37 122h1v1h-1zM44 122h1v1h-1zM7 123h1v1h-1zM23 123h1v1h-1zM25 123h1v1h-1zM31 123h1v1h-1zM34 123h2v1h-2zM4 124h1v1h-1zM15 124h1v1h-1zM23 124h2v1h-2zM27 124h1v1h-1zM33 124h1v1h-1zM37 124h1v1h-1zM7 125h1v1h-1zM13 125h1v1h-1zM18 125h2v1h-2zM32 125h1v1h-1zM37 125h1v1h-1zM3 126h1v1h-1zM9 126h1v1h-1zM14 126h1v1h-1zM18 126h1v1h-1zM20 126h2v1h-2zM28 126h1v1h-1zM31 126h1v1h-1zM35 126h1v1h-1zM39 126h1v1h-1zM4 127h2v1h-2zM36 127h1v1h-1zM38 127h1v1h-1zM13 129h1v1h-1zM3 130h1v1h-1zM8 130h1v1h-1zM13 130h1v1h-1zM5 131h2v1h-2zM11 132h1v1h-1zM12 133h1v1h-1zM13 134h1v1h-1zM3 135h1v1h-1zM5 135h1v1h-1zM6 136h1v1h-1zM7 137h1v1h-1zM10 137h1v1h-1zM13 137h1v1h-1zM5 138h1v1h-1zM10 138h1v1h-1zM27 138h1v1h-1zM4 139h1v1h-1zM7 139h1v1h-1zM9 139h2v1h-2z"/>
<path fill="#e8f0ed" d="M9 0h1v1h-1zM46 0h1v1h-1zM42 1h1v1h-1zM6 4h1v1h-1zM14 4h1v1h-1zM7 6h1v1h-1zM41 6h1v1h-1zM19 7h1v1h-1zM9 8h1v1h-1zM43 8h1v1h-1zM32 10h1v1h-1zM27 11h1v1h-1zM18 13h1v1h-1zM18 14h1v1h-1zM9 15h1v1h-1zM13 17h1v1h-1zM48 17h1v1h-1zM7 19h1v1h-1zM37 19h1v1h-1zM26 20h1v1h-1zM40 20h1v1h-1zM8 22h1v1h-1zM48 22h1v1h-1zM45 24h1v1h-1zM5 26h1v1h-1zM24 26h1v1h-1zM47 29h1v1h-1zM33 30h2v1h-2zM22 32h1v1h-1zM41 42h1v1h-1zM12 43h1v1h-1zM31 43h1v1h-1zM16 46h1v1h-1zM28 48h2v1h-2zM36 48h1v1h-1zM26 49h1v1h-1zM32 49h1v1h-1zM44 49h1v1h-1zM28 50h2v1h-2zM31 50h3v1h-3zM35 50h1v1h-1zM37 51h1v1h-1zM40 51h1v1h-1zM40 52h1v1h-1zM13 54h1v1h-1zM26 54h1v1h-1zM37 54h1v1h-1zM40 54h2v1h-2zM32 55h1v1h-1zM37 55h1v1h-1zM40 55h1v1h-1zM44 55h1v1h-1zM27 56h1v1h-1zM29 56h3v1h-3zM37 56h1v1h-1zM39 56h1v1h-1zM26 57h1v1h-1zM28 57h1v1h-1zM37 57h1v1h-1zM40 57h1v1h-1zM45 57h1v1h-1zM31 58h1v1h-1zM20 59h1v1h-1zM24 59h1v1h-1zM41 59h1v1h-1zM24 60h1v1h-1zM31 60h1v1h-1zM24 61h1v1h-1zM36 61h1v1h-1zM38 61h1v1h-1zM24 62h2v1h-2zM48 62h1v1h-1zM24 63h1v1h-1zM27 63h1v1h-1zM37 63h1v1h-1zM40 63h1v1h-1zM49 63h1v1h-1zM30 64h2v1h-2zM39 64h1v1h-1zM41 64h1v1h-1zM24 65h1v1h-1zM31 65h2v1h-2zM37 65h1v1h-1zM39 65h1v1h-1zM4 66h1v1h-1zM6 66h1v1h-1zM13 66h1v1h-1zM26 66h1v1h-1zM28 66h1v1h-1zM33 66h1v1h-1zM39 66h1v1h-1zM7 67h1v1h-1zM28 67h1v1h-1zM33 67h1v1h-1zM36 67h2v1h-2zM41 67h1v1h-1zM6 68h2v1h-2zM28 68h1v1h-1zM4 69h1v1h-1zM23 69h1v1h-1zM26 69h1v1h-1zM33 69h1v1h-1zM38 69h1v1h-1zM45 69h1v1h-1zM24 70h1v1h-1zM28 70h1v1h-1zM31 70h1v1h-1zM33 70h1v1h-1zM26 71h1v1h-1zM39 71h1v1h-1zM22 72h1v1h-1zM28 72h2v1h-2zM32 72h1v1h-1zM35 72h1v1h-1zM40 72h1v1h-1zM44 72h1v1h-1zM30 73h2v1h-2zM33 73h1v1h-1zM36 73h1v1h-1zM3 74h1v1h-1zM5 75h2v1h-2zM14 75h1v1h-1zM23 75h1v1h-1zM28 75h1v1h-1zM35 75h1v1h-1zM38 75h1v1h-1zM3 76h1v1h-1zM5 76h1v1h-1zM14 76h1v1h-1zM19 76h1v1h-1zM24 76h2v1h-2zM37 76h1v1h-1zM40 76h1v1h-1zM14 77h2v1h-2zM19 77h1v1h-1zM24 77h1v1h-1zM26 77h1v1h-1zM5 78h1v1h-1zM16 78h1v1h-1zM25 78h1v1h-1zM30 78h1v1h-1zM41 78h1v1h-1zM21 79h1v1h-1zM24 79h1v1h-1zM39 79h1v1h-1zM41 79h1v1h-1zM15 80h1v1h-1zM18 80h2v1h-2zM25 80h1v1h-1zM28 80h1v1h-1zM38 80h1v1h-1zM41 80h1v1h-1zM18 81h1v1h-1zM33 81h1v1h-1zM16 82h1v1h-1zM20 82h1v1h-1zM34 82h2v1h-2zM4 83h1v1h-1zM27 83h1v1h-1zM31 83h6v1h-6zM24 84h1v1h-1zM29 84h1v1h-1zM33 84h1v1h-1zM36 84h1v1h-1zM41 84h1v1h-1zM14 85h1v1h-1zM25 85h1v1h-1zM27 85h1v1h-1zM29 85h1v1h-1zM36 85h1v1h-1zM38 85h1v1h-1zM5 86h2v1h-2zM28 86h1v1h-1zM41 86h1v1h-1zM7 87h1v1h-1zM22 87h1v1h-1zM26 87h1v1h-1zM7 88h1v1h-1zM19 88h2v1h-2zM22 88h1v1h-1zM35 88h1v1h-1zM37 88h1v1h-1zM14 89h1v1h-1zM17 89h1v1h-1zM14 90h1v1h-1zM22 90h2v1h-2zM26 90h1v1h-1zM38 90h1v1h-1zM6 91h1v1h-1zM11 91h1v1h-1zM23 91h1v1h-1zM28 91h1v1h-1zM32 91h1v1h-1zM36 91h2v1h-2zM5 92h2v1h-2zM18 92h1v1h-1zM41 92h1v1h-1zM7 93h1v1h-1zM22 93h4v1h-4zM30 93h1v1h-1zM34 93h1v1h-1zM37 93h1v1h-1zM45 93h1v1h-1zM23 94h1v1h-1zM30 94h1v1h-1zM35 94h1v1h-1zM37 94h1v1h-1zM39 94h1v1h-1zM9 95h1v1h-1zM22 95h1v1h-1zM29 95h1v1h-1zM37 95h1v1h-1zM5 96h1v1h-1zM19 96h1v1h-1zM23 96h1v1h-1zM25 96h1v1h-1zM32 96h2v1h-2zM36 96h1v1h-1zM41 96h1v1h-1zM4 97h1v1h-1zM17 97h1v1h-1zM26 97h1v1h-1zM36 97h1v1h-1zM7 98h1v1h-1zM17 98h1v1h-1zM20 98h1v1h-1zM23 98h1v1h-1zM6 99h1v1h-1zM18 99h1v1h-1zM35 99h1v1h-1zM39 99h1v1h-1zM5 100h1v1h-1zM17 100h2v1h-2zM20 100h1v1h-1zM25 100h1v1h-1zM27 100h1v1h-1zM37 100h1v1h-1zM39 100h2v1h-2zM29 101h1v1h-1zM31 101h1v1h-1zM34 101h1v1h-1zM36 101h1v1h-1zM16 102h1v1h-1zM24 102h1v1h-1zM26 102h1v1h-1zM29 102h2v1h-2zM33 102h1v1h-1zM29 103h1v1h-1zM22 104h2v1h-2zM25 104h2v1h-2zM31 104h1v1h-1zM33 104h2v1h-2zM4 105h1v1h-1zM14 105h1v1h-1zM22 105h2v1h-2zM25 105h1v1h-1zM32 105h1v1h-1zM11 106h1v1h-1zM20 106h2v1h-2zM25 106h1v1h-1zM43 106h1v1h-1zM14 107h1v1h-1zM20 107h1v1h-1zM26 107h1v1h-1zM28 107h1v1h-1zM39 107h1v1h-1zM4 108h1v1h-1zM11 108h1v1h-1zM13 108h1v1h-1zM40 108h2v1h-2zM6 109h1v1h-1zM8 109h1v1h-1zM11 109h2v1h-2zM27 109h1v1h-1zM11 110h3v1h-3zM15 110h1v1h-1zM17 110h1v1h-1zM26 110h1v1h-1zM30 110h1v1h-1zM5 111h2v1h-2zM26 111h1v1h-1zM34 111h2v1h-2zM40 111h2v1h-2zM4 112h1v1h-1zM6 112h1v1h-1zM13 112h1v1h-1zM18 112h2v1h-2zM24 112h1v1h-1zM28 112h1v1h-1zM34 112h1v1h-1zM36 112h1v1h-1zM40 112h1v1h-1zM6 113h2v1h-2zM10 113h3v1h-3zM18 113h1v1h-1zM24 113h1v1h-1zM27 113h1v1h-1zM41 113h1v1h-1zM11 114h1v1h-1zM16 114h1v1h-1zM32 114h1v1h-1zM41 114h1v1h-1zM3 115h1v1h-1zM6 115h2v1h-2zM10 115h1v1h-1zM13 115h1v1h-1zM16 115h1v1h-1zM30 115h1v1h-1zM34 115h1v1h-1zM3 116h2v1h-2zM7 116h1v1h-1zM9 116h1v1h-1zM18 116h3v1h-3zM23 116h2v1h-2zM13 117h1v1h-1zM20 117h1v1h-1zM24 117h1v1h-1zM37 117h1v1h-1zM41 117h1v1h-1zM4 118h1v1h-1zM9 118h1v1h-1zM18 118h1v1h-1zM20 118h1v1h-1zM23 118h1v1h-1zM26 118h1v1h-1zM30 118h2v1h-2zM35 118h1v1h-1zM17 119h1v1h-1zM21 119h1v1h-1zM31 119h1v1h-1zM21 120h1v1h-1zM29 120h2v1h-2zM33 120h2v1h-2zM41 120h1v1h-1zM6 121h1v1h-1zM27 121h1v1h-1zM31 121h1v1h-1zM36 121h1v1h-1zM13 122h2v1h-2zM28 122h1v1h-1zM30 122h1v1h-1zM36 122h1v1h-1zM3 123h1v1h-1zM6 123h1v1h-1zM10 123h2v1h-2zM16 123h2v1h-2zM33 123h1v1h-1zM36 123h2v1h-2zM39 123h1v1h-1zM14 124h1v1h-1zM21 124h2v1h-2zM26 124h1v1h-1zM31 124h1v1h-1zM36 124h1v1h-1zM40 124h1v1h-1zM36 125h1v1h-1zM39 125h2v1h-2zM4 126h1v1h-1zM15 126h3v1h-3zM19 126h1v1h-1zM24 126h1v1h-1zM27 126h1v1h-1zM29 126h1v1h-1zM10 127h1v1h-1zM13 127h1v1h-1zM26 127h1v1h-1zM31 127h1v1h-1zM4 128h1v1h-1zM9 128h1v1h-1zM11 128h2v1h-2zM5 129h1v1h-1zM12 129h1v1h-1zM9 130h1v1h-1zM7 131h2v1h-2zM11 131h1v1h-1zM21 131h1v1h-1zM5 132h1v1h-1zM7 132h1v1h-1zM9 132h1v1h-1zM37 133h1v1h-1zM12 134h1v1h-1zM6 135h1v1h-1zM5 136h1v1h-1zM7 136h1v1h-1zM9 136h1v1h-1zM12 136h1v1h-1zM11 137h1v1h-1zM8 138h1v1h-1zM13 138h1v1h-1zM5 139h2v1h-2zM33 139h1v1h-1z"/>
<path fill="#f0f4eb" d="M6 0h1v1h-1zM29 0h1v1h-1zM38 0h1v1h-1zM3 2h1v1h-1zM7 2h1v1h-1zM10 2h1v1h-1zM22 2h1v1h-1zM49 2h1v1h-1zM11 3h1v1h-1zM40 3h1v1h-1zM44 5h1v1h-1zM47 5h2v1h-2zM4 6h1v1h-1zM39 6h1v1h-1zM45 6h1v1h-1zM23 7h1v1h-1zM42 7h1v1h-1zM11 8h1v1h-1zM28 8h1v1h-1zM10 9h2v1h-2zM20 9h1v1h-1zM12 10h1v1h-1zM17 10h1v1h-1zM20 10h1v1h-1zM26 10h1v1h-1zM24 11h1v1h-1zM41 11h1v1h-1zM17 12h1v1h-1zM22 12h1v1h-1zM42 12h1v1h-1zM15 13h1v1h-1zM25 13h1v1h-1zM41 13h1v1h-1zM44 13h1v1h-1zM12 14h1v1h-1zM14 14h1v1h-1zM24 14h1v1h-1zM13 15h1v1h-1zM18 15h1v1h-1zM5 16h1v1h-1zM14 16h1v1h-1zM17 16h1v1h-1zM24 16h1v1h-1zM40 16h1v1h-1zM4 17h2v1h-2zM26 17h1v1h-1zM27 18h1v1h-1zM36 18h1v1h-1zM48 18h1v1h-1zM6 19h1v1h-1zM23 19h1v1h-1zM41 19h1v1h-1zM45 19h1v1h-1zM14 20h1v1h-1zM43 20h1v1h-1zM16 21h1v1h-1zM5 22h1v1h-1zM29 22h1v1h-1zM37 22h2v1h-2zM20 23h1v1h-1zM31 25h2v1h-2zM9 26h1v1h-1zM13 26h1v1h-1zM20 27h1v1h-1zM35 27h1v1h-1zM22 28h1v1h-1zM30 28h1v1h-1zM4 30h1v1h-1zM14 30h1v1h-1zM29 30h1v1h-1zM31 30h1v1h-1zM44 30h1v1h-1zM7 31h1v1h-1zM13 31h1v1h-1zM25 31h1v1h-1zM36 31h1v1h-1zM39 31h1v1h-1zM28 32h1v1h-1zM30 32h1v1h-1zM39 32h1v1h-1zM9 33h1v1h-1zM32 33h1v1h-1zM40 33h1v1h-1zM45 33h1v1h-1zM32 34h1v1h-1zM49 34h1v1h-1zM4 35h1v1h-1zM9 35h1v1h-1zM47 35h1v1h-1zM11 37h1v1h-1zM14 37h2v1h-2zM19 37h1v1h-1zM25 37h2v1h-2zM46 37h1v1h-1zM13 38h1v1h-1zM42 38h1v1h-1zM6 39h1v1h-1zM14 39h1v1h-1zM27 39h1v1h-1zM33 40h1v1h-1zM7 41h1v1h-1zM11 41h1v1h-1zM28 42h1v1h-1zM8 43h1v1h-1zM20 44h1v1h-1zM36 44h2v1h-2zM43 44h1v1h-1zM47 44h1v1h-1zM7 45h1v1h-1zM22 45h1v1h-1zM35 45h1v1h-1zM6 46h1v1h-1zM15 46h1v1h-1zM23 46h1v1h-1zM26 46h1v1h-1zM34 46h1v1h-1zM45 46h1v1h-1zM30 47h1v1h-1zM14 48h1v1h-1zM16 48h1v1h-1zM18 48h1v1h-1zM38 48h1v1h-1zM16 49h1v1h-1zM29 49h1v1h-1zM23 50h1v1h-1zM25 50h3v1h-3zM36 50h1v1h-1zM16 51h1v1h-1zM47 51h1v1h-1zM49 51h1v1h-1zM5 52h1v1h-1zM14 52h1v1h-1zM23 52h1v1h-1zM28 52h1v1h-1zM11 53h1v1h-1zM20 53h1v1h-1zM30 53h1v1h-1zM39 53h1v1h-1zM41 53h1v1h-1zM8 54h1v1h-1zM24 54h1v1h-1zM3 55h1v1h-1zM24 55h1v1h-1zM28 55h1v1h-1zM31 55h1v1h-1zM36 55h1v1h-1zM45 56h1v1h-1zM14 57h1v1h-1zM25 57h1v1h-1zM34 57h1v1h-1zM47 57h1v1h-1zM20 58h1v1h-1zM26 58h1v1h-1zM33 58h1v1h-1zM36 58h1v1h-1zM40 58h1v1h-1zM28 59h1v1h-1zM30 59h1v1h-1zM33 59h1v1h-1zM10 60h1v1h-1zM29 60h1v1h-1zM47 60h1v1h-1zM7 61h1v1h-1zM9 61h1v1h-1zM31 61h1v1h-1zM34 61h1v1h-1zM39 61h1v1h-1zM49 61h1v1h-1zM39 62h2v1h-2zM3 63h1v1h-1zM22 63h1v1h-1zM29 63h1v1h-1zM47 63h1v1h-1zM13 64h1v1h-1zM28 64h1v1h-1zM43 64h1v1h-1zM33 65h1v1h-1zM38 65h1v1h-1zM34 66h1v1h-1zM36 66h1v1h-1zM3 67h2v1h-2zM8 67h1v1h-1zM25 67h2v1h-2zM35 67h1v1h-1zM22 68h1v1h-1zM40 68h1v1h-1zM42 68h1v1h-1zM44 68h1v1h-1zM3 69h1v1h-1zM29 69h1v1h-1zM35 69h1v1h-1zM18 70h1v1h-1zM27 70h1v1h-1zM29 70h1v1h-1zM35 70h1v1h-1zM49 70h1v1h-1zM6 71h1v1h-1zM14 71h1v1h-1zM36 71h1v1h-1zM46 71h1v1h-1zM4 72h1v1h-1zM8 72h1v1h-1zM10 72h1v1h-1zM13 72h1v1h-1zM34 72h1v1h-1zM38 72h1v1h-1zM20 73h1v1h-1zM26 73h1v1h-1zM28 73h1v1h-1zM39 73h1v1h-1zM28 74h1v1h-1zM18 75h1v1h-1zM20 75h1v1h-1zM22 75h1v1h-1zM27 75h1v1h-1zM46 75h1v1h-1zM4 76h1v1h-1zM21 76h1v1h-1zM26 76h2v1h-2zM18 77h1v1h-1zM21 77h2v1h-2zM29 77h1v1h-1zM35 77h1v1h-1zM7 78h1v1h-1zM44 78h1v1h-1zM48 78h1v1h-1zM5 79h1v1h-1zM7 79h1v1h-1zM16 79h1v1h-1zM29 79h1v1h-1zM31 79h1v1h-1zM33 79h1v1h-1zM38 79h1v1h-1zM49 79h1v1h-1zM20 80h1v1h-1zM35 80h1v1h-1zM6 81h2v1h-2zM15 82h1v1h-1zM18 82h1v1h-1zM21 82h1v1h-1zM23 82h2v1h-2zM30 82h1v1h-1zM33 82h1v1h-1zM23 83h1v1h-1zM26 83h1v1h-1zM39 83h1v1h-1zM10 84h1v1h-1zM18 84h1v1h-1zM37 84h1v1h-1zM39 84h1v1h-1zM47 84h1v1h-1zM3 85h1v1h-1zM5 85h1v1h-1zM15 85h1v1h-1zM23 85h1v1h-1zM48 85h1v1h-1zM4 86h1v1h-1zM20 86h1v1h-1zM34 86h1v1h-1zM40 86h1v1h-1zM47 86h1v1h-1zM5 87h1v1h-1zM12 87h1v1h-1zM24 87h1v1h-1zM30 87h1v1h-1zM32 87h1v1h-1zM36 87h1v1h-1zM38 87h1v1h-1zM6 88h1v1h-1zM15 88h1v1h-1zM25 88h1v1h-1zM34 88h1v1h-1zM25 89h1v1h-1zM27 89h1v1h-1zM41 89h1v1h-1zM47 89h1v1h-1zM3 90h2v1h-2zM16 90h1v1h-1zM24 90h1v1h-1zM29 90h1v1h-1zM32 90h1v1h-1zM34 90h1v1h-1zM39 90h1v1h-1zM44 90h1v1h-1zM25 91h2v1h-2zM42 91h1v1h-1zM13 92h1v1h-1zM16 92h2v1h-2zM38 92h1v1h-1zM6 93h1v1h-1zM13 93h1v1h-1zM28 93h1v1h-1zM32 93h2v1h-2zM20 94h1v1h-1zM24 94h1v1h-1zM31 94h1v1h-1zM34 94h1v1h-1zM15 95h1v1h-1zM17 95h1v1h-1zM27 95h1v1h-1zM30 95h1v1h-1zM32 95h3v1h-3zM18 96h1v1h-1zM21 96h2v1h-2zM26 96h1v1h-1zM35 96h1v1h-1zM47 96h1v1h-1zM49 96h1v1h-1zM5 97h1v1h-1zM9 97h1v1h-1zM15 97h1v1h-1zM22 97h1v1h-1zM24 97h1v1h-1zM28 97h1v1h-1zM10 98h1v1h-1zM14 98h1v1h-1zM18 98h2v1h-2zM24 98h2v1h-2zM32 98h2v1h-2zM39 98h1v1h-1zM45 98h1v1h-1zM19 99h1v1h-1zM25 99h1v1h-1zM27 99h1v1h-1zM31 99h2v1h-2zM34 99h1v1h-1zM43 99h1v1h-1zM8 100h1v1h-1zM33 100h1v1h-1zM38 100h1v1h-1zM43 100h1v1h-1zM49 100h1v1h-1zM4 101h1v1h-1zM12 101h1v1h-1zM15 101h1v1h-1zM19 101h1v1h-1zM24 101h1v1h-1zM32 101h1v1h-1zM37 101h1v1h-1zM6 102h1v1h-1zM21 102h1v1h-1zM27 102h1v1h-1zM41 102h1v1h-1zM44 102h1v1h-1zM7 103h1v1h-1zM17 103h1v1h-1zM23 103h1v1h-1zM31 103h1v1h-1zM40 103h1v1h-1zM4 104h2v1h-2zM10 104h1v1h-1zM17 104h1v1h-1zM28 104h2v1h-2zM6 105h1v1h-1zM31 105h1v1h-1zM48 105h1v1h-1zM12 106h1v1h-1zM22 106h2v1h-2zM28 106h1v1h-1zM34 106h1v1h-1zM38 106h1v1h-1zM45 106h1v1h-1zM12 107h1v1h-1zM40 107h2v1h-2zM3 108h1v1h-1zM8 108h1v1h-1zM18 108h2v1h-2zM25 108h1v1h-1zM31 108h1v1h-1zM9 109h1v1h-1zM13 109h1v1h-1zM15 109h2v1h-2zM19 109h1v1h-1zM33 109h1v1h-1zM38 109h1v1h-1zM40 109h1v1h-1zM20 110h2v1h-2zM28 110h1v1h-1zM38 110h1v1h-1zM10 111h1v1h-1zM12 111h2v1h-2zM17 111h1v1h-1zM23 111h1v1h-1zM30 111h1v1h-1zM38 111h1v1h-1zM43 111h1v1h-1zM7 112h1v1h-1zM11 112h1v1h-1zM20 112h1v1h-1zM22 112h1v1h-1zM37 112h2v1h-2zM41 112h1v1h-1zM47 112h1v1h-1zM4 113h1v1h-1zM8 113h1v1h-1zM15 113h1v1h-1zM25 113h1v1h-1zM31 113h1v1h-1zM36 113h1v1h-1zM48 113h1v1h-1zM19 114h1v1h-1zM31 114h1v1h-1zM47 114h1v1h-1zM4 115h1v1h-1zM12 115h1v1h-1zM19 115h1v1h-1zM33 115h1v1h-1zM35 115h3v1h-3zM40 115h1v1h-1zM46 115h1v1h-1zM10 116h1v1h-1zM15 116h1v1h-1zM36 116h1v1h-1zM41 116h1v1h-1zM12 117h1v1h-1zM16 117h3v1h-3zM25 117h1v1h-1zM29 117h1v1h-1zM33 117h2v1h-2zM48 117h1v1h-1zM3 118h1v1h-1zM10 118h2v1h-2zM38 118h1v1h-1zM19 119h1v1h-1zM45 119h1v1h-1zM4 120h1v1h-1zM8 120h1v1h-1zM19 120h1v1h-1zM24 120h1v1h-1zM35 120h1v1h-1zM38 120h1v1h-1zM9 121h2v1h-2zM3 122h1v1h-1zM7 122h1v1h-1zM11 122h1v1h-1zM19 122h1v1h-1zM25 122h1v1h-1zM35 122h1v1h-1zM12 123h1v1h-1zM20 123h1v1h-1zM26 123h1v1h-1zM28 123h2v1h-2zM43 123h1v1h-1zM10 124h1v1h-1zM20 124h1v1h-1zM25 124h1v1h-1zM30 124h1v1h-1zM48 124h1v1h-1zM11 125h1v1h-1zM15 125h1v1h-1zM26 125h1v1h-1zM12 126h1v1h-1zM30 126h1v1h-1zM33 126h1v1h-1zM37 126h1v1h-1zM40 126h1v1h-1zM3 127h1v1h-1zM9 127h1v1h-1zM27 127h1v1h-1zM39 127h3v1h-3zM44 127h1v1h-1zM6 128h1v1h-1zM8 128h1v1h-1zM20 128h1v1h-1zM33 128h1v1h-1zM49 128h1v1h-1zM26 129h1v1h-1zM43 129h1v1h-1zM48 129h1v1h-1zM37 130h1v1h-1zM26 131h1v1h-1zM34 131h1v1h-1zM47 131h1v1h-1zM33 132h1v1h-1zM35 132h1v1h-1zM31 133h1v1h-1zM40 133h1v1h-1zM6 134h1v1h-1zM10 134h1v1h-1zM15 134h1v1h-1zM20 134h1v1h-1zM25 134h1v1h-1zM43 134h1v1h-1zM46 134h1v1h-1zM10 136h2v1h-2zM40 136h2v1h-2zM35 137h1v1h-1zM41 137h1v1h-1zM4 138h1v1h-1zM11 138h1v1h-1zM34 138h2v1h-2zM8 139h1v1h-1z"/>
<path fill="#f5f4dc" d="M3 0h1v1h-1zM16 0h1v1h-1zM18 0h1v1h-1zM21 0h1v1h-1zM25 0h1v1h-1zM27 0h1v1h-1zM42 0h2v1h-2zM3 1h1v1h-1zM5 1h2v1h-2zM18 1h1v1h-1zM21 1h2v1h-2zM35 1h1v1h-1zM4 2h1v1h-1zM11 2h1v1h-1zM19 2h1v1h-1zM25 2h1v1h-1zM31 2h1v1h-1zM33 2h1v1h-1zM40 2h1v1h-1zM42 2h1v1h-1zM44 2h1v1h-1zM5 3h1v1h-1zM14 3h3v1h-3zM27 3h1v1h-1zM30 3h1v1h-1zM32 3h1v1h-1zM37 3h1v1h-1zM45 3h1v1h-1zM47 3h3v1h-3zM3 4h1v1h-1zM7 4h1v1h-1zM10 4h1v1h-1zM17 4h1v1h-1zM39 4h1v1h-1zM44 4h1v1h-1zM47 4h1v1h-1zM4 5h1v1h-1zM8 5h1v1h-1zM15 5h1v1h-1zM21 5h1v1h-1zM28 5h1v1h-1zM33 5h1v1h-1zM36 5h1v1h-1zM49 5h1v1h-1zM5 6h1v1h-1zM10 6h1v1h-1zM13 6h1v1h-1zM15 6h1v1h-1zM19 6h1v1h-1zM21 6h2v1h-2zM24 6h1v1h-1zM31 6h1v1h-1zM34 6h1v1h-1zM43 6h1v1h-1zM48 6h1v1h-1zM4 7h1v1h-1zM11 7h5v1h-5zM28 7h1v1h-1zM33 7h2v1h-2zM39 7h1v1h-1zM45 7h1v1h-1zM47 7h1v1h-1zM12 8h1v1h-1zM17 8h1v1h-1zM24 8h2v1h-2zM27 8h1v1h-1zM29 8h1v1h-1zM31 8h1v1h-1zM8 9h1v1h-1zM15 9h1v1h-1zM18 9h2v1h-2zM23 9h2v1h-2zM27 9h1v1h-1zM29 9h2v1h-2zM40 9h1v1h-1zM5 10h1v1h-1zM8 10h1v1h-1zM13 10h1v1h-1zM18 10h1v1h-1zM24 10h1v1h-1zM27 10h1v1h-1zM29 10h1v1h-1zM33 10h2v1h-2zM44 10h1v1h-1zM49 10h1v1h-1zM9 11h1v1h-1zM11 11h1v1h-1zM13 11h1v1h-1zM19 11h1v1h-1zM25 11h1v1h-1zM30 11h2v1h-2zM33 11h1v1h-1zM37 11h1v1h-1zM45 11h1v1h-1zM4 12h1v1h-1zM7 12h1v1h-1zM29 12h1v1h-1zM35 12h1v1h-1zM38 12h2v1h-2zM41 12h1v1h-1zM43 12h2v1h-2zM6 13h1v1h-1zM10 13h1v1h-1zM21 13h1v1h-1zM32 13h1v1h-1zM36 13h1v1h-1zM39 13h1v1h-1zM4 14h1v1h-1zM6 14h1v1h-1zM17 14h1v1h-1zM19 14h1v1h-1zM28 14h1v1h-1zM35 14h1v1h-1zM38 14h1v1h-1zM42 14h1v1h-1zM44 14h1v1h-1zM5 15h1v1h-1zM16 15h1v1h-1zM34 15h1v1h-1zM40 15h2v1h-2zM43 15h1v1h-1zM49 15h1v1h-1zM3 16h1v1h-1zM13 16h1v1h-1zM16 16h1v1h-1zM20 16h1v1h-1zM22 16h1v1h-1zM28 16h2v1h-2zM38 16h1v1h-1zM44 16h1v1h-1zM49 16h1v1h-1zM3 17h1v1h-1zM7 17h1v1h-1zM15 17h1v1h-1zM18 17h2v1h-2zM25 17h1v1h-1zM31 17h1v1h-1zM34 17h1v1h-1zM42 17h1v1h-1zM49 17h1v1h-1zM4 18h1v1h-1zM8 18h1v1h-1zM17 18h1v1h-1zM31 18h1v1h-1zM11 19h1v1h-1zM13 19h2v1h-2zM18 19h1v1h-1zM26 19h1v1h-1zM35 19h1v1h-1zM42 19h1v1h-1zM48 19h1v1h-1zM3 20h1v1h-1zM11 20h1v1h-1zM15 20h1v1h-1zM24 20h2v1h-2zM27 20h2v1h-2zM37 20h1v1h-1zM46 20h1v1h-1zM49 20h1v1h-1zM15 21h1v1h-1zM18 21h1v1h-1zM21 21h1v1h-1zM29 21h1v1h-1zM34 21h1v1h-1zM16 22h3v1h-3zM20 22h1v1h-1zM22 22h1v1h-1zM26 22h1v1h-1zM34 22h1v1h-1zM41 22h1v1h-1zM11 23h1v1h-1zM26 23h1v1h-1zM30 23h1v1h-1zM34 23h1v1h-1zM14 24h1v1h-1zM17 24h1v1h-1zM25 24h1v1h-1zM33 24h1v1h-1zM38 24h2v1h-2zM42 24h1v1h-1zM48 24h1v1h-1zM3 25h1v1h-1zM9 25h1v1h-1zM11 25h1v1h-1zM15 25h1v1h-1zM24 25h1v1h-1zM26 25h1v1h-1zM29 25h1v1h-1zM33 25h1v1h-1zM41 25h1v1h-1zM45 25h1v1h-1zM48 25h1v1h-1zM8 26h1v1h-1zM23 26h1v1h-1zM35 26h1v1h-1zM40 26h1v1h-1zM49 26h1v1h-1zM6 27h1v1h-1zM9 27h1v1h-1zM13 27h1v1h-1zM23 27h1v1h-1zM28 27h1v1h-1zM31 27h1v1h-1zM38 27h1v1h-1zM9 28h1v1h-1zM15 28h1v1h-1zM19 28h1v1h-1zM28 28h2v1h-2zM32 28h1v1h-1zM40 28h1v1h-1zM46 28h2v1h-2zM14 29h2v1h-2zM31 29h3v1h-3zM37 29h1v1h-1zM32 30h1v1h-1zM38 30h1v1h-1zM45 30h1v1h-1zM49 30h1v1h-1zM19 31h1v1h-1zM21 31h1v1h-1zM23 31h1v1h-1zM27 31h1v1h-1zM29 31h1v1h-1zM38 31h1v1h-1zM47 31h2v1h-2zM4 32h1v1h-1zM6 32h1v1h-1zM16 32h1v1h-1zM38 32h1v1h-1zM45 32h1v1h-1zM48 32h1v1h-1zM3 33h1v1h-1zM13 33h1v1h-1zM18 33h1v1h-1zM23 33h1v1h-1zM30 33h2v1h-2zM33 33h1v1h-1zM4 34h1v1h-1zM8 34h1v1h-1zM11 34h1v1h-1zM14 34h2v1h-2zM21 34h1v1h-1zM23 34h1v1h-1zM35 34h1v1h-1zM43 34h1v1h-1zM5 35h1v1h-1zM16 35h1v1h-1zM20 35h1v1h-1zM24 35h1v1h-1zM37 35h1v1h-1zM46 35h1v1h-1zM14 36h1v1h-1zM19 36h1v1h-1zM27 36h3v1h-3zM32 36h1v1h-1zM38 36h1v1h-1zM5 37h2v1h-2zM10 37h1v1h-1zM17 37h1v1h-1zM22 37h1v1h-1zM24 37h1v1h-1zM29 37h2v1h-2zM36 37h1v1h-1zM11 38h1v1h-1zM24 38h1v1h-1zM32 38h1v1h-1zM40 38h1v1h-1zM12 39h1v1h-1zM23 39h1v1h-1zM25 39h1v1h-1zM28 39h2v1h-2zM33 39h1v1h-1zM35 39h1v1h-1zM45 39h1v1h-1zM18 40h5v1h-5zM26 40h1v1h-1zM32 40h1v1h-1zM36 40h1v1h-1zM38 40h3v1h-3zM45 40h1v1h-1zM48 40h1v1h-1zM4 41h3v1h-3zM12 41h2v1h-2zM15 41h2v1h-2zM20 41h1v1h-1zM31 41h1v1h-1zM37 41h1v1h-1zM41 41h1v1h-1zM46 41h1v1h-1zM5 42h1v1h-1zM12 42h1v1h-1zM16 42h1v1h-1zM24 42h1v1h-1zM26 42h1v1h-1zM29 42h1v1h-1zM32 42h1v1h-1zM36 42h1v1h-1zM43 42h1v1h-1zM45 42h1v1h-1zM47 42h1v1h-1zM7 43h1v1h-1zM13 43h1v1h-1zM15 43h1v1h-1zM24 43h1v1h-1zM35 43h1v1h-1zM39 43h1v1h-1zM47 43h2v1h-2zM4 44h1v1h-1zM13 44h1v1h-1zM17 44h2v1h-2zM21 44h1v1h-1zM31 44h1v1h-1zM33 44h1v1h-1zM39 44h1v1h-1zM6 45h1v1h-1zM8 45h1v1h-1zM12 45h2v1h-2zM23 45h1v1h-1zM27 45h1v1h-1zM29 45h1v1h-1zM39 45h1v1h-1zM17 46h1v1h-1zM19 46h1v1h-1zM24 46h1v1h-1zM28 46h1v1h-1zM32 46h1v1h-1zM37 46h2v1h-2zM44 46h1v1h-1zM49 46h1v1h-1zM8 47h1v1h-1zM10 47h1v1h-1zM15 47h1v1h-1zM20 47h1v1h-1zM24 47h1v1h-1zM26 47h1v1h-1zM39 47h1v1h-1zM9 48h1v1h-1zM19 48h1v1h-1zM22 48h1v1h-1zM24 48h1v1h-1zM26 48h1v1h-1zM39 48h1v1h-1zM46 48h2v1h-2zM12 49h2v1h-2zM15 49h1v1h-1zM20 49h1v1h-1zM24 49h1v1h-1zM28 49h1v1h-1zM35 49h2v1h-2zM46 49h1v1h-1zM48 49h1v1h-1zM6 50h1v1h-1zM19 50h1v1h-1zM22 50h1v1h-1zM24 50h1v1h-1zM45 50h1v1h-1zM9 51h1v1h-1zM13 51h1v1h-1zM15 51h1v1h-1zM17 51h1v1h-1zM19 51h1v1h-1zM24 51h1v1h-1zM31 51h1v1h-1zM41 51h1v1h-1zM6 52h2v1h-2zM10 52h1v1h-1zM16 52h1v1h-1zM18 52h1v1h-1zM22 52h1v1h-1zM27 52h1v1h-1zM31 52h1v1h-1zM41 52h1v1h-1zM43 52h1v1h-1zM46 52h1v1h-1zM35 53h1v1h-1zM38 53h1v1h-1zM45 53h1v1h-1zM47 53h2v1h-2zM11 54h1v1h-1zM18 54h2v1h-2zM23 54h1v1h-1zM32 54h1v1h-1zM35 54h2v1h-2zM39 54h1v1h-1zM46 54h1v1h-1zM49 54h1v1h-1zM4 55h1v1h-1zM25 55h1v1h-1zM30 55h1v1h-1zM19 56h1v1h-1zM22 56h1v1h-1zM24 56h1v1h-1zM36 56h1v1h-1zM42 56h1v1h-1zM46 56h1v1h-1zM48 56h1v1h-1zM8 57h1v1h-1zM17 57h1v1h-1zM20 57h1v1h-1zM24 57h1v1h-1zM32 57h1v1h-1zM48 57h1v1h-1zM5 58h1v1h-1zM11 58h1v1h-1zM13 58h1v1h-1zM19 58h1v1h-1zM22 58h1v1h-1zM34 58h1v1h-1zM41 58h1v1h-1zM43 58h1v1h-1zM48 58h1v1h-1zM5 59h1v1h-1zM15 59h1v1h-1zM21 59h1v1h-1zM35 59h2v1h-2zM7 60h1v1h-1zM12 60h1v1h-1zM21 60h1v1h-1zM23 60h1v1h-1zM27 60h1v1h-1zM43 60h2v1h-2zM3 61h1v1h-1zM13 61h1v1h-1zM16 61h1v1h-1zM18 61h1v1h-1zM21 61h1v1h-1zM37 61h1v1h-1zM41 61h1v1h-1zM48 61h1v1h-1zM8 62h1v1h-1zM17 62h1v1h-1zM19 62h1v1h-1zM21 62h1v1h-1zM32 62h1v1h-1zM34 62h1v1h-1zM46 62h1v1h-1zM18 63h1v1h-1zM21 63h1v1h-1zM31 63h1v1h-1zM33 63h1v1h-1zM39 63h1v1h-1zM41 63h1v1h-1zM8 64h1v1h-1zM11 64h1v1h-1zM26 64h1v1h-1zM38 64h1v1h-1zM40 64h1v1h-1zM42 64h1v1h-1zM46 64h1v1h-1zM8 65h1v1h-1zM14 65h1v1h-1zM23 65h1v1h-1zM27 65h1v1h-1zM35 65h1v1h-1zM16 66h2v1h-2zM27 66h1v1h-1zM29 66h1v1h-1zM38 66h1v1h-1zM44 66h1v1h-1zM12 67h1v1h-1zM19 67h1v1h-1zM24 67h1v1h-1zM43 67h1v1h-1zM48 67h2v1h-2zM4 68h1v1h-1zM12 68h1v1h-1zM20 68h1v1h-1zM24 68h2v1h-2zM29 68h1v1h-1zM37 68h1v1h-1zM39 68h1v1h-1zM41 68h1v1h-1zM45 68h1v1h-1zM47 68h1v1h-1zM10 69h1v1h-1zM13 69h1v1h-1zM15 69h1v1h-1zM32 69h1v1h-1zM36 69h1v1h-1zM39 69h1v1h-1zM49 69h1v1h-1zM8 70h1v1h-1zM10 70h2v1h-2zM14 70h1v1h-1zM16 70h1v1h-1zM36 70h1v1h-1zM38 70h1v1h-1zM42 70h1v1h-1zM4 71h1v1h-1zM9 71h1v1h-1zM15 71h2v1h-2zM20 71h1v1h-1zM22 71h1v1h-1zM27 71h2v1h-2zM32 71h1v1h-1zM47 71h1v1h-1zM18 72h1v1h-1zM21 72h1v1h-1zM31 72h1v1h-1zM41 72h1v1h-1zM11 73h1v1h-1zM24 73h1v1h-1zM27 73h1v1h-1zM29 73h1v1h-1zM38 73h1v1h-1zM40 73h1v1h-1zM45 73h1v1h-1zM47 73h1v1h-1zM7 74h1v1h-1zM10 74h1v1h-1zM14 74h1v1h-1zM17 74h2v1h-2zM22 74h1v1h-1zM27 74h1v1h-1zM31 74h1v1h-1zM36 74h1v1h-1zM38 74h1v1h-1zM44 74h2v1h-2zM49 74h1v1h-1zM7 75h1v1h-1zM13 75h1v1h-1zM25 75h1v1h-1zM39 75h2v1h-2zM43 75h1v1h-1zM45 75h1v1h-1zM11 76h1v1h-1zM15 76h1v1h-1zM17 76h2v1h-2zM23 76h1v1h-1zM28 76h1v1h-1zM30 76h1v1h-1zM33 76h1v1h-1zM43 76h1v1h-1zM3 77h1v1h-1zM5 77h1v1h-1zM7 77h2v1h-2zM30 77h1v1h-1zM33 77h1v1h-1zM40 77h1v1h-1zM45 77h2v1h-2zM11 78h1v1h-1zM17 78h1v1h-1zM20 78h1v1h-1zM33 78h2v1h-2zM6 79h1v1h-1zM12 79h1v1h-1zM14 79h1v1h-1zM23 79h1v1h-1zM27 79h1v1h-1zM43 79h1v1h-1zM47 79h1v1h-1zM4 80h1v1h-1zM8 80h2v1h-2zM22 80h2v1h-2zM30 80h1v1h-1zM37 80h1v1h-1zM45 80h1v1h-1zM25 81h1v1h-1zM29 81h2v1h-2zM36 81h1v1h-1zM49 81h1v1h-1zM5 82h1v1h-1zM19 82h1v1h-1zM22 82h1v1h-1zM28 82h1v1h-1zM37 82h1v1h-1zM46 82h2v1h-2zM49 82h1v1h-1zM19 83h1v1h-1zM46 83h4v1h-4zM14 84h1v1h-1zM22 84h1v1h-1zM25 84h1v1h-1zM42 84h1v1h-1zM44 84h1v1h-1zM48 84h1v1h-1zM4 85h1v1h-1zM8 85h1v1h-1zM13 85h1v1h-1zM26 85h1v1h-1zM32 85h2v1h-2zM40 85h1v1h-1zM42 85h1v1h-1zM22 86h1v1h-1zM25 86h1v1h-1zM27 86h1v1h-1zM43 86h1v1h-1zM6 87h1v1h-1zM10 87h1v1h-1zM14 87h1v1h-1zM25 87h1v1h-1zM29 87h1v1h-1zM40 87h1v1h-1zM44 87h1v1h-1zM3 88h1v1h-1zM12 88h1v1h-1zM23 88h1v1h-1zM28 88h1v1h-1zM44 88h1v1h-1zM49 88h1v1h-1zM13 89h1v1h-1zM20 89h1v1h-1zM22 89h3v1h-3zM39 89h1v1h-1zM43 89h1v1h-1zM18 90h1v1h-1zM42 90h1v1h-1zM45 90h1v1h-1zM47 90h2v1h-2zM31 91h1v1h-1zM38 91h1v1h-1zM34 92h1v1h-1zM36 92h1v1h-1zM43 92h1v1h-1zM45 92h1v1h-1zM48 92h2v1h-2zM5 93h1v1h-1zM12 93h1v1h-1zM18 93h1v1h-1zM47 93h3v1h-3zM3 94h1v1h-1zM21 94h1v1h-1zM42 94h1v1h-1zM46 94h1v1h-1zM48 94h2v1h-2zM8 95h1v1h-1zM12 95h2v1h-2zM24 95h1v1h-1zM41 95h2v1h-2zM48 95h1v1h-1zM3 96h1v1h-1zM7 96h1v1h-1zM12 96h1v1h-1zM28 96h1v1h-1zM3 97h1v1h-1zM7 97h1v1h-1zM12 97h1v1h-1zM16 97h1v1h-1zM19 97h1v1h-1zM25 97h1v1h-1zM34 97h1v1h-1zM39 97h2v1h-2zM8 98h1v1h-1zM22 98h1v1h-1zM31 98h1v1h-1zM41 98h2v1h-2zM48 98h1v1h-1zM11 99h1v1h-1zM24 99h1v1h-1zM30 99h1v1h-1zM38 99h1v1h-1zM7 100h1v1h-1zM21 100h1v1h-1zM36 100h1v1h-1zM47 100h1v1h-1zM6 101h1v1h-1zM26 101h1v1h-1zM45 101h1v1h-1zM48 101h1v1h-1zM4 102h1v1h-1zM15 102h1v1h-1zM28 102h1v1h-1zM37 102h1v1h-1zM40 102h1v1h-1zM47 102h1v1h-1zM14 103h1v1h-1zM25 103h3v1h-3zM38 103h1v1h-1zM41 103h1v1h-1zM45 103h1v1h-1zM6 104h1v1h-1zM19 104h1v1h-1zM27 104h1v1h-1zM43 104h1v1h-1zM46 104h1v1h-1zM3 105h1v1h-1zM11 105h1v1h-1zM17 105h1v1h-1zM26 105h1v1h-1zM29 105h1v1h-1zM43 105h2v1h-2zM6 106h1v1h-1zM10 106h1v1h-1zM24 106h1v1h-1zM32 106h1v1h-1zM36 106h2v1h-2zM39 106h1v1h-1zM49 106h1v1h-1zM8 107h1v1h-1zM18 107h2v1h-2zM21 107h1v1h-1zM25 107h1v1h-1zM43 107h1v1h-1zM48 107h1v1h-1zM5 108h2v1h-2zM38 108h1v1h-1zM49 108h1v1h-1zM7 109h1v1h-1zM10 109h1v1h-1zM22 109h1v1h-1zM28 109h1v1h-1zM37 109h1v1h-1zM42 109h1v1h-1zM3 110h1v1h-1zM32 110h2v1h-2zM35 110h1v1h-1zM45 110h1v1h-1zM20 111h1v1h-1zM25 111h1v1h-1zM28 111h1v1h-1zM48 111h2v1h-2zM3 112h1v1h-1zM15 112h1v1h-1zM17 112h1v1h-1zM21 112h1v1h-1zM25 112h1v1h-1zM44 112h2v1h-2zM5 113h1v1h-1zM33 113h1v1h-1zM43 113h1v1h-1zM49 113h1v1h-1zM12 114h1v1h-1zM25 114h1v1h-1zM28 114h1v1h-1zM36 114h1v1h-1zM43 114h1v1h-1zM46 114h1v1h-1zM48 114h1v1h-1zM9 115h1v1h-1zM17 115h1v1h-1zM23 115h1v1h-1zM43 115h2v1h-2zM47 115h2v1h-2zM6 116h1v1h-1zM17 116h1v1h-1zM22 116h1v1h-1zM31 116h1v1h-1zM39 116h1v1h-1zM43 116h1v1h-1zM45 116h1v1h-1zM47 116h3v1h-3zM6 117h1v1h-1zM8 117h1v1h-1zM11 117h1v1h-1zM23 117h1v1h-1zM26 117h3v1h-3zM36 117h1v1h-1zM39 117h1v1h-1zM47 117h1v1h-1zM12 118h3v1h-3zM21 118h2v1h-2zM42 118h1v1h-1zM46 118h2v1h-2zM5 119h1v1h-1zM7 119h1v1h-1zM18 119h1v1h-1zM20 119h1v1h-1zM22 119h3v1h-3zM34 119h2v1h-2zM38 119h1v1h-1zM41 119h1v1h-1zM46 119h1v1h-1zM49 119h1v1h-1zM15 120h1v1h-1zM20 120h1v1h-1zM23 120h1v1h-1zM25 120h1v1h-1zM37 120h1v1h-1zM39 120h2v1h-2zM3 121h1v1h-1zM5 121h1v1h-1zM7 121h1v1h-1zM13 121h1v1h-1zM21 121h1v1h-1zM25 121h1v1h-1zM30 121h1v1h-1zM37 121h1v1h-1zM42 121h1v1h-1zM44 121h1v1h-1zM6 122h1v1h-1zM8 122h2v1h-2zM23 122h1v1h-1zM33 122h2v1h-2zM41 122h1v1h-1zM46 122h1v1h-1zM4 123h1v1h-1zM9 123h1v1h-1zM15 123h1v1h-1zM41 123h1v1h-1zM47 123h2v1h-2zM29 124h1v1h-1zM35 124h1v1h-1zM3 125h1v1h-1zM6 125h1v1h-1zM9 125h1v1h-1zM14 125h1v1h-1zM16 125h1v1h-1zM21 125h1v1h-1zM23 125h2v1h-2zM38 125h1v1h-1zM49 125h1v1h-1zM7 126h1v1h-1zM26 126h1v1h-1zM44 126h2v1h-2zM49 126h1v1h-1zM7 127h1v1h-1zM14 127h3v1h-3zM20 127h2v1h-2zM23 127h3v1h-3zM30 127h1v1h-1zM37 127h1v1h-1zM3 128h1v1h-1zM17 128h1v1h-1zM19 128h1v1h-1zM22 128h2v1h-2zM30 128h1v1h-1zM42 128h2v1h-2zM46 128h1v1h-1zM4 129h1v1h-1zM6 129h2v1h-2zM10 129h2v1h-2zM21 129h1v1h-1zM30 129h1v1h-1zM35 129h1v1h-1zM39 129h1v1h-1zM42 129h1v1h-1zM46 129h1v1h-1zM5 130h1v1h-1zM15 130h1v1h-1zM18 130h1v1h-1zM30 130h3v1h-3zM34 130h2v1h-2zM38 130h1v1h-1zM40 130h1v1h-1zM42 130h1v1h-1zM46 130h1v1h-1zM3 131h1v1h-1zM10 131h1v1h-1zM19 131h2v1h-2zM23 131h1v1h-1zM32 131h2v1h-2zM35 131h1v1h-1zM38 131h1v1h-1zM18 132h1v1h-1zM24 132h1v1h-1zM26 132h2v1h-2zM29 132h1v1h-1zM31 132h1v1h-1zM34 132h1v1h-1zM4 133h1v1h-1zM7 133h1v1h-1zM10 133h1v1h-1zM17 133h2v1h-2zM20 133h1v1h-1zM23 133h1v1h-1zM27 133h1v1h-1zM35 133h1v1h-1zM42 133h1v1h-1zM3 134h2v1h-2zM9 134h1v1h-1zM27 134h2v1h-2zM37 134h3v1h-3zM47 134h1v1h-1zM9 135h1v1h-1zM15 135h2v1h-2zM18 135h1v1h-1zM20 135h2v1h-2zM27 135h1v1h-1zM30 135h1v1h-1zM36 135h1v1h-1zM40 135h1v1h-1zM43 135h1v1h-1zM45 135h1v1h-1zM49 135h1v1h-1zM8 136h1v1h-1zM31 136h1v1h-1zM33 136h1v1h-1zM45 136h1v1h-1zM47 136h1v1h-1zM6 137h1v1h-1zM8 137h1v1h-1zM20 137h2v1h-2zM32 137h1v1h-1zM44 137h1v1h-1zM46 137h2v1h-2zM7 138h1v1h-1zM16 138h1v1h-1zM19 138h1v1h-1zM24 138h2v1h-2zM28 138h1v1h-1zM32 138h1v1h-1zM13 139h1v1h-1zM17 139h2v1h-2zM29 139h1v1h-1zM34 139h2v1h-2zM38 139h2v1h-2zM44 139h1v1h-1zM46 139h3v1h-3z"/>
<path fill="#faf3ce" d="M5 0h1v1h-1zM7 0h2v1h-2zM11 0h2v1h-2zM17 0h1v1h-1zM20 0h1v1h-1zM28 0h1v1h-1zM34 0h1v1h-1zM37 0h1v1h-1zM40 0h1v1h-1zM47 0h1v1h-1zM49 0h1v1h-1zM9 1h1v1h-1zM11 1h4v1h-4zM16 1h1v1h-1zM19 1h1v1h-1zM23 1h2v1h-2zM26 1h4v1h-4zM31 1h1v1h-1zM36 1h1v1h-1zM38 1h2v1h-2zM43 1h1v1h-1zM45 1h2v1h-2zM6 2h1v1h-1zM8 2h2v1h-2zM12 2h1v1h-1zM14 2h1v1h-1zM16 2h1v1h-1zM18 2h1v1h-1zM21 2h1v1h-1zM23 2h1v1h-1zM26 2h1v1h-1zM45 2h1v1h-1zM3 3h2v1h-2zM6 3h1v1h-1zM8 3h3v1h-3zM13 3h1v1h-1zM17 3h2v1h-2zM21 3h1v1h-1zM24 3h1v1h-1zM36 3h1v1h-1zM38 3h2v1h-2zM44 3h1v1h-1zM4 4h1v1h-1zM8 4h1v1h-1zM12 4h2v1h-2zM15 4h1v1h-1zM19 4h4v1h-4zM28 4h2v1h-2zM32 4h1v1h-1zM34 4h1v1h-1zM40 4h1v1h-1zM45 4h2v1h-2zM6 5h2v1h-2zM10 5h2v1h-2zM19 5h2v1h-2zM22 5h1v1h-1zM24 5h1v1h-1zM29 5h2v1h-2zM34 5h2v1h-2zM37 5h3v1h-3zM41 5h2v1h-2zM45 5h2v1h-2zM8 6h1v1h-1zM11 6h2v1h-2zM17 6h2v1h-2zM23 6h1v1h-1zM25 6h2v1h-2zM28 6h1v1h-1zM40 6h1v1h-1zM3 7h1v1h-1zM7 7h1v1h-1zM10 7h1v1h-1zM17 7h1v1h-1zM22 7h1v1h-1zM24 7h3v1h-3zM30 7h3v1h-3zM36 7h2v1h-2zM41 7h1v1h-1zM5 8h2v1h-2zM10 8h1v1h-1zM14 8h1v1h-1zM18 8h2v1h-2zM22 8h1v1h-1zM33 8h4v1h-4zM38 8h2v1h-2zM41 8h2v1h-2zM3 9h1v1h-1zM6 9h1v1h-1zM9 9h1v1h-1zM12 9h1v1h-1zM14 9h1v1h-1zM26 9h1v1h-1zM28 9h1v1h-1zM33 9h3v1h-3zM37 9h1v1h-1zM39 9h1v1h-1zM41 9h3v1h-3zM45 9h1v1h-1zM48 9h1v1h-1zM3 10h2v1h-2zM9 10h2v1h-2zM14 10h1v1h-1zM22 10h1v1h-1zM25 10h1v1h-1zM37 10h1v1h-1zM40 10h1v1h-1zM43 10h1v1h-1zM47 10h2v1h-2zM5 11h1v1h-1zM7 11h1v1h-1zM12 11h1v1h-1zM14 11h1v1h-1zM16 11h3v1h-3zM20 11h1v1h-1zM22 11h1v1h-1zM26 11h1v1h-1zM28 11h1v1h-1zM32 11h1v1h-1zM34 11h1v1h-1zM38 11h1v1h-1zM49 11h1v1h-1zM10 12h2v1h-2zM15 12h1v1h-1zM18 12h1v1h-1zM23 12h2v1h-2zM26 12h1v1h-1zM28 12h1v1h-1zM30 12h1v1h-1zM32 12h1v1h-1zM36 12h1v1h-1zM45 12h1v1h-1zM9 13h1v1h-1zM12 13h3v1h-3zM22 13h1v1h-1zM26 13h1v1h-1zM28 13h1v1h-1zM31 13h1v1h-1zM37 13h1v1h-1zM40 13h1v1h-1zM42 13h1v1h-1zM46 13h1v1h-1zM3 14h1v1h-1zM9 14h1v1h-1zM13 14h1v1h-1zM16 14h1v1h-1zM20 14h2v1h-2zM29 14h1v1h-1zM31 14h1v1h-1zM34 14h1v1h-1zM36 14h1v1h-1zM40 14h2v1h-2zM45 14h1v1h-1zM49 14h1v1h-1zM4 15h1v1h-1zM6 15h3v1h-3zM15 15h1v1h-1zM23 15h1v1h-1zM25 15h1v1h-1zM28 15h1v1h-1zM30 15h1v1h-1zM35 15h1v1h-1zM37 15h1v1h-1zM39 15h1v1h-1zM42 15h1v1h-1zM44 15h1v1h-1zM46 15h1v1h-1zM48 15h1v1h-1zM4 16h1v1h-1zM6 16h4v1h-4zM11 16h2v1h-2zM21 16h1v1h-1zM25 16h3v1h-3zM31 16h2v1h-2zM35 16h1v1h-1zM37 16h1v1h-1zM39 16h1v1h-1zM42 16h1v1h-1zM12 17h1v1h-1zM16 17h1v1h-1zM20 17h2v1h-2zM27 17h4v1h-4zM32 17h1v1h-1zM35 17h3v1h-3zM39 17h1v1h-1zM41 17h1v1h-1zM44 17h4v1h-4zM5 18h1v1h-1zM7 18h1v1h-1zM9 18h1v1h-1zM13 18h1v1h-1zM23 18h1v1h-1zM29 18h1v1h-1zM32 18h3v1h-3zM42 18h2v1h-2zM47 18h1v1h-1zM4 19h1v1h-1zM12 19h1v1h-1zM19 19h2v1h-2zM22 19h1v1h-1zM25 19h1v1h-1zM32 19h1v1h-1zM38 19h2v1h-2zM4 20h4v1h-4zM10 20h1v1h-1zM12 20h1v1h-1zM16 20h1v1h-1zM18 20h1v1h-1zM21 20h3v1h-3zM33 20h1v1h-1zM36 20h1v1h-1zM38 20h1v1h-1zM47 20h2v1h-2zM4 21h2v1h-2zM7 21h3v1h-3zM14 21h1v1h-1zM24 21h2v1h-2zM27 21h2v1h-2zM31 21h3v1h-3zM38 21h1v1h-1zM40 21h2v1h-2zM44 21h5v1h-5zM4 22h1v1h-1zM6 22h2v1h-2zM9 22h1v1h-1zM15 22h1v1h-1zM25 22h1v1h-1zM30 22h3v1h-3zM35 22h1v1h-1zM39 22h1v1h-1zM44 22h1v1h-1zM46 22h1v1h-1zM49 22h1v1h-1zM4 23h1v1h-1zM9 23h1v1h-1zM14 23h1v1h-1zM16 23h2v1h-2zM19 23h1v1h-1zM22 23h3v1h-3zM27 23h1v1h-1zM31 23h2v1h-2zM35 23h5v1h-5zM43 23h4v1h-4zM48 23h1v1h-1zM16 24h1v1h-1zM20 24h1v1h-1zM24 24h1v1h-1zM28 24h1v1h-1zM31 24h1v1h-1zM34 24h1v1h-1zM47 24h1v1h-1zM5 25h1v1h-1zM7 25h1v1h-1zM12 25h1v1h-1zM16 25h1v1h-1zM18 25h1v1h-1zM25 25h1v1h-1zM27 25h2v1h-2zM34 25h1v1h-1zM36 25h3v1h-3zM46 25h1v1h-1zM6 26h1v1h-1zM16 26h1v1h-1zM19 26h1v1h-1zM21 26h1v1h-1zM26 26h2v1h-2zM36 26h1v1h-1zM42 26h1v1h-1zM44 26h1v1h-1zM47 26h1v1h-1zM3 27h3v1h-3zM7 27h1v1h-1zM10 27h3v1h-3zM14 27h2v1h-2zM19 27h1v1h-1zM24 27h1v1h-1zM26 27h1v1h-1zM30 27h1v1h-1zM34 27h1v1h-1zM36 27h2v1h-2zM44 27h1v1h-1zM5 28h1v1h-1zM17 28h1v1h-1zM23 28h1v1h-1zM25 28h2v1h-2zM36 28h1v1h-1zM42 28h1v1h-1zM44 28h2v1h-2zM4 29h1v1h-1zM6 29h2v1h-2zM10 29h1v1h-1zM13 29h1v1h-1zM20 29h1v1h-1zM23 29h1v1h-1zM25 29h2v1h-2zM29 29h1v1h-1zM38 29h1v1h-1zM40 29h1v1h-1zM48 29h1v1h-1zM8 30h1v1h-1zM10 30h2v1h-2zM16 30h1v1h-1zM20 30h1v1h-1zM23 30h2v1h-2zM35 30h3v1h-3zM5 31h1v1h-1zM18 31h1v1h-1zM20 31h1v1h-1zM24 31h1v1h-1zM26 31h1v1h-1zM28 31h1v1h-1zM30 31h2v1h-2zM34 31h1v1h-1zM43 31h2v1h-2zM5 32h1v1h-1zM9 32h1v1h-1zM11 32h3v1h-3zM19 32h1v1h-1zM23 32h2v1h-2zM33 32h1v1h-1zM36 32h1v1h-1zM6 33h1v1h-1zM11 33h1v1h-1zM16 33h2v1h-2zM20 33h1v1h-1zM26 33h1v1h-1zM28 33h1v1h-1zM36 33h1v1h-1zM43 33h1v1h-1zM47 33h1v1h-1zM6 34h1v1h-1zM9 34h1v1h-1zM18 34h2v1h-2zM24 34h4v1h-4zM31 34h1v1h-1zM33 34h1v1h-1zM37 34h1v1h-1zM41 34h2v1h-2zM45 34h2v1h-2zM3 35h1v1h-1zM6 35h2v1h-2zM13 35h1v1h-1zM15 35h1v1h-1zM19 35h1v1h-1zM22 35h1v1h-1zM25 35h1v1h-1zM27 35h2v1h-2zM30 35h2v1h-2zM35 35h1v1h-1zM39 35h1v1h-1zM41 35h3v1h-3zM5 36h2v1h-2zM9 36h1v1h-1zM15 36h4v1h-4zM25 36h2v1h-2zM31 36h1v1h-1zM34 36h3v1h-3zM39 36h1v1h-1zM43 36h1v1h-1zM46 36h2v1h-2zM7 37h1v1h-1zM12 37h2v1h-2zM16 37h1v1h-1zM18 37h1v1h-1zM20 37h1v1h-1zM23 37h1v1h-1zM32 37h4v1h-4zM43 37h2v1h-2zM4 38h3v1h-3zM10 38h1v1h-1zM12 38h1v1h-1zM15 38h2v1h-2zM20 38h2v1h-2zM25 38h2v1h-2zM28 38h2v1h-2zM31 38h1v1h-1zM34 38h2v1h-2zM41 38h1v1h-1zM44 38h2v1h-2zM48 38h1v1h-1zM4 39h2v1h-2zM7 39h2v1h-2zM10 39h1v1h-1zM17 39h1v1h-1zM19 39h3v1h-3zM26 39h1v1h-1zM30 39h3v1h-3zM37 39h3v1h-3zM44 39h1v1h-1zM47 39h1v1h-1zM49 39h1v1h-1zM8 40h4v1h-4zM13 40h2v1h-2zM17 40h1v1h-1zM23 40h1v1h-1zM25 40h1v1h-1zM28 40h1v1h-1zM30 40h2v1h-2zM37 40h1v1h-1zM42 40h3v1h-3zM14 41h1v1h-1zM18 41h1v1h-1zM21 41h2v1h-2zM26 41h1v1h-1zM30 41h1v1h-1zM35 41h2v1h-2zM42 41h1v1h-1zM9 42h1v1h-1zM14 42h1v1h-1zM19 42h1v1h-1zM21 42h1v1h-1zM27 42h1v1h-1zM34 42h1v1h-1zM37 42h1v1h-1zM40 42h1v1h-1zM44 42h1v1h-1zM46 42h1v1h-1zM48 42h2v1h-2zM6 43h1v1h-1zM9 43h1v1h-1zM14 43h1v1h-1zM19 43h1v1h-1zM21 43h1v1h-1zM25 43h2v1h-2zM28 43h1v1h-1zM38 43h1v1h-1zM45 43h2v1h-2zM5 44h1v1h-1zM7 44h3v1h-3zM11 44h2v1h-2zM14 44h1v1h-1zM22 44h2v1h-2zM30 44h1v1h-1zM32 44h1v1h-1zM34 44h2v1h-2zM41 44h1v1h-1zM49 44h1v1h-1zM4 45h1v1h-1zM10 45h2v1h-2zM14 45h2v1h-2zM19 45h1v1h-1zM21 45h1v1h-1zM24 45h3v1h-3zM31 45h1v1h-1zM37 45h1v1h-1zM40 45h3v1h-3zM44 45h1v1h-1zM49 45h1v1h-1zM4 46h1v1h-1zM7 46h1v1h-1zM12 46h1v1h-1zM20 46h3v1h-3zM25 46h1v1h-1zM27 46h1v1h-1zM30 46h2v1h-2zM35 46h2v1h-2zM39 46h1v1h-1zM42 46h1v1h-1zM47 46h1v1h-1zM4 47h4v1h-4zM9 47h1v1h-1zM11 47h1v1h-1zM14 47h1v1h-1zM17 47h1v1h-1zM23 47h1v1h-1zM28 47h2v1h-2zM31 47h1v1h-1zM33 47h4v1h-4zM42 47h2v1h-2zM47 47h1v1h-1zM5 48h3v1h-3zM12 48h1v1h-1zM15 48h1v1h-1zM23 48h1v1h-1zM27 48h1v1h-1zM30 48h1v1h-1zM34 48h1v1h-1zM44 48h2v1h-2zM4 49h1v1h-1zM6 49h2v1h-2zM9 49h2v1h-2zM14 49h1v1h-1zM18 49h1v1h-1zM21 49h1v1h-1zM23 49h1v1h-1zM33 49h1v1h-1zM39 49h1v1h-1zM43 49h1v1h-1zM45 49h1v1h-1zM3 50h3v1h-3zM8 50h2v1h-2zM12 50h1v1h-1zM15 50h1v1h-1zM17 50h1v1h-1zM30 50h1v1h-1zM37 50h2v1h-2zM46 50h1v1h-1zM48 50h2v1h-2zM3 51h2v1h-2zM7 51h1v1h-1zM11 51h2v1h-2zM20 51h1v1h-1zM22 51h2v1h-2zM26 51h2v1h-2zM36 51h1v1h-1zM39 51h1v1h-1zM42 51h1v1h-1zM44 51h1v1h-1zM46 51h1v1h-1zM4 52h1v1h-1zM9 52h1v1h-1zM11 52h2v1h-2zM19 52h1v1h-1zM39 52h1v1h-1zM44 52h2v1h-2zM47 52h3v1h-3zM3 53h8v1h-8zM13 53h2v1h-2zM16 53h1v1h-1zM18 53h1v1h-1zM21 53h1v1h-1zM24 53h1v1h-1zM31 53h1v1h-1zM36 53h2v1h-2zM42 53h1v1h-1zM44 53h1v1h-1zM46 53h1v1h-1zM49 53h1v1h-1zM4 54h1v1h-1zM6 54h2v1h-2zM9 54h1v1h-1zM12 54h1v1h-1zM16 54h1v1h-1zM31 54h1v1h-1zM38 54h1v1h-1zM45 54h1v1h-1zM47 54h2v1h-2zM6 55h2v1h-2zM12 55h2v1h-2zM18 55h1v1h-1zM21 55h1v1h-1zM26 55h1v1h-1zM29 55h1v1h-1zM35 55h1v1h-1zM42 55h1v1h-1zM45 55h1v1h-1zM49 55h1v1h-1zM4 56h1v1h-1zM7 56h1v1h-1zM10 56h1v1h-1zM18 56h1v1h-1zM20 56h1v1h-1zM25 56h1v1h-1zM34 56h1v1h-1zM41 56h1v1h-1zM43 56h2v1h-2zM49 56h1v1h-1zM6 57h2v1h-2zM10 57h2v1h-2zM13 57h1v1h-1zM16 57h1v1h-1zM21 57h1v1h-1zM23 57h1v1h-1zM29 57h1v1h-1zM36 57h1v1h-1zM38 57h1v1h-1zM41 57h2v1h-2zM7 58h1v1h-1zM9 58h2v1h-2zM15 58h2v1h-2zM30 58h1v1h-1zM44 58h1v1h-1zM47 58h1v1h-1zM3 59h2v1h-2zM7 59h1v1h-1zM9 59h3v1h-3zM13 59h1v1h-1zM16 59h2v1h-2zM19 59h1v1h-1zM22 59h1v1h-1zM25 59h1v1h-1zM31 59h1v1h-1zM37 59h1v1h-1zM39 59h1v1h-1zM43 59h1v1h-1zM48 59h2v1h-2zM4 60h1v1h-1zM6 60h1v1h-1zM11 60h1v1h-1zM14 60h1v1h-1zM18 60h1v1h-1zM28 60h1v1h-1zM35 60h1v1h-1zM40 60h1v1h-1zM45 60h1v1h-1zM48 60h1v1h-1zM5 61h1v1h-1zM8 61h1v1h-1zM11 61h1v1h-1zM26 61h1v1h-1zM33 61h1v1h-1zM42 61h1v1h-1zM4 62h2v1h-2zM9 62h1v1h-1zM13 62h4v1h-4zM18 62h1v1h-1zM27 62h1v1h-1zM37 62h1v1h-1zM41 62h2v1h-2zM4 63h2v1h-2zM8 63h1v1h-1zM11 63h2v1h-2zM14 63h1v1h-1zM16 63h2v1h-2zM19 63h1v1h-1zM26 63h1v1h-1zM28 63h1v1h-1zM32 63h1v1h-1zM34 63h1v1h-1zM36 63h1v1h-1zM38 63h1v1h-1zM44 63h1v1h-1zM46 63h1v1h-1zM48 63h1v1h-1zM14 64h2v1h-2zM20 64h1v1h-1zM22 64h2v1h-2zM25 64h1v1h-1zM29 64h1v1h-1zM32 64h1v1h-1zM36 64h1v1h-1zM47 64h1v1h-1zM5 65h1v1h-1zM9 65h1v1h-1zM13 65h1v1h-1zM21 65h1v1h-1zM25 65h1v1h-1zM28 65h2v1h-2zM44 65h1v1h-1zM48 65h1v1h-1zM5 66h1v1h-1zM7 66h1v1h-1zM9 66h1v1h-1zM11 66h2v1h-2zM21 66h1v1h-1zM32 66h1v1h-1zM40 66h1v1h-1zM45 66h2v1h-2zM9 67h1v1h-1zM11 67h1v1h-1zM13 67h1v1h-1zM16 67h2v1h-2zM23 67h1v1h-1zM27 67h1v1h-1zM34 67h1v1h-1zM46 67h1v1h-1zM3 68h1v1h-1zM17 68h1v1h-1zM23 68h1v1h-1zM33 68h1v1h-1zM46 68h1v1h-1zM49 68h1v1h-1zM5 69h1v1h-1zM8 69h1v1h-1zM12 69h1v1h-1zM14 69h1v1h-1zM16 69h2v1h-2zM20 69h1v1h-1zM22 69h1v1h-1zM25 69h1v1h-1zM34 69h1v1h-1zM40 69h1v1h-1zM46 69h3v1h-3zM7 70h1v1h-1zM9 70h1v1h-1zM15 70h1v1h-1zM17 70h1v1h-1zM22 70h2v1h-2zM26 70h1v1h-1zM39 70h1v1h-1zM41 70h1v1h-1zM46 70h3v1h-3zM5 71h1v1h-1zM8 71h1v1h-1zM10 71h1v1h-1zM18 71h2v1h-2zM23 71h3v1h-3zM40 71h1v1h-1zM42 71h1v1h-1zM45 71h1v1h-1zM2 72h1v1h-1zM7 72h1v1h-1zM9 72h1v1h-1zM19 72h2v1h-2zM33 72h1v1h-1zM45 72h1v1h-1zM48 72h2v1h-2zM4 73h2v1h-2zM8 73h2v1h-2zM12 73h1v1h-1zM16 73h1v1h-1zM19 73h1v1h-1zM32 73h1v1h-1zM34 73h1v1h-1zM43 73h1v1h-1zM8 74h1v1h-1zM11 74h1v1h-1zM21 74h1v1h-1zM40 74h2v1h-2zM46 74h3v1h-3zM8 75h2v1h-2zM24 75h1v1h-1zM29 75h1v1h-1zM34 75h1v1h-1zM49 75h1v1h-1zM7 76h1v1h-1zM22 76h1v1h-1zM29 76h1v1h-1zM38 76h1v1h-1zM42 76h1v1h-1zM44 76h1v1h-1zM47 76h1v1h-1zM13 77h1v1h-1zM25 77h1v1h-1zM27 77h1v1h-1zM31 77h1v1h-1zM34 77h1v1h-1zM43 77h1v1h-1zM47 77h1v1h-1zM49 77h1v1h-1zM14 78h1v1h-1zM18 78h1v1h-1zM35 78h2v1h-2zM38 78h1v1h-1zM46 78h1v1h-1zM4 79h1v1h-1zM8 79h1v1h-1zM13 79h1v1h-1zM22 79h1v1h-1zM45 79h1v1h-1zM3 80h1v1h-1zM11 80h1v1h-1zM13 80h1v1h-1zM16 80h1v1h-1zM27 80h1v1h-1zM34 80h1v1h-1zM43 80h1v1h-1zM48 80h1v1h-1zM3 81h2v1h-2zM12 81h1v1h-1zM17 81h1v1h-1zM23 81h1v1h-1zM28 81h1v1h-1zM32 81h1v1h-1zM35 81h1v1h-1zM39 81h1v1h-1zM41 81h1v1h-1zM6 82h3v1h-3zM12 82h2v1h-2zM38 82h1v1h-1zM40 82h1v1h-1zM42 82h1v1h-1zM5 83h1v1h-1zM8 83h1v1h-1zM11 83h1v1h-1zM13 83h1v1h-1zM18 83h1v1h-1zM20 83h2v1h-2zM24 83h1v1h-1zM29 83h1v1h-1zM40 83h1v1h-1zM42 83h1v1h-1zM45 83h1v1h-1zM6 84h2v1h-2zM12 84h1v1h-1zM20 84h1v1h-1zM26 84h1v1h-1zM38 84h1v1h-1zM40 84h1v1h-1zM43 84h1v1h-1zM45 84h1v1h-1zM7 85h1v1h-1zM19 85h1v1h-1zM24 85h1v1h-1zM28 85h1v1h-1zM35 85h1v1h-1zM37 85h1v1h-1zM41 85h1v1h-1zM44 85h1v1h-1zM46 85h1v1h-1zM49 85h1v1h-1zM8 86h1v1h-1zM10 86h1v1h-1zM12 86h2v1h-2zM21 86h1v1h-1zM42 86h1v1h-1zM44 86h1v1h-1zM4 87h1v1h-1zM13 87h1v1h-1zM16 87h1v1h-1zM33 87h1v1h-1zM39 87h1v1h-1zM46 87h4v1h-4zM5 88h1v1h-1zM13 88h1v1h-1zM16 88h1v1h-1zM21 88h1v1h-1zM24 88h1v1h-1zM41 88h1v1h-1zM45 88h1v1h-1zM48 88h1v1h-1zM8 89h2v1h-2zM12 89h1v1h-1zM15 89h1v1h-1zM19 89h1v1h-1zM42 89h1v1h-1zM44 89h1v1h-1zM48 89h2v1h-2zM12 90h2v1h-2zM20 90h2v1h-2zM49 90h1v1h-1zM5 91h1v1h-1zM8 91h1v1h-1zM13 91h1v1h-1zM41 91h1v1h-1zM44 91h1v1h-1zM49 91h1v1h-1zM3 92h2v1h-2zM11 92h1v1h-1zM15 92h1v1h-1zM20 92h1v1h-1zM26 92h1v1h-1zM28 92h2v1h-2zM31 92h1v1h-1zM46 92h2v1h-2zM3 93h1v1h-1zM11 93h1v1h-1zM17 93h1v1h-1zM21 93h1v1h-1zM27 93h1v1h-1zM31 93h1v1h-1zM36 93h1v1h-1zM38 93h1v1h-1zM41 93h2v1h-2zM44 93h1v1h-1zM6 94h1v1h-1zM10 94h1v1h-1zM13 94h2v1h-2zM19 94h1v1h-1zM22 94h1v1h-1zM26 94h1v1h-1zM28 94h1v1h-1zM33 94h1v1h-1zM43 94h1v1h-1zM47 94h1v1h-1zM7 95h1v1h-1zM10 95h1v1h-1zM20 95h1v1h-1zM35 95h2v1h-2zM40 95h1v1h-1zM49 95h1v1h-1zM8 96h3v1h-3zM16 96h1v1h-1zM20 96h1v1h-1zM40 96h1v1h-1zM43 96h1v1h-1zM45 96h1v1h-1zM27 97h1v1h-1zM35 97h1v1h-1zM41 97h1v1h-1zM43 97h1v1h-1zM47 97h3v1h-3zM3 98h3v1h-3zM13 98h1v1h-1zM29 98h2v1h-2zM34 98h2v1h-2zM40 98h1v1h-1zM46 98h2v1h-2zM4 99h1v1h-1zM7 99h1v1h-1zM21 99h1v1h-1zM23 99h1v1h-1zM29 99h1v1h-1zM37 99h1v1h-1zM47 99h1v1h-1zM4 100h1v1h-1zM6 100h1v1h-1zM11 100h1v1h-1zM13 100h1v1h-1zM30 100h1v1h-1zM42 100h1v1h-1zM44 100h1v1h-1zM8 101h1v1h-1zM10 101h2v1h-2zM13 101h2v1h-2zM17 101h1v1h-1zM20 101h1v1h-1zM22 101h1v1h-1zM33 101h1v1h-1zM44 101h1v1h-1zM47 101h1v1h-1zM5 102h1v1h-1zM17 102h1v1h-1zM20 102h1v1h-1zM35 102h2v1h-2zM38 102h2v1h-2zM43 102h1v1h-1zM46 102h1v1h-1zM5 103h2v1h-2zM10 103h1v1h-1zM12 103h2v1h-2zM15 103h1v1h-1zM20 103h1v1h-1zM42 103h1v1h-1zM44 103h1v1h-1zM49 103h1v1h-1zM12 104h3v1h-3zM18 104h1v1h-1zM21 104h1v1h-1zM30 104h1v1h-1zM32 104h1v1h-1zM35 104h1v1h-1zM37 104h2v1h-2zM41 104h2v1h-2zM45 104h1v1h-1zM7 105h1v1h-1zM10 105h1v1h-1zM13 105h1v1h-1zM18 105h1v1h-1zM21 105h1v1h-1zM30 105h1v1h-1zM35 105h3v1h-3zM42 105h1v1h-1zM45 105h1v1h-1zM49 105h1v1h-1zM3 106h1v1h-1zM7 106h2v1h-2zM15 106h1v1h-1zM18 106h1v1h-1zM26 106h1v1h-1zM30 106h2v1h-2zM44 106h1v1h-1zM46 106h3v1h-3zM7 107h1v1h-1zM9 107h2v1h-2zM17 107h1v1h-1zM23 107h1v1h-1zM27 107h1v1h-1zM30 107h1v1h-1zM35 107h1v1h-1zM44 107h1v1h-1zM49 107h1v1h-1zM7 108h1v1h-1zM9 108h1v1h-1zM12 108h1v1h-1zM14 108h2v1h-2zM27 108h1v1h-1zM33 108h1v1h-1zM39 108h1v1h-1zM42 108h1v1h-1zM46 108h2v1h-2zM4 109h1v1h-1zM14 109h1v1h-1zM23 109h1v1h-1zM26 109h1v1h-1zM29 109h1v1h-1zM31 109h1v1h-1zM35 109h1v1h-1zM41 109h1v1h-1zM43 109h1v1h-1zM45 109h2v1h-2zM49 109h1v1h-1zM4 110h1v1h-1zM10 110h1v1h-1zM25 110h1v1h-1zM27 110h1v1h-1zM41 110h4v1h-4zM46 110h3v1h-3zM7 111h1v1h-1zM19 111h1v1h-1zM31 111h2v1h-2zM42 111h1v1h-1zM46 111h2v1h-2zM9 112h1v1h-1zM12 112h1v1h-1zM16 112h1v1h-1zM23 112h1v1h-1zM29 112h3v1h-3zM33 112h1v1h-1zM43 112h1v1h-1zM46 112h1v1h-1zM14 113h1v1h-1zM22 113h2v1h-2zM29 113h1v1h-1zM32 113h1v1h-1zM42 113h1v1h-1zM47 113h1v1h-1zM4 114h1v1h-1zM7 114h2v1h-2zM10 114h1v1h-1zM15 114h1v1h-1zM17 114h2v1h-2zM24 114h1v1h-1zM27 114h1v1h-1zM34 114h2v1h-2zM38 114h2v1h-2zM42 114h1v1h-1zM49 114h1v1h-1zM15 115h1v1h-1zM18 115h1v1h-1zM20 115h1v1h-1zM22 115h1v1h-1zM25 115h2v1h-2zM32 115h1v1h-1zM41 115h1v1h-1zM45 115h1v1h-1zM26 116h1v1h-1zM32 116h1v1h-1zM35 116h1v1h-1zM42 116h1v1h-1zM44 116h1v1h-1zM46 116h1v1h-1zM3 117h1v1h-1zM5 117h1v1h-1zM9 117h2v1h-2zM14 117h2v1h-2zM22 117h1v1h-1zM40 117h1v1h-1zM42 117h1v1h-1zM44 117h3v1h-3zM40 118h1v1h-1zM49 118h1v1h-1zM6 119h1v1h-1zM10 119h1v1h-1zM14 119h1v1h-1zM27 119h1v1h-1zM29 119h1v1h-1zM32 119h1v1h-1zM36 119h1v1h-1zM44 119h1v1h-1zM48 119h1v1h-1zM12 120h2v1h-2zM26 120h3v1h-3zM42 120h1v1h-1zM44 120h1v1h-1zM47 120h2v1h-2zM8 121h1v1h-1zM11 121h1v1h-1zM15 121h1v1h-1zM29 121h1v1h-1zM32 121h1v1h-1zM41 121h1v1h-1zM43 121h1v1h-1zM45 121h1v1h-1zM47 121h1v1h-1zM4 122h1v1h-1zM10 122h1v1h-1zM15 122h2v1h-2zM21 122h1v1h-1zM24 122h1v1h-1zM26 122h1v1h-1zM31 122h1v1h-1zM45 122h1v1h-1zM49 122h1v1h-1zM14 123h1v1h-1zM19 123h1v1h-1zM27 123h1v1h-1zM45 123h2v1h-2zM3 124h1v1h-1zM5 124h1v1h-1zM13 124h1v1h-1zM18 124h1v1h-1zM34 124h1v1h-1zM39 124h1v1h-1zM42 124h1v1h-1zM44 124h1v1h-1zM5 125h1v1h-1zM8 125h1v1h-1zM20 125h1v1h-1zM25 125h1v1h-1zM28 125h2v1h-2zM42 125h2v1h-2zM45 125h4v1h-4zM11 126h1v1h-1zM22 126h2v1h-2zM36 126h1v1h-1zM43 126h1v1h-1zM48 126h1v1h-1zM8 127h1v1h-1zM11 127h2v1h-2zM18 127h1v1h-1zM22 127h1v1h-1zM32 127h4v1h-4zM43 127h1v1h-1zM49 127h1v1h-1zM5 128h1v1h-1zM13 128h2v1h-2zM25 128h1v1h-1zM28 128h1v1h-1zM31 128h1v1h-1zM34 128h1v1h-1zM36 128h1v1h-1zM38 128h1v1h-1zM41 128h1v1h-1zM45 128h1v1h-1zM15 129h3v1h-3zM19 129h1v1h-1zM23 129h2v1h-2zM28 129h2v1h-2zM32 129h1v1h-1zM45 129h1v1h-1zM4 130h1v1h-1zM6 130h2v1h-2zM12 130h1v1h-1zM16 130h1v1h-1zM21 130h2v1h-2zM24 130h4v1h-4zM29 130h1v1h-1zM39 130h1v1h-1zM47 130h1v1h-1zM49 130h1v1h-1zM4 131h1v1h-1zM12 131h1v1h-1zM14 131h2v1h-2zM18 131h1v1h-1zM25 131h1v1h-1zM27 131h1v1h-1zM29 131h3v1h-3zM36 131h1v1h-1zM40 131h3v1h-3zM44 131h1v1h-1zM48 131h2v1h-2zM14 132h2v1h-2zM17 132h1v1h-1zM21 132h2v1h-2zM36 132h2v1h-2zM44 132h1v1h-1zM5 133h1v1h-1zM11 133h1v1h-1zM13 133h1v1h-1zM15 133h2v1h-2zM21 133h2v1h-2zM24 133h1v1h-1zM26 133h1v1h-1zM33 133h1v1h-1zM36 133h1v1h-1zM39 133h1v1h-1zM44 133h2v1h-2zM48 133h2v1h-2zM5 134h1v1h-1zM11 134h1v1h-1zM14 134h1v1h-1zM18 134h2v1h-2zM23 134h1v1h-1zM26 134h1v1h-1zM29 134h3v1h-3zM35 134h2v1h-2zM41 134h1v1h-1zM45 134h1v1h-1zM49 134h1v1h-1zM10 135h3v1h-3zM14 135h1v1h-1zM17 135h1v1h-1zM19 135h1v1h-1zM22 135h2v1h-2zM25 135h2v1h-2zM28 135h1v1h-1zM31 135h2v1h-2zM34 135h1v1h-1zM37 135h1v1h-1zM39 135h1v1h-1zM42 135h1v1h-1zM44 135h1v1h-1zM46 135h2v1h-2zM2 136h1v1h-1zM4 136h1v1h-1zM13 136h1v1h-1zM18 136h2v1h-2zM22 136h2v1h-2zM26 136h1v1h-1zM28 136h1v1h-1zM30 136h1v1h-1zM34 136h3v1h-3zM38 136h1v1h-1zM42 136h1v1h-1zM44 136h1v1h-1zM3 137h1v1h-1zM5 137h1v1h-1zM14 137h2v1h-2zM25 137h1v1h-1zM28 137h1v1h-1zM30 137h2v1h-2zM33 137h2v1h-2zM37 137h2v1h-2zM40 137h1v1h-1zM42 137h1v1h-1zM49 137h1v1h-1zM12 138h1v1h-1zM15 138h1v1h-1zM17 138h2v1h-2zM23 138h1v1h-1zM29 138h1v1h-1zM31 138h1v1h-1zM36 138h3v1h-3zM41 138h5v1h-5zM49 138h1v1h-1zM16 139h1v1h-1zM19 139h1v1h-1zM23 139h1v1h-1zM27 139h1v1h-1zM31 139h2v1h-2zM49 139h1v1h-1z"/>
<path fill="#fcf0be" d="M4 0h1v1h-1zM10 0h1v1h-1zM14 0h1v1h-1zM19 0h1v1h-1zM24 0h1v1h-1zM30 0h4v1h-4zM35 0h2v1h-2zM39 0h1v1h-1zM44 0h2v1h-2zM4 1h1v1h-1zM8 1h1v1h-1zM10 1h1v1h-1zM20 1h1v1h-1zM25 1h1v1h-1zM34 1h1v1h-1zM40 1h1v1h-1zM44 1h1v1h-1zM47 1h2v1h-2zM17 2h1v1h-1zM20 2h1v1h-1zM24 2h1v1h-1zM28 2h3v1h-3zM32 2h1v1h-1zM35 2h1v1h-1zM37 2h2v1h-2zM41 2h1v1h-1zM46 2h1v1h-1zM19 3h1v1h-1zM22 3h2v1h-2zM25 3h2v1h-2zM31 3h1v1h-1zM33 3h1v1h-1zM35 3h1v1h-1zM41 3h1v1h-1zM46 3h1v1h-1zM9 4h1v1h-1zM11 4h1v1h-1zM16 4h1v1h-1zM18 4h1v1h-1zM23 4h2v1h-2zM26 4h1v1h-1zM31 4h1v1h-1zM35 4h4v1h-4zM41 4h2v1h-2zM49 4h1v1h-1zM3 5h1v1h-1zM5 5h1v1h-1zM13 5h2v1h-2zM23 5h1v1h-1zM27 5h1v1h-1zM6 6h1v1h-1zM14 6h1v1h-1zM20 6h1v1h-1zM27 6h1v1h-1zM29 6h2v1h-2zM32 6h2v1h-2zM35 6h4v1h-4zM42 6h1v1h-1zM44 6h1v1h-1zM47 6h1v1h-1zM49 6h1v1h-1zM5 7h1v1h-1zM8 7h2v1h-2zM16 7h1v1h-1zM18 7h1v1h-1zM21 7h1v1h-1zM29 7h1v1h-1zM35 7h1v1h-1zM43 7h2v1h-2zM48 7h2v1h-2zM4 8h1v1h-1zM13 8h1v1h-1zM15 8h1v1h-1zM30 8h1v1h-1zM40 8h1v1h-1zM45 8h2v1h-2zM49 8h1v1h-1zM4 9h2v1h-2zM7 9h1v1h-1zM13 9h1v1h-1zM17 9h1v1h-1zM22 9h1v1h-1zM32 9h1v1h-1zM44 9h1v1h-1zM46 9h1v1h-1zM49 9h1v1h-1zM6 10h1v1h-1zM15 10h2v1h-2zM19 10h1v1h-1zM21 10h1v1h-1zM31 10h1v1h-1zM35 10h2v1h-2zM38 10h1v1h-1zM46 10h1v1h-1zM3 11h1v1h-1zM6 11h1v1h-1zM8 11h1v1h-1zM10 11h1v1h-1zM15 11h1v1h-1zM23 11h1v1h-1zM36 11h1v1h-1zM39 11h2v1h-2zM43 11h2v1h-2zM47 11h1v1h-1zM5 12h1v1h-1zM12 12h1v1h-1zM19 12h3v1h-3zM25 12h1v1h-1zM27 12h1v1h-1zM31 12h1v1h-1zM34 12h1v1h-1zM40 12h1v1h-1zM48 12h1v1h-1zM8 13h1v1h-1zM20 13h1v1h-1zM23 13h1v1h-1zM29 13h1v1h-1zM33 13h1v1h-1zM35 13h1v1h-1zM38 13h1v1h-1zM43 13h1v1h-1zM45 13h1v1h-1zM47 13h1v1h-1zM49 13h1v1h-1zM5 14h1v1h-1zM8 14h1v1h-1zM11 14h1v1h-1zM22 14h1v1h-1zM25 14h3v1h-3zM32 14h2v1h-2zM37 14h1v1h-1zM39 14h1v1h-1zM43 14h1v1h-1zM46 14h2v1h-2zM3 15h1v1h-1zM10 15h3v1h-3zM14 15h1v1h-1zM19 15h4v1h-4zM24 15h1v1h-1zM26 15h2v1h-2zM33 15h1v1h-1zM47 15h1v1h-1zM10 16h1v1h-1zM18 16h1v1h-1zM23 16h1v1h-1zM36 16h1v1h-1zM43 16h1v1h-1zM45 16h3v1h-3zM9 17h3v1h-3zM22 17h1v1h-1zM24 17h1v1h-1zM43 17h1v1h-1zM3 18h1v1h-1zM10 18h3v1h-3zM14 18h1v1h-1zM16 18h1v1h-1zM18 18h1v1h-1zM25 18h1v1h-1zM28 18h1v1h-1zM30 18h1v1h-1zM37 18h2v1h-2zM44 18h3v1h-3zM49 18h1v1h-1zM3 19h1v1h-1zM8 19h2v1h-2zM15 19h2v1h-2zM24 19h1v1h-1zM27 19h1v1h-1zM29 19h3v1h-3zM33 19h1v1h-1zM36 19h1v1h-1zM40 19h1v1h-1zM44 19h1v1h-1zM47 19h1v1h-1zM49 19h1v1h-1zM9 20h1v1h-1zM19 20h1v1h-1zM34 20h2v1h-2zM39 20h1v1h-1zM45 20h1v1h-1zM6 21h1v1h-1zM10 21h1v1h-1zM13 21h1v1h-1zM20 21h1v1h-1zM23 21h1v1h-1zM26 21h1v1h-1zM30 21h1v1h-1zM35 21h1v1h-1zM39 21h1v1h-1zM42 21h2v1h-2zM10 22h5v1h-5zM21 22h1v1h-1zM23 22h2v1h-2zM27 22h1v1h-1zM33 22h1v1h-1zM47 22h1v1h-1zM6 23h2v1h-2zM10 23h1v1h-1zM12 23h2v1h-2zM15 23h1v1h-1zM18 23h1v1h-1zM21 23h1v1h-1zM25 23h1v1h-1zM28 23h2v1h-2zM33 23h1v1h-1zM41 23h1v1h-1zM47 23h1v1h-1zM49 23h1v1h-1zM4 24h6v1h-6zM12 24h1v1h-1zM19 24h1v1h-1zM21 24h2v1h-2zM26 24h1v1h-1zM29 24h2v1h-2zM32 24h1v1h-1zM36 24h1v1h-1zM40 24h1v1h-1zM44 24h1v1h-1zM49 24h1v1h-1zM6 25h1v1h-1zM8 25h1v1h-1zM10 25h1v1h-1zM14 25h1v1h-1zM19 25h1v1h-1zM22 25h2v1h-2zM30 25h1v1h-1zM44 25h1v1h-1zM49 25h1v1h-1zM4 26h1v1h-1zM7 26h1v1h-1zM10 26h1v1h-1zM14 26h2v1h-2zM20 26h1v1h-1zM22 26h1v1h-1zM25 26h1v1h-1zM29 26h2v1h-2zM32 26h3v1h-3zM37 26h2v1h-2zM45 26h1v1h-1zM17 27h2v1h-2zM21 27h2v1h-2zM27 27h1v1h-1zM32 27h1v1h-1zM39 27h1v1h-1zM45 27h1v1h-1zM47 27h1v1h-1zM49 27h1v1h-1zM4 28h1v1h-1zM6 28h1v1h-1zM8 28h1v1h-1zM11 28h1v1h-1zM14 28h1v1h-1zM18 28h1v1h-1zM20 28h2v1h-2zM27 28h1v1h-1zM35 28h1v1h-1zM38 28h1v1h-1zM41 28h1v1h-1zM48 28h1v1h-1zM5 29h1v1h-1zM8 29h2v1h-2zM11 29h2v1h-2zM17 29h1v1h-1zM19 29h1v1h-1zM22 29h1v1h-1zM24 29h1v1h-1zM28 29h1v1h-1zM30 29h1v1h-1zM34 29h1v1h-1zM41 29h1v1h-1zM43 29h3v1h-3zM49 29h1v1h-1zM6 30h1v1h-1zM13 30h1v1h-1zM17 30h3v1h-3zM22 30h1v1h-1zM27 30h2v1h-2zM47 30h1v1h-1zM10 31h1v1h-1zM16 31h1v1h-1zM22 31h1v1h-1zM32 31h2v1h-2zM40 31h2v1h-2zM45 31h1v1h-1zM49 31h1v1h-1zM7 32h2v1h-2zM15 32h1v1h-1zM17 32h1v1h-1zM21 32h1v1h-1zM25 32h1v1h-1zM27 32h1v1h-1zM29 32h1v1h-1zM31 32h2v1h-2zM37 32h1v1h-1zM41 32h1v1h-1zM44 32h1v1h-1zM46 32h2v1h-2zM49 32h1v1h-1zM4 33h1v1h-1zM7 33h2v1h-2zM10 33h1v1h-1zM19 33h1v1h-1zM21 33h1v1h-1zM24 33h1v1h-1zM29 33h1v1h-1zM34 33h2v1h-2zM37 33h1v1h-1zM41 33h1v1h-1zM44 33h1v1h-1zM46 33h1v1h-1zM48 33h2v1h-2zM5 34h1v1h-1zM13 34h1v1h-1zM17 34h1v1h-1zM20 34h1v1h-1zM22 34h1v1h-1zM29 34h2v1h-2zM34 34h1v1h-1zM38 34h1v1h-1zM47 34h2v1h-2zM11 35h2v1h-2zM14 35h1v1h-1zM17 35h1v1h-1zM23 35h1v1h-1zM32 35h3v1h-3zM36 35h1v1h-1zM45 35h1v1h-1zM48 35h2v1h-2zM8 36h1v1h-1zM11 36h1v1h-1zM13 36h1v1h-1zM22 36h1v1h-1zM30 36h1v1h-1zM42 36h1v1h-1zM44 36h1v1h-1zM49 36h1v1h-1zM21 37h1v1h-1zM31 37h1v1h-1zM37 37h1v1h-1zM41 37h1v1h-1zM45 37h1v1h-1zM49 37h1v1h-1zM8 38h1v1h-1zM17 38h2v1h-2zM22 38h1v1h-1zM30 38h1v1h-1zM36 38h3v1h-3zM46 38h1v1h-1zM49 38h1v1h-1zM9 39h1v1h-1zM16 39h1v1h-1zM18 39h1v1h-1zM34 39h1v1h-1zM40 39h2v1h-2zM46 39h1v1h-1zM48 39h1v1h-1zM5 40h1v1h-1zM16 40h1v1h-1zM27 40h1v1h-1zM34 40h1v1h-1zM41 40h1v1h-1zM49 40h1v1h-1zM9 41h2v1h-2zM17 41h1v1h-1zM19 41h1v1h-1zM27 41h3v1h-3zM32 41h3v1h-3zM38 41h1v1h-1zM43 41h2v1h-2zM47 41h2v1h-2zM3 42h1v1h-1zM7 42h1v1h-1zM11 42h1v1h-1zM17 42h1v1h-1zM20 42h1v1h-1zM23 42h1v1h-1zM25 42h1v1h-1zM30 42h1v1h-1zM33 42h1v1h-1zM35 42h1v1h-1zM3 43h1v1h-1zM5 43h1v1h-1zM11 43h1v1h-1zM16 43h1v1h-1zM18 43h1v1h-1zM23 43h1v1h-1zM27 43h1v1h-1zM29 43h2v1h-2zM32 43h1v1h-1zM42 43h1v1h-1zM44 43h1v1h-1zM10 44h1v1h-1zM15 44h2v1h-2zM19 44h1v1h-1zM24 44h5v1h-5zM38 44h1v1h-1zM40 44h1v1h-1zM42 44h1v1h-1zM45 44h2v1h-2zM9 45h1v1h-1zM16 45h3v1h-3zM20 45h1v1h-1zM28 45h1v1h-1zM30 45h1v1h-1zM33 45h1v1h-1zM43 45h1v1h-1zM45 45h1v1h-1zM47 45h2v1h-2zM3 46h1v1h-1zM5 46h1v1h-1zM10 46h2v1h-2zM13 46h2v1h-2zM29 46h1v1h-1zM33 46h1v1h-1zM12 47h2v1h-2zM16 47h1v1h-1zM18 47h2v1h-2zM21 47h1v1h-1zM40 47h2v1h-2zM44 47h2v1h-2zM48 47h2v1h-2zM4 48h1v1h-1zM8 48h1v1h-1zM10 48h2v1h-2zM13 48h1v1h-1zM20 48h2v1h-2zM31 48h1v1h-1zM41 48h1v1h-1zM5 49h1v1h-1zM19 49h1v1h-1zM25 49h1v1h-1zM27 49h1v1h-1zM30 49h1v1h-1zM40 49h1v1h-1zM42 49h1v1h-1zM49 49h1v1h-1zM7 50h1v1h-1zM11 50h1v1h-1zM13 50h1v1h-1zM42 50h3v1h-3zM5 51h1v1h-1zM8 51h1v1h-1zM10 51h1v1h-1zM21 51h1v1h-1zM28 51h2v1h-2zM34 51h1v1h-1zM43 51h1v1h-1zM45 51h1v1h-1zM8 52h1v1h-1zM13 52h1v1h-1zM17 52h1v1h-1zM21 52h1v1h-1zM29 52h1v1h-1zM33 52h2v1h-2zM36 52h1v1h-1zM0 53h1v1h-1zM12 53h1v1h-1zM15 53h1v1h-1zM19 53h1v1h-1zM22 53h1v1h-1zM27 53h2v1h-2zM14 54h1v1h-1zM17 54h1v1h-1zM21 54h2v1h-2zM28 54h1v1h-1zM43 54h2v1h-2zM9 55h1v1h-1zM11 55h1v1h-1zM14 55h1v1h-1zM16 55h1v1h-1zM19 55h1v1h-1zM22 55h1v1h-1zM33 55h1v1h-1zM5 56h1v1h-1zM8 56h2v1h-2zM12 56h1v1h-1zM15 56h3v1h-3zM21 56h1v1h-1zM26 56h1v1h-1zM32 56h2v1h-2zM38 56h1v1h-1zM40 56h1v1h-1zM3 57h1v1h-1zM5 57h1v1h-1zM12 57h1v1h-1zM15 57h1v1h-1zM22 57h1v1h-1zM31 57h1v1h-1zM49 57h1v1h-1zM3 58h2v1h-2zM6 58h1v1h-1zM8 58h1v1h-1zM14 58h1v1h-1zM18 58h1v1h-1zM21 58h1v1h-1zM24 58h1v1h-1zM37 58h1v1h-1zM42 58h1v1h-1zM45 58h2v1h-2zM8 59h1v1h-1zM18 59h1v1h-1zM23 59h1v1h-1zM26 59h2v1h-2zM44 59h1v1h-1zM47 59h1v1h-1zM5 60h1v1h-1zM8 60h1v1h-1zM15 60h3v1h-3zM20 60h1v1h-1zM22 60h1v1h-1zM30 60h1v1h-1zM33 60h2v1h-2zM36 60h1v1h-1zM46 60h1v1h-1zM10 61h1v1h-1zM14 61h1v1h-1zM22 61h2v1h-2zM27 61h1v1h-1zM43 61h1v1h-1zM46 61h2v1h-2zM6 62h2v1h-2zM10 62h1v1h-1zM12 62h1v1h-1zM20 62h1v1h-1zM23 62h1v1h-1zM28 62h1v1h-1zM30 62h1v1h-1zM33 62h1v1h-1zM35 62h1v1h-1zM43 62h2v1h-2zM47 62h1v1h-1zM7 63h1v1h-1zM9 63h2v1h-2zM13 63h1v1h-1zM15 63h1v1h-1zM20 63h1v1h-1zM42 63h2v1h-2zM5 64h2v1h-2zM9 64h1v1h-1zM18 64h2v1h-2zM21 64h1v1h-1zM24 64h1v1h-1zM45 64h1v1h-1zM48 64h2v1h-2zM3 65h1v1h-1zM6 65h1v1h-1zM10 65h3v1h-3zM15 65h1v1h-1zM36 65h1v1h-1zM42 65h1v1h-1zM49 65h1v1h-1zM3 66h1v1h-1zM10 66h1v1h-1zM18 66h1v1h-1zM20 66h1v1h-1zM23 66h2v1h-2zM48 66h1v1h-1zM10 67h1v1h-1zM14 67h1v1h-1zM18 67h1v1h-1zM20 67h3v1h-3zM31 67h2v1h-2zM44 67h1v1h-1zM8 68h1v1h-1zM11 68h1v1h-1zM15 68h2v1h-2zM21 68h1v1h-1zM35 68h2v1h-2zM11 69h1v1h-1zM24 69h1v1h-1zM27 69h1v1h-1zM44 69h1v1h-1zM4 70h1v1h-1zM13 70h1v1h-1zM19 70h3v1h-3zM25 70h1v1h-1zM32 70h1v1h-1zM37 70h1v1h-1zM44 70h2v1h-2zM7 71h1v1h-1zM17 71h1v1h-1zM21 71h1v1h-1zM43 71h1v1h-1zM12 72h1v1h-1zM14 72h4v1h-4zM24 72h2v1h-2zM27 72h1v1h-1zM43 72h1v1h-1zM46 72h2v1h-2zM13 73h1v1h-1zM17 73h1v1h-1zM21 73h3v1h-3zM46 73h1v1h-1zM6 74h1v1h-1zM12 74h1v1h-1zM15 74h2v1h-2zM19 74h2v1h-2zM23 74h1v1h-1zM30 74h1v1h-1zM33 74h1v1h-1zM42 74h1v1h-1zM32 75h2v1h-2zM36 75h1v1h-1zM42 75h1v1h-1zM47 75h2v1h-2zM12 76h1v1h-1zM31 76h1v1h-1zM36 76h1v1h-1zM39 76h1v1h-1zM45 76h1v1h-1zM49 76h1v1h-1zM12 77h1v1h-1zM17 77h1v1h-1zM20 77h1v1h-1zM23 77h1v1h-1zM44 77h1v1h-1zM3 78h1v1h-1zM8 78h1v1h-1zM10 78h1v1h-1zM21 78h1v1h-1zM26 78h1v1h-1zM32 78h1v1h-1zM40 78h1v1h-1zM11 79h1v1h-1zM18 79h1v1h-1zM20 79h1v1h-1zM28 79h1v1h-1zM37 79h1v1h-1zM40 79h1v1h-1zM42 79h1v1h-1zM46 79h1v1h-1zM48 79h1v1h-1zM12 80h1v1h-1zM24 80h1v1h-1zM33 80h1v1h-1zM44 80h1v1h-1zM47 80h1v1h-1zM49 80h1v1h-1zM10 81h1v1h-1zM37 81h1v1h-1zM43 81h2v1h-2zM48 81h1v1h-1zM9 82h1v1h-1zM29 82h1v1h-1zM36 82h1v1h-1zM41 82h1v1h-1zM43 82h1v1h-1zM45 82h1v1h-1zM48 82h1v1h-1zM10 83h1v1h-1zM17 83h1v1h-1zM41 83h1v1h-1zM43 83h2v1h-2zM3 84h1v1h-1zM13 84h1v1h-1zM27 84h2v1h-2zM30 84h1v1h-1zM32 84h1v1h-1zM46 84h1v1h-1zM12 85h1v1h-1zM21 85h2v1h-2zM3 86h1v1h-1zM7 86h1v1h-1zM9 86h1v1h-1zM18 86h1v1h-1zM30 86h1v1h-1zM46 86h1v1h-1zM18 87h2v1h-2zM21 87h1v1h-1zM27 87h1v1h-1zM41 87h3v1h-3zM45 87h1v1h-1zM8 88h1v1h-1zM11 88h1v1h-1zM32 88h1v1h-1zM39 88h2v1h-2zM42 88h2v1h-2zM46 88h1v1h-1zM7 89h1v1h-1zM21 89h1v1h-1zM26 89h1v1h-1zM29 89h1v1h-1zM31 89h4v1h-4zM37 89h1v1h-1zM45 89h1v1h-1zM10 90h2v1h-2zM17 90h1v1h-1zM27 90h2v1h-2zM33 90h1v1h-1zM46 90h1v1h-1zM9 91h1v1h-1zM22 91h1v1h-1zM40 91h1v1h-1zM43 91h1v1h-1zM45 91h2v1h-2zM48 91h1v1h-1zM7 92h1v1h-1zM21 92h1v1h-1zM23 92h1v1h-1zM33 92h1v1h-1zM26 93h1v1h-1zM35 93h1v1h-1zM46 93h1v1h-1zM4 94h1v1h-1zM8 94h1v1h-1zM40 94h1v1h-1zM44 94h2v1h-2zM11 95h1v1h-1zM23 95h1v1h-1zM25 95h1v1h-1zM31 95h1v1h-1zM43 95h4v1h-4zM39 96h1v1h-1zM42 96h1v1h-1zM46 96h1v1h-1zM48 96h1v1h-1zM13 97h2v1h-2zM33 97h1v1h-1zM45 97h1v1h-1zM9 98h1v1h-1zM15 98h1v1h-1zM21 98h1v1h-1zM26 98h1v1h-1zM37 98h1v1h-1zM43 98h2v1h-2zM3 99h1v1h-1zM10 99h1v1h-1zM13 99h2v1h-2zM26 99h1v1h-1zM42 99h1v1h-1zM45 99h2v1h-2zM48 99h2v1h-2zM9 100h1v1h-1zM12 100h1v1h-1zM16 100h1v1h-1zM22 100h1v1h-1zM45 100h2v1h-2zM5 101h1v1h-1zM25 101h1v1h-1zM41 101h1v1h-1zM13 102h2v1h-2zM23 102h1v1h-1zM31 102h1v1h-1zM42 102h1v1h-1zM48 102h2v1h-2zM16 103h1v1h-1zM18 103h1v1h-1zM21 103h2v1h-2zM30 103h1v1h-1zM35 103h1v1h-1zM43 103h1v1h-1zM46 103h1v1h-1zM48 103h1v1h-1zM8 104h2v1h-2zM15 104h1v1h-1zM40 104h1v1h-1zM47 104h1v1h-1zM49 104h1v1h-1zM8 105h1v1h-1zM16 105h1v1h-1zM28 105h1v1h-1zM46 105h2v1h-2zM4 106h1v1h-1zM13 106h1v1h-1zM41 106h1v1h-1zM4 107h1v1h-1zM11 107h1v1h-1zM16 107h1v1h-1zM24 107h1v1h-1zM31 107h3v1h-3zM38 107h1v1h-1zM42 107h1v1h-1zM45 107h3v1h-3zM28 108h3v1h-3zM43 108h3v1h-3zM48 108h1v1h-1zM30 109h1v1h-1zM44 109h1v1h-1zM48 109h1v1h-1zM9 110h1v1h-1zM14 110h1v1h-1zM19 110h1v1h-1zM31 110h1v1h-1zM34 110h1v1h-1zM37 110h1v1h-1zM15 111h1v1h-1zM39 111h1v1h-1zM5 112h1v1h-1zM8 112h1v1h-1zM14 112h1v1h-1zM42 112h1v1h-1zM48 112h2v1h-2zM16 113h1v1h-1zM34 113h1v1h-1zM37 113h1v1h-1zM39 113h2v1h-2zM3 114h1v1h-1zM9 114h1v1h-1zM21 114h2v1h-2zM30 114h1v1h-1zM40 114h1v1h-1zM44 114h2v1h-2zM29 115h1v1h-1zM42 115h1v1h-1zM8 116h1v1h-1zM13 116h2v1h-2zM27 116h2v1h-2zM30 116h1v1h-1zM38 117h1v1h-1zM43 117h1v1h-1zM6 118h2v1h-2zM36 118h1v1h-1zM43 118h2v1h-2zM3 119h1v1h-1zM11 119h2v1h-2zM15 119h1v1h-1zM25 119h1v1h-1zM39 119h1v1h-1zM42 119h2v1h-2zM18 120h1v1h-1zM32 120h1v1h-1zM36 120h1v1h-1zM45 120h2v1h-2zM16 121h1v1h-1zM26 121h1v1h-1zM40 121h1v1h-1zM46 121h1v1h-1zM48 121h2v1h-2zM17 122h2v1h-2zM32 122h1v1h-1zM39 122h1v1h-1zM42 122h1v1h-1zM13 123h1v1h-1zM32 123h1v1h-1zM38 123h1v1h-1zM40 123h1v1h-1zM42 123h1v1h-1zM44 123h1v1h-1zM49 123h1v1h-1zM7 124h1v1h-1zM11 124h1v1h-1zM16 124h1v1h-1zM38 124h1v1h-1zM45 124h3v1h-3zM49 124h1v1h-1zM12 125h1v1h-1zM22 125h1v1h-1zM27 125h1v1h-1zM33 125h1v1h-1zM35 125h1v1h-1zM41 125h1v1h-1zM6 126h1v1h-1zM8 126h1v1h-1zM10 126h1v1h-1zM32 126h1v1h-1zM38 126h1v1h-1zM41 126h2v1h-2zM47 126h1v1h-1zM19 127h1v1h-1zM28 127h1v1h-1zM42 127h1v1h-1zM45 127h1v1h-1zM47 127h1v1h-1zM7 128h1v1h-1zM10 128h1v1h-1zM16 128h1v1h-1zM24 128h1v1h-1zM26 128h2v1h-2zM29 128h1v1h-1zM32 128h1v1h-1zM39 128h1v1h-1zM47 128h1v1h-1zM3 129h1v1h-1zM8 129h1v1h-1zM14 129h1v1h-1zM18 129h1v1h-1zM20 129h1v1h-1zM36 129h3v1h-3zM40 129h1v1h-1zM44 129h1v1h-1zM47 129h1v1h-1zM14 130h1v1h-1zM17 130h1v1h-1zM36 130h1v1h-1zM41 130h1v1h-1zM43 130h3v1h-3zM48 130h1v1h-1zM17 131h1v1h-1zM37 131h1v1h-1zM43 131h1v1h-1zM45 131h1v1h-1zM6 132h1v1h-1zM8 132h1v1h-1zM16 132h1v1h-1zM20 132h1v1h-1zM23 132h1v1h-1zM25 132h1v1h-1zM30 132h1v1h-1zM32 132h1v1h-1zM40 132h2v1h-2zM45 132h2v1h-2zM49 132h1v1h-1zM8 133h1v1h-1zM19 133h1v1h-1zM29 133h2v1h-2zM41 133h1v1h-1zM43 133h1v1h-1zM46 133h2v1h-2zM7 134h2v1h-2zM17 134h1v1h-1zM22 134h1v1h-1zM32 134h3v1h-3zM44 134h1v1h-1zM29 135h1v1h-1zM33 135h1v1h-1zM35 135h1v1h-1zM48 135h1v1h-1zM14 136h1v1h-1zM17 136h1v1h-1zM20 136h2v1h-2zM24 136h2v1h-2zM27 136h1v1h-1zM29 136h1v1h-1zM37 136h1v1h-1zM39 136h1v1h-1zM16 137h2v1h-2zM19 137h1v1h-1zM22 137h3v1h-3zM26 137h2v1h-2zM36 137h1v1h-1zM6 138h1v1h-1zM9 138h1v1h-1zM14 138h1v1h-1zM20 138h3v1h-3zM26 138h1v1h-1zM30 138h1v1h-1zM33 138h1v1h-1zM39 138h2v1h-2zM46 138h2v1h-2zM3 139h1v1h-1zM12 139h1v1h-1zM14 139h2v1h-2zM20 139h3v1h-3zM24 139h2v1h-2zM28 139h1v1h-1zM41 139h1v1h-1z"/>
<path fill="#fdeaad" d="M15 0h1v1h-1zM22 0h1v1h-1zM48 0h1v1h-1zM7 1h1v1h-1zM15 1h1v1h-1zM17 1h1v1h-1zM32 1h1v1h-1zM49 1h1v1h-1zM34 2h1v1h-1zM39 2h1v1h-1zM28 3h1v1h-1zM25 4h1v1h-1zM30 4h1v1h-1zM33 4h1v1h-1zM43 4h1v1h-1zM9 5h1v1h-1zM12 5h1v1h-1zM16 5h3v1h-3zM31 5h2v1h-2zM3 6h1v1h-1zM9 6h1v1h-1zM27 7h1v1h-1zM46 7h1v1h-1zM3 8h1v1h-1zM7 8h2v1h-2zM16 8h1v1h-1zM20 8h2v1h-2zM26 8h1v1h-1zM47 8h1v1h-1zM16 9h1v1h-1zM21 9h1v1h-1zM36 9h1v1h-1zM11 10h1v1h-1zM30 10h1v1h-1zM39 10h1v1h-1zM45 10h1v1h-1zM29 11h1v1h-1zM46 11h1v1h-1zM3 12h1v1h-1zM6 12h1v1h-1zM8 12h2v1h-2zM13 12h2v1h-2zM37 12h1v1h-1zM46 12h1v1h-1zM4 13h2v1h-2zM16 13h1v1h-1zM24 13h1v1h-1zM48 13h1v1h-1zM10 14h1v1h-1zM15 14h1v1h-1zM30 14h1v1h-1zM48 14h1v1h-1zM29 15h1v1h-1zM31 15h1v1h-1zM38 15h1v1h-1zM45 15h1v1h-1zM19 16h1v1h-1zM30 16h1v1h-1zM33 16h1v1h-1zM48 16h1v1h-1zM38 17h1v1h-1zM40 17h1v1h-1zM6 18h1v1h-1zM15 18h1v1h-1zM19 18h1v1h-1zM24 18h1v1h-1zM26 18h1v1h-1zM39 18h1v1h-1zM10 19h1v1h-1zM28 19h1v1h-1zM34 19h1v1h-1zM46 19h1v1h-1zM13 20h1v1h-1zM20 20h1v1h-1zM30 20h1v1h-1zM32 20h1v1h-1zM42 20h1v1h-1zM44 20h1v1h-1zM11 21h2v1h-2zM22 21h1v1h-1zM49 21h1v1h-1zM28 22h1v1h-1zM40 22h1v1h-1zM42 22h2v1h-2zM5 23h1v1h-1zM8 23h1v1h-1zM42 23h1v1h-1zM13 24h1v1h-1zM15 24h1v1h-1zM18 24h1v1h-1zM27 24h1v1h-1zM35 24h1v1h-1zM37 24h1v1h-1zM41 24h1v1h-1zM4 25h1v1h-1zM13 25h1v1h-1zM21 25h1v1h-1zM47 25h1v1h-1zM17 26h2v1h-2zM31 26h1v1h-1zM8 27h1v1h-1zM46 27h1v1h-1zM48 27h1v1h-1zM7 28h1v1h-1zM10 28h1v1h-1zM13 28h1v1h-1zM24 28h1v1h-1zM31 28h1v1h-1zM34 28h1v1h-1zM37 28h1v1h-1zM39 28h1v1h-1zM49 28h1v1h-1zM18 29h1v1h-1zM21 29h1v1h-1zM35 29h1v1h-1zM5 30h1v1h-1zM15 30h1v1h-1zM21 30h1v1h-1zM30 30h1v1h-1zM39 30h1v1h-1zM46 30h1v1h-1zM9 31h1v1h-1zM11 31h1v1h-1zM37 31h1v1h-1zM42 31h1v1h-1zM46 31h1v1h-1zM10 32h1v1h-1zM26 32h1v1h-1zM34 32h1v1h-1zM12 33h1v1h-1zM15 33h1v1h-1zM25 33h1v1h-1zM7 34h1v1h-1zM10 34h1v1h-1zM12 34h1v1h-1zM28 34h1v1h-1zM36 34h1v1h-1zM44 34h1v1h-1zM8 35h1v1h-1zM10 35h1v1h-1zM18 35h1v1h-1zM21 35h1v1h-1zM26 35h1v1h-1zM29 35h1v1h-1zM38 35h1v1h-1zM7 36h1v1h-1zM12 36h1v1h-1zM20 36h2v1h-2zM24 36h1v1h-1zM40 36h2v1h-2zM48 36h1v1h-1zM9 37h1v1h-1zM27 37h1v1h-1zM38 37h1v1h-1zM47 37h1v1h-1zM9 38h1v1h-1zM23 38h1v1h-1zM13 39h1v1h-1zM15 39h1v1h-1zM22 39h1v1h-1zM36 39h1v1h-1zM6 40h2v1h-2zM15 40h1v1h-1zM24 40h1v1h-1zM46 40h2v1h-2zM8 41h1v1h-1zM24 41h2v1h-2zM6 42h1v1h-1zM10 42h1v1h-1zM13 42h1v1h-1zM15 42h1v1h-1zM31 42h1v1h-1zM10 43h1v1h-1zM17 43h1v1h-1zM22 43h1v1h-1zM37 43h1v1h-1zM40 43h1v1h-1zM49 43h1v1h-1zM29 44h1v1h-1zM44 44h1v1h-1zM5 45h1v1h-1zM36 45h1v1h-1zM46 45h1v1h-1zM8 46h1v1h-1zM43 46h1v1h-1zM46 46h1v1h-1zM0 47h1v1h-1zM22 47h1v1h-1zM27 47h1v1h-1zM32 47h1v1h-1zM37 47h2v1h-2zM17 48h1v1h-1zM33 48h1v1h-1zM48 48h2v1h-2zM3 49h1v1h-1zM8 49h1v1h-1zM11 49h1v1h-1zM14 50h1v1h-1zM47 50h1v1h-1zM18 51h1v1h-1zM32 51h1v1h-1zM48 51h1v1h-1zM15 52h1v1h-1zM30 52h1v1h-1zM2 53h1v1h-1zM23 53h1v1h-1zM43 53h1v1h-1zM10 54h1v1h-1zM15 54h1v1h-1zM20 54h1v1h-1zM42 54h1v1h-1zM8 55h1v1h-1zM10 55h1v1h-1zM15 55h1v1h-1zM20 55h1v1h-1zM38 55h2v1h-2zM43 55h1v1h-1zM48 55h1v1h-1zM6 56h1v1h-1zM11 56h1v1h-1zM13 56h2v1h-2zM23 56h1v1h-1zM19 57h1v1h-1zM30 57h1v1h-1zM44 57h1v1h-1zM28 58h1v1h-1zM39 58h1v1h-1zM49 58h1v1h-1zM12 59h1v1h-1zM14 59h1v1h-1zM46 59h1v1h-1zM9 60h1v1h-1zM13 60h1v1h-1zM26 60h1v1h-1zM49 60h1v1h-1zM4 61h1v1h-1zM12 61h1v1h-1zM15 61h1v1h-1zM17 61h1v1h-1zM19 61h1v1h-1zM44 61h1v1h-1zM1 62h1v1h-1zM3 62h1v1h-1zM11 62h1v1h-1zM22 62h1v1h-1zM26 62h1v1h-1zM31 62h1v1h-1zM38 62h1v1h-1zM45 62h1v1h-1zM23 63h1v1h-1zM25 63h1v1h-1zM7 64h1v1h-1zM16 64h2v1h-2zM7 65h1v1h-1zM19 65h2v1h-2zM22 65h1v1h-1zM40 65h1v1h-1zM15 66h1v1h-1zM22 66h1v1h-1zM30 66h1v1h-1zM42 66h1v1h-1zM1 67h1v1h-1zM15 67h1v1h-1zM42 67h1v1h-1zM10 68h1v1h-1zM19 68h1v1h-1zM38 68h1v1h-1zM43 68h1v1h-1zM9 69h1v1h-1zM18 69h1v1h-1zM21 69h1v1h-1zM30 69h1v1h-1zM37 69h1v1h-1zM6 70h1v1h-1zM12 70h1v1h-1zM43 70h1v1h-1zM11 71h1v1h-1zM13 71h1v1h-1zM44 71h1v1h-1zM49 71h1v1h-1zM11 72h1v1h-1zM23 72h1v1h-1zM26 72h1v1h-1zM42 72h1v1h-1zM14 73h1v1h-1zM37 73h1v1h-1zM49 73h1v1h-1zM5 74h1v1h-1zM43 74h1v1h-1zM3 75h1v1h-1zM12 75h1v1h-1zM44 75h1v1h-1zM13 76h1v1h-1zM4 77h1v1h-1zM6 77h1v1h-1zM37 77h1v1h-1zM42 77h1v1h-1zM48 77h1v1h-1zM4 78h1v1h-1zM13 78h1v1h-1zM43 78h1v1h-1zM45 78h1v1h-1zM47 78h1v1h-1zM10 79h1v1h-1zM15 79h1v1h-1zM44 79h1v1h-1zM0 80h1v1h-1zM2 80h1v1h-1zM6 80h1v1h-1zM42 80h1v1h-1zM46 80h1v1h-1zM40 81h1v1h-1zM46 81h2v1h-2zM3 82h1v1h-1zM17 82h1v1h-1zM39 82h1v1h-1zM9 83h1v1h-1zM14 83h1v1h-1zM38 83h1v1h-1zM19 84h1v1h-1zM21 84h1v1h-1zM35 84h1v1h-1zM18 85h1v1h-1zM39 85h1v1h-1zM43 85h1v1h-1zM47 85h1v1h-1zM16 86h1v1h-1zM33 86h1v1h-1zM48 86h2v1h-2zM31 87h1v1h-1zM34 87h1v1h-1zM4 88h1v1h-1zM30 88h1v1h-1zM36 88h1v1h-1zM0 90h2v1h-2zM8 90h1v1h-1zM19 90h1v1h-1zM43 90h1v1h-1zM24 91h1v1h-1zM29 91h1v1h-1zM33 91h1v1h-1zM47 91h1v1h-1zM12 92h1v1h-1zM24 92h1v1h-1zM27 92h1v1h-1zM37 92h1v1h-1zM44 92h1v1h-1zM14 93h1v1h-1zM43 93h1v1h-1zM12 94h1v1h-1zM41 94h1v1h-1zM4 95h1v1h-1zM16 95h1v1h-1zM26 95h1v1h-1zM44 96h1v1h-1zM6 97h1v1h-1zM20 97h1v1h-1zM44 97h1v1h-1zM49 98h1v1h-1zM12 99h1v1h-1zM20 99h1v1h-1zM44 99h1v1h-1zM19 100h1v1h-1zM24 100h1v1h-1zM29 100h1v1h-1zM32 100h1v1h-1zM27 101h1v1h-1zM30 101h1v1h-1zM42 101h2v1h-2zM46 101h1v1h-1zM9 102h1v1h-1zM11 102h2v1h-2zM8 103h1v1h-1zM28 103h1v1h-1zM11 104h1v1h-1zM44 104h1v1h-1zM48 104h1v1h-1zM9 105h1v1h-1zM19 105h1v1h-1zM34 105h1v1h-1zM41 105h1v1h-1zM35 106h1v1h-1zM40 106h1v1h-1zM15 107h1v1h-1zM22 108h2v1h-2zM3 109h1v1h-1zM5 110h1v1h-1zM16 110h1v1h-1zM49 110h1v1h-1zM44 111h2v1h-2zM21 113h1v1h-1zM45 113h2v1h-2zM5 115h1v1h-1zM28 115h1v1h-1zM11 116h1v1h-1zM21 117h1v1h-1zM49 117h1v1h-1zM5 118h1v1h-1zM17 118h1v1h-1zM32 118h1v1h-1zM34 118h1v1h-1zM45 118h1v1h-1zM48 118h1v1h-1zM16 119h1v1h-1zM47 119h1v1h-1zM43 120h1v1h-1zM20 122h1v1h-1zM22 122h1v1h-1zM43 122h1v1h-1zM47 122h2v1h-2zM24 123h1v1h-1zM6 124h1v1h-1zM9 124h1v1h-1zM17 124h1v1h-1zM43 124h1v1h-1zM4 125h1v1h-1zM30 125h1v1h-1zM34 125h1v1h-1zM44 125h1v1h-1zM34 126h1v1h-1zM29 127h1v1h-1zM46 127h1v1h-1zM48 127h1v1h-1zM1 128h1v1h-1zM15 128h1v1h-1zM18 128h1v1h-1zM35 128h1v1h-1zM40 128h1v1h-1zM44 128h1v1h-1zM9 129h1v1h-1zM33 129h1v1h-1zM41 129h1v1h-1zM10 130h2v1h-2zM19 130h1v1h-1zM28 130h1v1h-1zM9 131h1v1h-1zM22 131h1v1h-1zM28 131h1v1h-1zM46 131h1v1h-1zM4 132h1v1h-1zM28 132h1v1h-1zM38 132h1v1h-1zM43 132h1v1h-1zM47 132h2v1h-2zM14 133h1v1h-1zM32 133h1v1h-1zM16 134h1v1h-1zM24 134h1v1h-1zM41 135h1v1h-1zM0 136h1v1h-1zM16 136h1v1h-1zM32 136h1v1h-1zM43 136h1v1h-1zM48 136h2v1h-2zM9 137h1v1h-1zM12 137h1v1h-1zM29 137h1v1h-1zM48 137h1v1h-1zM37 139h1v1h-1zM40 139h1v1h-1zM42 139h2v1h-2zM45 139h1v1h-1z"/>
<path fill="#fde49d" d="M41 0h1v1h-1zM30 1h1v1h-1zM37 1h1v1h-1zM5 2h1v1h-1zM13 2h1v1h-1zM15 2h1v1h-1zM47 2h1v1h-1zM42 3h2v1h-2zM27 4h1v1h-1zM25 5h2v1h-2zM40 5h1v1h-1zM43 5h1v1h-1zM38 7h1v1h-1zM40 7h1v1h-1zM44 8h1v1h-1zM25 9h1v1h-1zM38 9h1v1h-1zM47 9h1v1h-1zM7 10h1v1h-1zM41 10h1v1h-1zM21 11h1v1h-1zM35 11h1v1h-1zM16 12h1v1h-1zM47 12h1v1h-1zM49 12h1v1h-1zM19 13h1v1h-1zM27 13h1v1h-1zM34 13h1v1h-1zM36 15h1v1h-1zM15 16h1v1h-1zM34 16h1v1h-1zM41 16h1v1h-1zM14 17h1v1h-1zM35 18h1v1h-1zM5 19h1v1h-1zM17 20h1v1h-1zM41 20h1v1h-1zM17 21h1v1h-1zM37 21h1v1h-1zM40 23h1v1h-1zM10 24h1v1h-1zM17 25h1v1h-1zM41 26h1v1h-1zM16 27h1v1h-1zM25 27h1v1h-1zM40 27h1v1h-1zM43 27h1v1h-1zM33 28h1v1h-1zM43 28h1v1h-1zM16 29h1v1h-1zM36 29h1v1h-1zM39 29h1v1h-1zM12 30h1v1h-1zM42 30h1v1h-1zM48 30h1v1h-1zM6 31h1v1h-1zM15 31h1v1h-1zM17 31h1v1h-1zM35 31h1v1h-1zM14 32h1v1h-1zM18 32h1v1h-1zM35 32h1v1h-1zM22 33h1v1h-1zM16 34h1v1h-1zM39 34h1v1h-1zM10 36h1v1h-1zM39 37h1v1h-1zM14 38h1v1h-1zM27 38h1v1h-1zM24 39h1v1h-1zM42 39h1v1h-1zM12 40h1v1h-1zM29 40h1v1h-1zM23 41h1v1h-1zM45 41h1v1h-1zM18 42h1v1h-1zM22 42h1v1h-1zM38 42h2v1h-2zM4 43h1v1h-1zM20 43h1v1h-1zM41 43h1v1h-1zM48 44h1v1h-1zM32 45h1v1h-1zM18 46h1v1h-1zM40 46h1v1h-1zM46 47h1v1h-1zM47 49h1v1h-1zM18 50h1v1h-1zM2 51h1v1h-1zM24 52h1v1h-1zM42 52h1v1h-1zM47 55h1v1h-1zM33 57h1v1h-1zM39 57h1v1h-1zM43 57h1v1h-1zM17 58h1v1h-1zM23 58h1v1h-1zM27 58h1v1h-1zM6 59h1v1h-1zM38 59h1v1h-1zM42 60h1v1h-1zM20 61h1v1h-1zM35 61h1v1h-1zM49 62h1v1h-1zM3 64h1v1h-1zM12 64h1v1h-1zM16 65h1v1h-1zM18 65h1v1h-1zM8 66h1v1h-1zM19 66h1v1h-1zM35 66h1v1h-1zM41 66h1v1h-1zM49 66h1v1h-1zM0 67h1v1h-1zM1 68h1v1h-1zM26 68h1v1h-1zM48 68h1v1h-1zM0 71h1v1h-1zM30 71h1v1h-1zM33 71h1v1h-1zM10 73h1v1h-1zM18 73h1v1h-1zM42 73h1v1h-1zM44 73h1v1h-1zM0 74h1v1h-1zM9 74h1v1h-1zM24 74h2v1h-2zM4 75h1v1h-1zM41 75h1v1h-1zM46 76h1v1h-1zM10 77h1v1h-1zM12 78h1v1h-1zM49 78h1v1h-1zM17 79h1v1h-1zM38 81h1v1h-1zM45 81h1v1h-1zM2 84h1v1h-1zM31 85h1v1h-1zM24 86h1v1h-1zM8 87h1v1h-1zM17 87h1v1h-1zM9 88h1v1h-1zM26 88h1v1h-1zM4 89h1v1h-1zM2 90h1v1h-1zM6 90h1v1h-1zM12 91h1v1h-1zM8 93h1v1h-1zM20 93h1v1h-1zM47 95h1v1h-1zM46 97h1v1h-1zM11 98h2v1h-2zM5 99h1v1h-1zM16 99h1v1h-1zM0 100h1v1h-1zM3 100h1v1h-1zM15 100h1v1h-1zM31 100h1v1h-1zM28 101h1v1h-1zM9 103h1v1h-1zM11 103h1v1h-1zM39 103h1v1h-1zM7 104h1v1h-1zM39 105h1v1h-1zM9 106h1v1h-1zM1 108h1v1h-1zM34 108h1v1h-1zM34 109h1v1h-1zM32 112h1v1h-1zM9 113h1v1h-1zM20 113h1v1h-1zM44 113h1v1h-1zM13 114h1v1h-1zM33 114h1v1h-1zM1 119h1v1h-1zM4 119h1v1h-1zM28 119h1v1h-1zM40 119h1v1h-1zM3 120h1v1h-1zM11 120h1v1h-1zM16 120h1v1h-1zM49 120h1v1h-1zM23 121h1v1h-1zM8 124h1v1h-1zM19 124h1v1h-1zM21 128h1v1h-1zM25 129h1v1h-1zM27 129h1v1h-1zM13 132h1v1h-1zM19 132h1v1h-1zM39 132h1v1h-1zM42 132h1v1h-1zM48 134h1v1h-1zM24 135h1v1h-1zM38 135h1v1h-1zM46 136h1v1h-1zM2 137h1v1h-1zM18 137h1v1h-1zM26 139h1v1h-1z"/>
<path fill="#fcdd91" d="M23 0h1v1h-1zM33 1h1v1h-1zM27 2h1v1h-1zM43 2h1v1h-1zM7 3h1v1h-1zM29 3h1v1h-1zM5 4h1v1h-1zM16 6h1v1h-1zM46 6h1v1h-1zM31 9h1v1h-1zM42 10h1v1h-1zM4 11h1v1h-1zM32 15h1v1h-1zM23 17h1v1h-1zM33 17h1v1h-1zM41 18h1v1h-1zM17 19h1v1h-1zM29 20h1v1h-1zM45 22h1v1h-1zM11 24h1v1h-1zM39 25h1v1h-1zM11 26h1v1h-1zM39 26h1v1h-1zM46 26h1v1h-1zM33 27h1v1h-1zM42 27h1v1h-1zM7 30h1v1h-1zM25 30h1v1h-1zM40 30h2v1h-2zM4 31h1v1h-1zM12 31h1v1h-1zM14 33h1v1h-1zM40 35h1v1h-1zM23 36h1v1h-1zM45 36h1v1h-1zM8 37h1v1h-1zM33 38h1v1h-1zM43 38h1v1h-1zM47 38h1v1h-1zM35 40h1v1h-1zM8 42h1v1h-1zM42 42h1v1h-1zM36 43h1v1h-1zM38 45h1v1h-1zM1 48h1v1h-1zM31 49h1v1h-1zM21 50h1v1h-1zM20 52h1v1h-1zM0 54h2v1h-2zM23 55h1v1h-1zM9 57h1v1h-1zM12 58h1v1h-1zM42 59h1v1h-1zM4 64h1v1h-1zM10 64h1v1h-1zM44 64h1v1h-1zM17 65h1v1h-1zM26 65h1v1h-1zM43 66h1v1h-1zM5 67h1v1h-1zM9 68h1v1h-1zM13 68h1v1h-1zM42 69h1v1h-1zM12 71h1v1h-1zM0 72h2v1h-2zM4 74h1v1h-1zM8 76h1v1h-1zM48 76h1v1h-1zM15 78h1v1h-1zM0 84h1v1h-1zM0 88h1v1h-1zM42 92h1v1h-1zM38 94h1v1h-1zM24 96h1v1h-1zM30 96h1v1h-1zM37 96h1v1h-1zM42 97h1v1h-1zM14 100h1v1h-1zM7 101h1v1h-1zM8 102h1v1h-1zM47 103h1v1h-1zM1 104h1v1h-1zM20 105h1v1h-1zM42 106h1v1h-1zM0 107h1v1h-1zM2 107h1v1h-1zM2 108h1v1h-1zM35 108h1v1h-1zM47 109h1v1h-1zM11 111h1v1h-1zM37 111h1v1h-1zM26 112h1v1h-1zM5 114h1v1h-1zM5 120h2v1h-2zM4 121h1v1h-1zM12 121h1v1h-1zM29 122h1v1h-1zM32 124h1v1h-1zM46 126h1v1h-1zM2 128h1v1h-1zM48 128h1v1h-1zM22 129h1v1h-1zM23 130h1v1h-1zM13 131h1v1h-1zM24 131h1v1h-1zM39 131h1v1h-1zM2 133h1v1h-1zM38 133h1v1h-1zM1 136h1v1h-1zM45 137h1v1h-1zM30 139h1v1h-1z"/>
<path fill="#fad489" d="M41 1h1v1h-1zM20 3h1v1h-1zM34 3h1v1h-1zM6 7h1v1h-1zM23 10h1v1h-1zM48 11h1v1h-1zM11 13h1v1h-1zM23 14h1v1h-1zM17 15h1v1h-1zM6 17h1v1h-1zM43 19h1v1h-1zM3 21h1v1h-1zM19 22h1v1h-1zM35 25h1v1h-1zM40 25h1v1h-1zM43 26h1v1h-1zM48 26h1v1h-1zM16 28h1v1h-1zM27 29h1v1h-1zM9 30h1v1h-1zM26 30h1v1h-1zM20 32h1v1h-1zM40 32h1v1h-1zM42 32h1v1h-1zM38 33h1v1h-1zM40 34h1v1h-1zM3 36h1v1h-1zM37 36h1v1h-1zM19 38h1v1h-1zM49 41h1v1h-1zM33 43h2v1h-2zM43 43h1v1h-1zM2 45h1v1h-1zM9 46h1v1h-1zM41 46h1v1h-1zM48 46h1v1h-1zM1 47h1v1h-1zM10 50h1v1h-1zM14 51h1v1h-1zM1 53h1v1h-1zM2 54h1v1h-1zM29 54h1v1h-1zM5 55h1v1h-1zM34 55h1v1h-1zM46 55h1v1h-1zM47 56h1v1h-1zM46 57h1v1h-1zM45 59h1v1h-1zM0 60h1v1h-1zM2 62h1v1h-1zM45 65h1v1h-1zM34 68h1v1h-1zM43 69h1v1h-1zM34 71h1v1h-1zM2 73h1v1h-1zM35 73h1v1h-1zM1 74h2v1h-2zM10 75h1v1h-1zM2 77h1v1h-1zM11 77h1v1h-1zM42 78h1v1h-1zM10 80h1v1h-1zM2 81h1v1h-1zM13 81h1v1h-1zM25 82h1v1h-1zM12 83h1v1h-1zM1 84h1v1h-1zM8 84h1v1h-1zM15 84h1v1h-1zM0 85h1v1h-1zM45 85h1v1h-1zM15 86h1v1h-1zM17 86h1v1h-1zM45 86h1v1h-1zM11 87h1v1h-1zM15 87h1v1h-1zM10 88h1v1h-1zM47 88h1v1h-1zM9 90h1v1h-1zM0 94h1v1h-1zM5 94h1v1h-1zM27 94h1v1h-1zM36 94h1v1h-1zM8 97h1v1h-1zM0 98h2v1h-2zM2 99h1v1h-1zM2 100h1v1h-1zM33 103h1v1h-1zM0 104h1v1h-1zM2 104h1v1h-1zM1 107h1v1h-1zM0 108h1v1h-1zM16 108h1v1h-1zM23 110h1v1h-1zM2 121h1v1h-1zM38 122h1v1h-1zM1 127h2v1h-2zM31 129h1v1h-1zM1 133h1v1h-1zM3 133h1v1h-1zM34 133h1v1h-1zM39 137h1v1h-1z"/>
<path fill="#f9cc80" d="M37 8h1v1h-1zM28 10h1v1h-1zM3 13h1v1h-1zM8 17h1v1h-1zM31 20h1v1h-1zM36 22h1v1h-1zM43 24h1v1h-1zM29 27h1v1h-1zM41 27h1v1h-1zM3 28h1v1h-1zM12 28h1v1h-1zM3 29h1v1h-1zM42 29h1v1h-1zM8 31h1v1h-1zM39 33h1v1h-1zM42 33h1v1h-1zM43 39h1v1h-1zM3 40h1v1h-1zM39 41h1v1h-1zM6 44h1v1h-1zM1 45h1v1h-1zM2 47h1v1h-1zM42 48h2v1h-2zM17 49h1v1h-1zM30 51h1v1h-1zM2 52h2v1h-2zM40 53h1v1h-1zM5 54h1v1h-1zM2 61h1v1h-1zM6 61h1v1h-1zM45 61h1v1h-1zM1 63h1v1h-1zM45 63h1v1h-1zM47 66h1v1h-1zM2 67h1v1h-1zM2 68h1v1h-1zM14 68h1v1h-1zM31 69h1v1h-1zM1 71h1v1h-1zM3 72h1v1h-1zM0 73h2v1h-2zM6 73h1v1h-1zM13 74h1v1h-1zM1 75h1v1h-1zM2 76h1v1h-1zM10 76h1v1h-1zM0 77h1v1h-1zM16 77h1v1h-1zM28 77h1v1h-1zM1 80h1v1h-1zM17 80h1v1h-1zM1 81h1v1h-1zM16 81h1v1h-1zM16 83h1v1h-1zM11 84h1v1h-1zM34 84h1v1h-1zM17 85h1v1h-1zM2 86h1v1h-1zM31 88h1v1h-1zM11 89h1v1h-1zM16 89h1v1h-1zM0 91h1v1h-1zM2 91h1v1h-1zM14 91h1v1h-1zM16 94h1v1h-1zM18 94h1v1h-1zM32 94h1v1h-1zM1 96h1v1h-1zM10 97h2v1h-2zM0 99h2v1h-2zM1 100h1v1h-1zM26 100h1v1h-1zM35 100h1v1h-1zM32 103h1v1h-1zM16 106h1v1h-1zM24 109h1v1h-1zM2 113h1v1h-1zM18 123h1v1h-1zM21 123h1v1h-1zM1 125h2v1h-2zM2 129h1v1h-1zM2 130h1v1h-1zM40 134h1v1h-1z"/>
<path fill="#f7c378" d="M23 8h1v1h-1zM8 20h1v1h-1zM19 21h1v1h-1zM36 21h1v1h-1zM3 22h1v1h-1zM46 29h1v1h-1zM3 34h1v1h-1zM44 35h1v1h-1zM4 40h1v1h-1zM40 41h1v1h-1zM0 45h1v1h-1zM2 48h2v1h-2zM1 49h1v1h-1zM0 50h1v1h-1zM0 51h2v1h-2zM3 54h1v1h-1zM1 59h1v1h-1zM1 61h1v1h-1zM0 62h1v1h-1zM6 63h1v1h-1zM30 63h1v1h-1zM0 64h1v1h-1zM2 64h1v1h-1zM0 68h1v1h-1zM18 68h1v1h-1zM2 71h1v1h-1zM15 73h1v1h-1zM0 75h1v1h-1zM15 75h1v1h-1zM0 76h1v1h-1zM1 77h1v1h-1zM9 77h1v1h-1zM36 77h1v1h-1zM11 81h1v1h-1zM42 81h1v1h-1zM11 82h1v1h-1zM1 83h1v1h-1zM15 83h1v1h-1zM49 84h1v1h-1zM2 85h1v1h-1zM11 85h1v1h-1zM1 86h1v1h-1zM9 87h1v1h-1zM15 90h1v1h-1zM1 91h1v1h-1zM10 91h1v1h-1zM10 92h1v1h-1zM9 93h1v1h-1zM16 93h1v1h-1zM1 94h1v1h-1zM18 97h1v1h-1zM48 100h1v1h-1zM9 101h1v1h-1zM10 102h1v1h-1zM0 112h1v1h-1zM2 119h1v1h-1zM1 121h1v1h-1zM0 128h1v1h-1zM49 129h1v1h-1zM16 131h1v1h-1zM1 135h1v1h-1zM1 138h1v1h-1zM2 139h1v1h-1z"/>
<path fill="#f5b970" d="M17 13h1v1h-1zM42 25h1v1h-1zM3 30h1v1h-1zM3 32h1v1h-1zM11 39h1v1h-1zM3 44h1v1h-1zM0 48h1v1h-1zM0 49h1v1h-1zM1 57h1v1h-1zM3 60h1v1h-1zM1 64h1v1h-1zM0 66h1v1h-1zM2 66h1v1h-1zM47 67h1v1h-1zM0 70h1v1h-1zM3 70h1v1h-1zM3 73h1v1h-1zM48 73h1v1h-1zM2 75h1v1h-1zM17 75h1v1h-1zM9 76h1v1h-1zM16 76h1v1h-1zM0 81h1v1h-1zM0 82h1v1h-1zM9 84h1v1h-1zM11 86h1v1h-1zM2 88h1v1h-1zM0 89h3v1h-3zM10 89h1v1h-1zM46 89h1v1h-1zM17 91h1v1h-1zM8 92h1v1h-1zM9 94h1v1h-1zM17 94h1v1h-1zM2 96h1v1h-1zM9 99h1v1h-1zM17 99h1v1h-1zM2 106h1v1h-1zM13 107h1v1h-1zM0 110h1v1h-1zM0 114h1v1h-1zM32 117h1v1h-1zM0 119h1v1h-1zM22 120h1v1h-1zM20 130h1v1h-1zM1 134h2v1h-2zM42 134h1v1h-1zM43 137h1v1h-1z"/>
<path fill="#f3af68" d="M20 25h1v1h-1zM43 30h1v1h-1zM3 38h1v1h-1zM2 50h1v1h-1zM0 52h1v1h-1zM1 55h1v1h-1zM1 56h1v1h-1zM3 56h1v1h-1zM0 57h1v1h-1zM2 58h1v1h-1zM0 59h1v1h-1zM2 60h1v1h-1zM0 63h1v1h-1zM1 66h1v1h-1zM1 76h1v1h-1zM0 79h1v1h-1zM2 79h1v1h-1zM9 79h1v1h-1zM8 81h1v1h-1zM10 82h1v1h-1zM0 83h1v1h-1zM2 83h1v1h-1zM1 85h1v1h-1zM10 85h1v1h-1zM0 86h1v1h-1zM1 93h1v1h-1zM2 94h1v1h-1zM0 95h1v1h-1zM11 96h1v1h-1zM0 97h1v1h-1zM0 101h1v1h-1zM19 102h1v1h-1zM1 110h1v1h-1zM0 111h2v1h-2zM36 111h1v1h-1zM1 112h2v1h-2zM2 114h1v1h-1zM2 117h1v1h-1zM0 121h1v1h-1zM5 126h1v1h-1zM1 130h1v1h-1zM15 136h1v1h-1z"/>
<path fill="#f1a561" d="M13 0h1v1h-1zM17 17h1v1h-1zM3 23h1v1h-1zM43 25h1v1h-1zM28 37h1v1h-1zM1 52h1v1h-1zM2 55h1v1h-1zM35 56h1v1h-1zM2 57h1v1h-1zM2 59h1v1h-1zM0 61h1v1h-1zM2 63h1v1h-1zM1 69h1v1h-1zM9 81h1v1h-1zM1 82h1v1h-1zM44 82h1v1h-1zM16 84h1v1h-1zM9 92h1v1h-1zM0 93h1v1h-1zM2 93h1v1h-1zM5 95h1v1h-1zM0 96h1v1h-1zM15 96h1v1h-1zM2 98h1v1h-1zM2 101h1v1h-1zM0 103h1v1h-1zM1 105h1v1h-1zM15 105h1v1h-1zM1 106h1v1h-1zM1 109h2v1h-2zM2 111h1v1h-1zM1 113h1v1h-1zM0 117h1v1h-1zM0 118h1v1h-1zM2 122h1v1h-1zM2 131h1v1h-1zM2 132h1v1h-1zM0 133h1v1h-1zM1 137h1v1h-1zM1 139h1v1h-1z"/>
<path fill="#ef9b59" d="M20 7h1v1h-1zM27 33h1v1h-1zM3 39h1v1h-1zM3 45h1v1h-1zM3 47h1v1h-1zM2 49h1v1h-1zM1 50h1v1h-1zM0 55h1v1h-1zM2 56h1v1h-1zM41 60h1v1h-1zM1 70h1v1h-1zM48 71h1v1h-1zM11 75h1v1h-1zM9 78h1v1h-1zM2 82h1v1h-1zM17 84h1v1h-1zM9 85h1v1h-1zM2 95h1v1h-1zM1 97h2v1h-2zM16 98h1v1h-1zM10 100h1v1h-1zM1 101h1v1h-1zM0 102h3v1h-3zM0 105h1v1h-1zM2 105h1v1h-1zM2 110h1v1h-1zM1 117h1v1h-1zM2 118h1v1h-1zM1 122h1v1h-1zM0 123h2v1h-2zM0 130h1v1h-1zM1 131h1v1h-1zM0 134h1v1h-1zM21 134h1v1h-1zM0 135h1v1h-1zM2 135h1v1h-1zM0 137h1v1h-1zM2 138h1v1h-1z"/>
<path fill="#ec9152" d="M3 24h1v1h-1zM3 31h1v1h-1zM5 33h1v1h-1zM3 37h1v1h-1zM39 38h1v1h-1zM20 50h1v1h-1zM45 67h1v1h-1zM2 70h1v1h-1zM16 75h1v1h-1zM17 88h1v1h-1zM10 93h1v1h-1zM1 95h1v1h-1zM15 99h1v1h-1zM1 103h1v1h-1zM0 106h1v1h-1zM5 106h1v1h-1zM0 113h1v1h-1zM1 114h1v1h-1zM1 115h1v1h-1zM1 118h1v1h-1zM1 120h2v1h-2zM2 123h1v1h-1zM1 124h1v1h-1zM0 125h1v1h-1zM1 126h1v1h-1zM0 127h1v1h-1zM34 129h1v1h-1zM33 130h1v1h-1zM0 131h1v1h-1zM0 139h1v1h-1z"/>
<path fill="#e9864c" d="M30 13h1v1h-1zM23 24h1v1h-1zM3 26h1v1h-1zM12 26h1v1h-1zM42 37h1v1h-1zM17 53h1v1h-1zM0 56h1v1h-1zM0 69h1v1h-1zM2 69h1v1h-1zM0 78h1v1h-1zM15 81h1v1h-1zM1 88h1v1h-1zM0 92h1v1h-1zM2 92h1v1h-1zM11 94h1v1h-1zM45 102h1v1h-1zM0 109h1v1h-1zM0 115h1v1h-1zM2 115h1v1h-1zM49 115h1v1h-1zM0 120h1v1h-1zM2 124h1v1h-1zM0 129h2v1h-2zM1 132h1v1h-1zM28 133h1v1h-1zM36 139h1v1h-1z"/>
<path fill="#e67b46" d="M20 18h1v1h-1zM14 31h1v1h-1zM4 37h1v1h-1zM3 41h1v1h-1zM0 58h1v1h-1zM1 60h1v1h-1zM2 78h1v1h-1zM36 80h1v1h-1zM2 103h1v1h-1zM0 138h1v1h-1z"/>
<path fill="#e37040" d="M32 8h1v1h-1zM0 46h2v1h-2zM39 50h1v1h-1zM1 58h1v1h-1zM19 69h1v1h-1zM1 78h1v1h-1zM1 79h1v1h-1zM0 87h1v1h-1zM2 87h1v1h-1zM1 92h1v1h-1zM0 124h1v1h-1zM2 126h1v1h-1zM37 128h1v1h-1zM0 132h1v1h-1zM25 133h1v1h-1z"/>
<path fill="#e0653b" d="M2 46h1v1h-1zM16 85h1v1h-1zM1 87h1v1h-1zM12 105h1v1h-1zM2 116h1v1h-1zM0 122h1v1h-1z"/>
<path fill="#dc5a36" d="M40 37h1v1h-1zM17 55h1v1h-1zM0 65h1v1h-1zM2 65h1v1h-1zM1 116h1v1h-1z"/>
<path fill="#d74d32" d="M29 93h1v1h-1zM0 126h1v1h-1z"/>
<path fill="#d2402e" d="M43 32h1v1h-1zM8 99h1v1h-1zM0 116h1v1h-1z"/>
<path fill="#cd332a" d="M1 65h1v1h-1z"/>
</g>
</g>
<rect x="0" y="0" width="520" height="1" fill="#000"/><rect x="0" y="745" width="520" height="1" fill="#000"/>
<rect x="0" y="0" width="1" height="746" fill="#000"/><rect x="519" y="0" width="1" height="746" fill="#000"/>
<rect x="1" y="1" width="1" height="744" fill="#7a7a7a"/><rect x="1" y="1" width="518" height="1" fill="#9a9a9a"/>
<rect x="518" y="1" width="1" height="744" fill="#b0b0b0"/><rect x="1" y="744" width="518" height="1" fill="#a0a0a0"/>
</svg>
</body></html>
